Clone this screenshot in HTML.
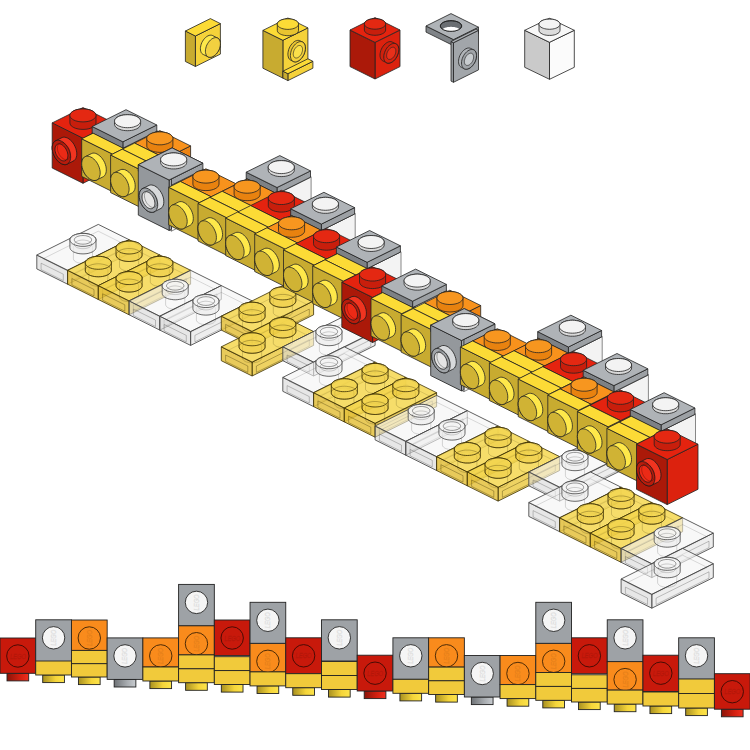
<!DOCTYPE html>
<html><head><meta charset="utf-8"><style>
html,body{margin:0;padding:0;background:#fff;width:750px;height:750px;overflow:hidden;font-family:"Liberation Sans",sans-serif;}
svg{display:block;}
</style></head><body>
<svg width="750" height="750" viewBox="0 0 750 750"><defs>
<linearGradient id="gy" x1="0" x2="1"><stop offset="0" stop-color="#a89020"/><stop offset="0.6" stop-color="#f5d53a"/><stop offset="1" stop-color="#fde44a"/></linearGradient>
<linearGradient id="gr" x1="0" x2="1"><stop offset="0" stop-color="#8a1408"/><stop offset="0.6" stop-color="#d42010"/><stop offset="1" stop-color="#f03020"/></linearGradient>
<linearGradient id="gg" x1="0" x2="1"><stop offset="0" stop-color="#6e7276"/><stop offset="0.6" stop-color="#a8acb0"/><stop offset="1" stop-color="#c8ccd0"/></linearGradient>
</defs><polygon points="195.4,66.5 220.4,54.1 220.4,23.6 195.4,36.0" fill="#f5d23a" stroke="#222222" stroke-width="0.8" stroke-linejoin="round" />
<polygon points="185.4,61.5 195.4,66.5 195.4,36.0 185.4,31.0" fill="#c8ab30" stroke="#222222" stroke-width="0.8" stroke-linejoin="round" />
<polygon points="185.4,31.0 195.4,36.0 220.4,23.6 210.4,18.6" fill="#fcdb36" stroke="#222222" stroke-width="0.8" stroke-linejoin="round" />
<polygon points="200.4,48.7 200.5,47.3 200.8,45.7 201.2,44.2 201.8,42.6 202.6,41.2 203.5,39.8 204.5,38.5 205.6,37.5 206.7,36.6 207.9,35.9 209.1,35.4 210.2,35.2 211.3,35.2 212.3,35.4 217.3,37.9 218.2,38.4 219.0,39.1 219.6,40.0 220.0,41.1 220.3,42.4 220.4,43.8 220.3,45.2 220.0,46.8 219.6,48.3 219.0,49.9 218.2,51.3 217.3,52.7 216.3,54.0 215.2,55.0 214.1,55.9 212.9,56.6 211.7,57.1 210.6,57.3 209.5,57.3 208.5,57.1 203.5,54.6 202.6,54.1 201.8,53.4 201.2,52.5 200.8,51.4 200.5,50.1" fill="#fee84a" stroke="#222222" stroke-width="0.8" stroke-linejoin="round" />
<polygon points="212.9,38.3 214.1,37.9 215.2,37.6 216.3,37.6 217.3,37.9 218.2,38.4 219.0,39.1 219.6,40.0 220.0,41.1 220.3,42.4 220.4,43.8 220.3,45.2 220.0,46.8 219.6,48.3 219.0,49.9 218.2,51.3 217.3,52.7 216.3,54.0 215.2,55.0 214.1,55.9 212.9,56.6 211.7,57.1 210.6,57.3 209.5,57.3 208.5,57.1 207.6,56.6 206.8,55.9 206.2,55.0 205.8,53.9 205.5,52.6 205.4,51.2 205.5,49.7 205.8,48.2 206.2,46.7 206.8,45.1 207.6,43.7 208.5,42.3 209.5,41.0 210.6,39.9 211.7,39.0" fill="#f2d040" stroke="#222222" stroke-width="0.8" stroke-linejoin="round" />
<polygon points="282.9,78.1 307.9,65.7 307.9,27.9 282.9,40.3" fill="#f5d23a" stroke="#222222" stroke-width="0.8" stroke-linejoin="round" />
<polygon points="262.9,68.2 282.9,78.1 282.9,40.3 262.9,30.4" fill="#c8ab30" stroke="#222222" stroke-width="0.8" stroke-linejoin="round" />
<polygon points="262.9,30.4 282.9,40.3 307.9,27.9 287.9,18.0" fill="#fcdb36" stroke="#222222" stroke-width="0.8" stroke-linejoin="round" />
<polygon points="277.3,24.1 277.4,23.3 277.8,22.5 278.4,21.7 279.3,21.0 280.4,20.4 281.7,19.8 283.1,19.4 284.6,19.1 286.2,18.9 287.9,18.8 289.6,18.9 291.2,19.1 292.7,19.4 294.1,19.8 295.4,20.4 296.5,21.0 297.4,21.7 298.0,22.5 298.4,23.3 298.5,24.1 298.5,30.4 298.4,31.2 298.0,32.0 297.4,32.8 296.5,33.5 295.4,34.1 294.1,34.7 292.7,35.1 291.2,35.4 289.6,35.6 287.9,35.7 286.2,35.6 284.6,35.4 283.1,35.1 281.7,34.7 280.4,34.1 279.3,33.5 278.4,32.8 277.8,32.0 277.4,31.2 277.3,30.4" fill="#e8c430" stroke="#222222" stroke-width="0.8" stroke-linejoin="round" />
<polygon points="295.4,27.8 296.5,27.2 297.4,26.5 298.0,25.7 298.4,24.9 298.5,24.1 298.4,23.3 298.0,22.5 297.4,21.7 296.5,21.0 295.4,20.4 294.1,19.8 292.7,19.4 291.2,19.1 289.6,18.9 287.9,18.8 286.2,18.9 284.6,19.1 283.1,19.4 281.7,19.8 280.4,20.4 279.3,21.0 278.4,21.7 277.8,22.5 277.4,23.3 277.3,24.1 277.4,24.9 277.8,25.7 278.4,26.5 279.3,27.2 280.4,27.8 281.7,28.4 283.1,28.8 284.6,29.1 286.2,29.3 287.9,29.4 289.6,29.3 291.2,29.1 292.7,28.8 294.1,28.4" fill="#fcdb36" stroke="#222222" stroke-width="0.8" stroke-linejoin="round" />
<polygon points="287.9,80.6 312.9,68.2 312.9,61.3 287.9,73.7" fill="#f5d23a" stroke="#222222" stroke-width="0.8" stroke-linejoin="round" />
<polygon points="282.9,78.1 287.9,80.6 287.9,73.7 282.9,71.2" fill="#c8ab30" stroke="#222222" stroke-width="0.8" stroke-linejoin="round" />
<polygon points="282.9,71.2 287.9,73.7 312.9,61.3 307.9,58.8" fill="#fcdb36" stroke="#222222" stroke-width="0.8" stroke-linejoin="round" />
<polygon points="287.9,54.2 288.0,52.7 288.3,51.1 288.7,49.5 289.3,48.0 290.1,46.4 291.0,45.0 292.0,43.8 293.1,42.7 294.2,41.7 295.4,41.0 296.6,40.6 297.7,40.4 298.8,40.4 299.8,40.7 302.3,41.9 303.2,42.4 304.0,43.2 304.6,44.1 305.0,45.3 305.3,46.6 305.4,48.0 305.3,49.5 305.0,51.1 304.6,52.7 304.0,54.3 303.2,55.8 302.3,57.2 301.3,58.5 300.2,59.6 299.1,60.5 297.9,61.2 296.7,61.7 295.6,61.9 294.5,61.8 293.5,61.6 291.0,60.3 290.1,59.8 289.3,59.1 288.7,58.1 288.3,57.0 288.0,55.7" fill="#e8c430" stroke="#222222" stroke-width="0.8" stroke-linejoin="round" />
<polygon points="297.9,42.3 299.1,41.8 300.2,41.6 301.3,41.6 302.3,41.9 303.2,42.4 304.0,43.2 304.6,44.1 305.0,45.3 305.3,46.6 305.4,48.0 305.3,49.5 305.0,51.1 304.6,52.7 304.0,54.3 303.2,55.8 302.3,57.2 301.3,58.5 300.2,59.6 299.1,60.5 297.9,61.2 296.7,61.7 295.6,61.9 294.5,61.8 293.5,61.6 292.6,61.1 291.8,60.3 291.2,59.3 290.8,58.2 290.5,56.9 290.4,55.5 290.5,53.9 290.8,52.4 291.2,50.8 291.8,49.2 292.6,47.7 293.5,46.3 294.5,45.0 295.6,43.9 296.7,43.0" fill="#f5d23a" stroke="#222222" stroke-width="0.8" stroke-linejoin="round" />
<polygon points="297.9,45.9 298.6,45.6 299.3,45.5 300.0,45.5 300.6,45.6 301.2,46.0 301.7,46.4 302.0,47.0 302.3,47.7 302.5,48.5 302.5,49.4 302.5,50.4 302.3,51.4 302.0,52.3 301.7,53.3 301.2,54.3 300.6,55.1 300.0,55.9 299.3,56.6 298.6,57.2 297.9,57.6 297.2,57.9 296.5,58.0 295.8,58.0 295.2,57.8 294.6,57.5 294.1,57.0 293.8,56.5 293.5,55.7 293.3,54.9 293.2,54.0 293.3,53.1 293.5,52.1 293.8,51.1 294.1,50.2 294.6,49.2 295.2,48.4 295.8,47.6 296.5,46.9 297.2,46.3" fill="#fbe04a" stroke="#222222" stroke-width="0.6400000000000001" stroke-linejoin="round" />
<polygon points="375.0,79.0 400.0,66.6 400.0,30.0 375.0,42.4" fill="#dc220e" stroke="#222222" stroke-width="0.8" stroke-linejoin="round" />
<polygon points="350.0,66.6 375.0,79.0 375.0,42.4 350.0,30.0" fill="#ab1909" stroke="#222222" stroke-width="0.8" stroke-linejoin="round" />
<polygon points="350.0,30.0 375.0,42.4 400.0,30.0 375.0,17.6" fill="#e4230f" stroke="#222222" stroke-width="0.8" stroke-linejoin="round" />
<polygon points="364.4,23.9 364.5,23.1 364.9,22.3 365.5,21.5 366.4,20.8 367.5,20.2 368.8,19.6 370.2,19.2 371.7,18.9 373.3,18.7 375.0,18.6 376.7,18.7 378.3,18.9 379.8,19.2 381.2,19.6 382.5,20.2 383.6,20.8 384.5,21.5 385.1,22.3 385.5,23.1 385.6,23.9 385.6,30.0 385.5,30.8 385.1,31.6 384.5,32.4 383.6,33.1 382.5,33.7 381.2,34.3 379.8,34.7 378.3,35.0 376.7,35.2 375.0,35.3 373.3,35.2 371.7,35.0 370.2,34.7 368.8,34.3 367.5,33.7 366.4,33.1 365.5,32.4 364.9,31.6 364.5,30.8 364.4,30.0" fill="#c81e0c" stroke="#222222" stroke-width="0.8" stroke-linejoin="round" />
<polygon points="382.5,27.6 383.6,27.0 384.5,26.3 385.1,25.5 385.5,24.7 385.6,23.9 385.5,23.1 385.1,22.3 384.5,21.5 383.6,20.8 382.5,20.2 381.2,19.6 379.8,19.2 378.3,18.9 376.7,18.7 375.0,18.6 373.3,18.7 371.7,18.9 370.2,19.2 368.8,19.6 367.5,20.2 366.4,20.8 365.5,21.5 364.9,22.3 364.5,23.1 364.4,23.9 364.5,24.7 364.9,25.5 365.5,26.3 366.4,27.0 367.5,27.6 368.8,28.2 370.2,28.6 371.7,28.9 373.3,29.1 375.0,29.2 376.7,29.1 378.3,28.9 379.8,28.6 381.2,28.2" fill="#e42812" stroke="#222222" stroke-width="0.8" stroke-linejoin="round" />
<polygon points="380.0,55.2 380.1,53.7 380.4,52.2 380.8,50.6 381.4,49.1 382.2,47.6 383.1,46.2 384.1,45.0 385.2,43.9 386.3,43.0 387.5,42.3 388.7,41.8 389.8,41.6 390.9,41.6 391.9,41.9 395.7,43.7 396.6,44.2 397.3,44.9 397.9,45.8 398.4,46.9 398.7,48.2 398.8,49.6 398.7,51.1 398.4,52.6 397.9,54.1 397.3,55.7 396.6,57.1 395.7,58.5 394.7,59.8 393.6,60.9 392.4,61.8 391.2,62.5 390.1,62.9 388.9,63.2 387.8,63.2 386.8,62.9 383.1,61.0 382.2,60.5 381.4,59.8 380.8,58.9 380.4,57.8 380.1,56.6" fill="#d0200c" stroke="#222222" stroke-width="0.8" stroke-linejoin="round" />
<polygon points="391.2,44.2 392.4,43.7 393.6,43.5 394.7,43.5 395.7,43.7 396.6,44.2 397.3,44.9 397.9,45.8 398.4,46.9 398.7,48.2 398.8,49.6 398.7,51.1 398.4,52.6 397.9,54.1 397.3,55.7 396.6,57.1 395.7,58.5 394.7,59.8 393.6,60.9 392.4,61.8 391.2,62.5 390.1,62.9 388.9,63.2 387.8,63.2 386.8,62.9 385.9,62.4 385.2,61.7 384.6,60.8 384.1,59.7 383.8,58.4 383.8,57.0 383.8,55.6 384.1,54.0 384.6,52.5 385.2,50.9 385.9,49.5 386.8,48.1 387.8,46.8 388.9,45.8 390.1,44.9" fill="#d8220e" stroke="#222222" stroke-width="0.8" stroke-linejoin="round" />
<polygon points="391.2,47.6 392.0,47.3 392.7,47.2 393.4,47.2 394.0,47.4 394.5,47.7 395.0,48.1 395.4,48.7 395.7,49.4 395.8,50.1 395.9,51.0 395.8,51.9 395.7,52.9 395.4,53.8 395.0,54.8 394.5,55.7 394.0,56.5 393.4,57.3 392.7,58.0 392.0,58.6 391.2,59.0 390.5,59.3 389.8,59.4 389.1,59.4 388.5,59.3 388.0,59.0 387.5,58.5 387.1,57.9 386.8,57.3 386.7,56.5 386.6,55.6 386.7,54.7 386.8,53.8 387.1,52.8 387.5,51.8 388.0,50.9 388.5,50.1 389.1,49.3 389.8,48.6 390.5,48.1" fill="#e8301a" stroke="#222222" stroke-width="0.6400000000000001" stroke-linejoin="round" />
<polygon points="453.5,45.7 478.5,33.3 478.5,27.2 453.5,39.6" fill="#a2a6aa" stroke="#222222" stroke-width="0.8" stroke-linejoin="round" />
<polygon points="426.0,32.1 453.5,45.7 453.5,39.6 426.0,26.0" fill="#808488" stroke="#222222" stroke-width="0.8" stroke-linejoin="round" />
<polygon points="426.0,26.0 453.5,39.6 478.5,27.2 451.0,13.6" fill="#afb3b7" stroke="#222222" stroke-width="0.8" stroke-linejoin="round" />
<clipPath id="hclip"><polygon points="458.5,29.7 459.6,29.1 460.5,28.4 461.1,27.6 461.5,26.8 461.6,26.0 461.5,25.2 461.1,24.4 460.5,23.6 459.6,22.9 458.5,22.3 457.2,21.7 455.8,21.3 454.3,21.0 452.7,20.8 451.0,20.7 449.3,20.8 447.7,21.0 446.2,21.3 444.8,21.7 443.5,22.3 442.4,22.9 441.5,23.6 440.9,24.4 440.5,25.2 440.4,26.0 440.5,26.8 440.9,27.6 441.5,28.4 442.4,29.1 443.5,29.7 444.8,30.3 446.2,30.7 447.7,31.0 449.3,31.2 451.0,31.3 452.7,31.2 454.3,31.0 455.8,30.7 457.2,30.3"/></clipPath>
<polygon points="458.5,29.7 459.6,29.1 460.5,28.4 461.1,27.6 461.5,26.8 461.6,26.0 461.5,25.2 461.1,24.4 460.5,23.6 459.6,22.9 458.5,22.3 457.2,21.7 455.8,21.3 454.3,21.0 452.7,20.8 451.0,20.7 449.3,20.8 447.7,21.0 446.2,21.3 444.8,21.7 443.5,22.3 442.4,22.9 441.5,23.6 440.9,24.4 440.5,25.2 440.4,26.0 440.5,26.8 440.9,27.6 441.5,28.4 442.4,29.1 443.5,29.7 444.8,30.3 446.2,30.7 447.7,31.0 449.3,31.2 451.0,31.3 452.7,31.2 454.3,31.0 455.8,30.7 457.2,30.3" fill="#6a6e72" stroke="#222" stroke-width="0.9" stroke-linejoin="round" />
<g clip-path="url(#hclip)"><polygon points="458.5,35.8 459.6,35.2 460.5,34.5 461.1,33.7 461.5,32.9 461.6,32.1 461.5,31.3 461.1,30.5 460.5,29.7 459.6,29.0 458.5,28.4 457.2,27.8 455.8,27.4 454.3,27.1 452.7,26.9 451.0,26.8 449.3,26.9 447.7,27.1 446.2,27.4 444.8,27.8 443.5,28.4 442.4,29.0 441.5,29.7 440.9,30.5 440.5,31.3 440.4,32.1 440.5,32.9 440.9,33.7 441.5,34.5 442.4,35.2 443.5,35.8 444.8,36.4 446.2,36.8 447.7,37.1 449.3,37.3 451.0,37.4 452.7,37.3 454.3,37.1 455.8,36.8 457.2,36.4" fill="#ffffff"/></g>
<polygon points="458.5,29.7 459.6,29.1 460.5,28.4 461.1,27.6 461.5,26.8 461.6,26.0 461.5,25.2 461.1,24.4 460.5,23.6 459.6,22.9 458.5,22.3 457.2,21.7 455.8,21.3 454.3,21.0 452.7,20.8 451.0,20.7 449.3,20.8 447.7,21.0 446.2,21.3 444.8,21.7 443.5,22.3 442.4,22.9 441.5,23.6 440.9,24.4 440.5,25.2 440.4,26.0 440.5,26.8 440.9,27.6 441.5,28.4 442.4,29.1 443.5,29.7 444.8,30.3 446.2,30.7 447.7,31.0 449.3,31.2 451.0,31.3 452.7,31.2 454.3,31.0 455.8,30.7 457.2,30.3" fill="none" stroke="#222" stroke-width="0.9"/>
<polygon points="453.5,82.3 478.5,69.9 478.5,30.3 453.5,42.7" fill="#a2a6aa" stroke="#222222" stroke-width="0.8" stroke-linejoin="round" />
<polygon points="451.0,81.1 453.5,82.3 453.5,42.7 451.0,41.5" fill="#94989c" stroke="#222222" stroke-width="0.8" stroke-linejoin="round" />
<polygon points="451.0,41.5 453.5,42.7 478.5,30.3 476.0,29.1" fill="#afb3b7" stroke="#222222" stroke-width="0.8" stroke-linejoin="round" />
<polygon points="458.5,61.6 458.6,60.1 458.9,58.5 459.3,57.0 459.9,55.5 460.7,54.0 461.6,52.6 462.6,51.4 463.7,50.3 464.8,49.4 466.0,48.7 467.2,48.2 468.3,48.0 469.4,48.0 470.4,48.3 473.4,49.7 474.3,50.2 475.1,50.9 475.7,51.9 476.1,53.0 476.4,54.2 476.5,55.6 476.4,57.1 476.1,58.6 475.7,60.2 475.1,61.7 474.3,63.2 473.4,64.5 472.4,65.8 471.3,66.9 470.2,67.8 469.0,68.5 467.8,68.9 466.7,69.2 465.6,69.2 464.6,68.9 461.6,67.4 460.7,66.9 459.9,66.2 459.3,65.3 458.9,64.2 458.6,62.9" fill="#b0b4b8" stroke="#222222" stroke-width="0.8" stroke-linejoin="round" />
<polygon points="469.0,50.2 470.2,49.7 471.3,49.5 472.4,49.5 473.4,49.7 474.3,50.2 475.1,50.9 475.7,51.9 476.1,53.0 476.4,54.2 476.5,55.6 476.4,57.1 476.1,58.6 475.7,60.2 475.1,61.7 474.3,63.2 473.4,64.5 472.4,65.8 471.3,66.9 470.2,67.8 469.0,68.5 467.8,68.9 466.7,69.2 465.6,69.2 464.6,68.9 463.7,68.4 462.9,67.7 462.3,66.8 461.9,65.7 461.6,64.4 461.5,63.0 461.6,61.6 461.9,60.0 462.3,58.5 462.9,57.0 463.7,55.5 464.6,54.1 465.6,52.9 466.7,51.8 467.8,50.9" fill="#a0a4a8" stroke="#222222" stroke-width="0.8" stroke-linejoin="round" />
<polygon points="469.0,53.7 469.7,53.4 470.4,53.2 471.1,53.2 471.7,53.4 472.3,53.7 472.8,54.1 473.1,54.7 473.4,55.4 473.6,56.2 473.6,57.0 473.6,57.9 473.4,58.9 473.1,59.8 472.8,60.8 472.3,61.7 471.7,62.6 471.1,63.3 470.4,64.0 469.7,64.6 469.0,65.0 468.3,65.3 467.6,65.4 466.9,65.4 466.3,65.3 465.7,65.0 465.2,64.5 464.9,64.0 464.6,63.3 464.4,62.5 464.4,61.6 464.4,60.7 464.6,59.8 464.9,58.8 465.2,57.9 465.7,56.9 466.3,56.1 466.9,55.3 467.6,54.6 468.3,54.1" fill="#c8cccf" stroke="#222222" stroke-width="0.6400000000000001" stroke-linejoin="round" />
<polygon points="549.5,79.3 574.3,67.3 574.3,30.3 549.5,42.3" fill="#fbfbfb" stroke="#222222" stroke-width="0.8" stroke-linejoin="round" />
<polygon points="524.7,67.3 549.5,79.3 549.5,42.3 524.7,30.3" fill="#cacaca" stroke="#222222" stroke-width="0.8" stroke-linejoin="round" />
<polygon points="524.7,30.3 549.5,42.3 574.3,30.3 549.5,18.3" fill="#f8f8f8" stroke="#222222" stroke-width="0.8" stroke-linejoin="round" />
<polygon points="539.0,24.2 539.1,23.4 539.5,22.6 540.1,21.9 541.0,21.2 542.1,20.6 543.3,20.1 544.7,19.6 546.2,19.3 547.9,19.2 549.5,19.1 551.1,19.2 552.8,19.3 554.3,19.6 555.7,20.1 556.9,20.6 558.0,21.2 558.9,21.9 559.5,22.6 559.9,23.4 560.0,24.2 560.0,30.3 559.9,31.1 559.5,31.9 558.9,32.7 558.0,33.3 556.9,33.9 555.7,34.5 554.3,34.9 552.8,35.2 551.1,35.4 549.5,35.4 547.9,35.4 546.2,35.2 544.7,34.9 543.3,34.5 542.1,33.9 541.0,33.3 540.1,32.7 539.5,31.9 539.1,31.1 539.0,30.3" fill="#dcdcdc" stroke="#222222" stroke-width="0.8" stroke-linejoin="round" />
<polygon points="556.9,27.8 558.0,27.2 558.9,26.5 559.5,25.8 559.9,25.0 560.0,24.2 559.9,23.4 559.5,22.6 558.9,21.9 558.0,21.2 556.9,20.6 555.7,20.1 554.3,19.6 552.8,19.3 551.1,19.2 549.5,19.1 547.9,19.2 546.2,19.3 544.7,19.6 543.3,20.1 542.1,20.6 541.0,21.2 540.1,21.9 539.5,22.6 539.1,23.4 539.0,24.2 539.1,25.0 539.5,25.8 540.1,26.5 541.0,27.2 542.1,27.8 543.3,28.3 544.7,28.7 546.2,29.0 547.9,29.2 549.5,29.3 551.1,29.2 552.8,29.0 554.3,28.7 555.7,28.3" fill="#f4f4f4" stroke="#222222" stroke-width="0.8" stroke-linejoin="round" />
<polygon points="67.6,284.2 129.1,253.6 129.1,239.7 67.6,270.3" fill="#e4e4e4" stroke="#454545" stroke-width="0.85" stroke-linejoin="round" fill-opacity="0.62" />
<polygon points="36.8,268.9 67.6,284.2 67.6,270.3 36.8,255.0" fill="#d9d9d9" stroke="#454545" stroke-width="0.85" stroke-linejoin="round" fill-opacity="0.62" />
<polygon points="36.8,255.0 67.6,270.3 129.1,239.7 98.3,224.4" fill="#f3f3f3" stroke="#454545" stroke-width="0.85" stroke-linejoin="round" fill-opacity="0.62" />
<polygon points="41.1,269.6 63.3,280.6 63.3,274.2 41.1,263.2" fill="none" stroke="#454545" stroke-width="0.7" stroke-opacity="0.45"/>
<polygon points="71.9,280.6 124.8,254.3 124.8,247.9 71.9,274.2" fill="none" stroke="#454545" stroke-width="0.7" stroke-opacity="0.45"/>
<polygon points="43.0,258.8 67.6,271.0 122.9,243.5 98.3,231.2" fill="none" stroke="#454545" stroke-width="0.6" stroke-opacity="0.3"/>
<polygon points="73.4,247.4 73.5,246.6 73.9,245.9 74.4,245.2 75.2,244.6 76.2,244.0 77.3,243.5 78.6,243.1 80.0,242.8 81.5,242.7 83.0,242.6 84.4,242.7 85.9,242.8 87.3,243.1 88.6,243.5 89.7,244.0 90.7,244.6 91.5,245.2 92.0,245.9 92.4,246.6 92.5,247.4 92.5,258.7 92.4,259.4 92.0,260.1 91.5,260.8 90.7,261.5 89.7,262.0 88.6,262.5 87.3,262.9 85.9,263.2 84.4,263.4 83.0,263.4 81.5,263.4 80.0,263.2 78.6,262.9 77.3,262.5 76.2,262.0 75.2,261.5 74.4,260.8 73.9,260.1 73.5,259.4 73.4,258.7" fill="none" stroke="#454545" stroke-width="0.6" stroke-opacity="0.35"/>
<polygon points="69.9,239.9 70.1,238.8 70.5,237.8 71.3,236.9 72.4,236.0 73.7,235.3 75.3,234.6 77.0,234.1 78.9,233.7 80.9,233.4 83.0,233.4 85.0,233.4 87.0,233.7 88.9,234.1 90.6,234.6 92.2,235.3 93.5,236.0 94.6,236.9 95.4,237.8 95.8,238.8 96.0,239.9 96.0,247.4 95.8,248.4 95.4,249.4 94.6,250.3 93.5,251.2 92.2,252.0 90.6,252.6 88.9,253.2 87.0,253.6 85.0,253.8 83.0,253.9 80.9,253.8 78.9,253.6 77.0,253.2 75.3,252.6 73.7,252.0 72.4,251.2 71.3,250.3 70.5,249.4 70.1,248.4 69.9,247.4" fill="#ececec" fill-opacity="0.7" stroke="#454545" stroke-width="0.8"/>
<polygon points="92.2,244.4 93.5,243.7 94.6,242.8 95.4,241.9 95.8,240.9 96.0,239.9 95.8,238.8 95.4,237.9 94.6,236.9 93.5,236.0 92.2,235.3 90.6,234.6 88.9,234.1 87.0,233.7 85.0,233.4 83.0,233.4 80.9,233.4 78.9,233.7 77.0,234.1 75.3,234.6 73.7,235.3 72.4,236.0 71.3,236.9 70.5,237.9 70.1,238.8 69.9,239.9 70.1,240.9 70.5,241.9 71.3,242.8 72.4,243.7 73.7,244.4 75.3,245.1 77.0,245.6 78.9,246.0 80.9,246.3 83.0,246.3 85.0,246.3 87.0,246.0 88.9,245.6 90.6,245.1" fill="#f8f8f8" fill-opacity="0.7" stroke="#454545" stroke-width="0.8"/>
<polygon points="89.1,242.9 90.0,242.4 90.7,241.8 91.2,241.2 91.5,240.5 91.6,239.9 91.5,239.2 91.2,238.5 90.7,237.9 90.0,237.3 89.1,236.8 88.1,236.4 86.9,236.0 85.6,235.7 84.3,235.6 83.0,235.5 81.6,235.6 80.3,235.7 79.0,236.0 77.8,236.4 76.8,236.8 75.9,237.3 75.2,237.9 74.7,238.5 74.4,239.2 74.3,239.9 74.4,240.5 74.7,241.2 75.2,241.8 75.9,242.4 76.8,242.9 77.8,243.4 79.0,243.7 80.3,244.0 81.6,244.1 83.0,244.2 84.3,244.1 85.6,244.0 86.9,243.7 88.1,243.4" fill="none" stroke="#454545" stroke-width="0.7" stroke-opacity="0.8"/>
<polygon points="89.1,247.4 90.0,246.9 90.7,246.3 91.2,245.7 91.5,245.0 91.6,244.4 91.5,243.7 91.2,243.0 90.7,242.4 90.0,241.8 89.1,241.3 88.1,240.9 86.9,240.5 85.6,240.3 84.3,240.1 83.0,240.0 81.6,240.1 80.3,240.3 79.0,240.5 77.8,240.9 76.8,241.3 75.9,241.8 75.2,242.4 74.7,243.0 74.4,243.7 74.3,244.4 74.4,245.0 74.7,245.7 75.2,246.3 75.9,246.9 76.8,247.4 77.8,247.9 79.0,248.2 80.3,248.5 81.6,248.6 83.0,248.7 84.3,248.6 85.6,248.5 86.9,248.2 88.1,247.9" fill="none" stroke="#454545" stroke-width="0.6" stroke-opacity="0.4"/>
<polygon points="98.3,299.5 159.8,268.9 159.8,255.0 98.3,285.6" fill="#ebc944" stroke="#3a2e04" stroke-width="0.8" stroke-linejoin="round" fill-opacity="0.84" />
<polygon points="67.6,284.2 98.3,299.5 98.3,285.6 67.6,270.3" fill="#e4c03a" stroke="#3a2e04" stroke-width="0.8" stroke-linejoin="round" fill-opacity="0.84" />
<polygon points="67.6,270.3 98.3,285.6 159.8,255.0 129.1,239.7" fill="#f4d64e" stroke="#3a2e04" stroke-width="0.8" stroke-linejoin="round" fill-opacity="0.84" />
<polygon points="71.9,284.9 94.0,295.9 94.0,289.5 71.9,278.5" fill="none" stroke="#3a2e04" stroke-width="0.7" stroke-opacity="0.5"/>
<polygon points="102.6,295.9 155.5,269.6 155.5,263.2 102.6,289.5" fill="none" stroke="#3a2e04" stroke-width="0.7" stroke-opacity="0.5"/>
<polygon points="73.7,274.1 98.3,286.3 153.7,258.8 129.1,246.5" fill="none" stroke="#3a2e04" stroke-width="0.6" stroke-opacity="0.25"/>
<polygon points="88.8,270.3 88.9,269.6 89.2,268.9 89.8,268.2 90.6,267.5 91.6,267.0 92.7,266.5 94.0,266.1 95.4,265.8 96.8,265.6 98.3,265.6 99.8,265.6 101.3,265.8 102.7,266.1 103.9,266.5 105.1,267.0 106.1,267.5 106.8,268.2 107.4,268.9 107.8,269.6 107.9,270.3 107.9,281.6 107.8,282.4 107.4,283.1 106.8,283.8 106.1,284.4 105.1,285.0 103.9,285.5 102.7,285.8 101.3,286.1 99.8,286.3 98.3,286.4 96.8,286.3 95.4,286.1 94.0,285.8 92.7,285.5 91.6,285.0 90.6,284.4 89.8,283.8 89.2,283.1 88.9,282.4 88.8,281.6" fill="none" stroke="#3a2e04" stroke-width="0.6" stroke-opacity="0.35"/>
<polygon points="85.3,262.8 85.4,261.8 85.9,260.8 86.7,259.9 87.8,259.0 89.1,258.2 90.7,257.6 92.4,257.0 94.3,256.6 96.3,256.4 98.3,256.3 100.4,256.4 102.4,256.6 104.2,257.0 106.0,257.6 107.5,258.2 108.9,259.0 109.9,259.9 110.7,260.8 111.2,261.8 111.4,262.8 111.4,270.3 111.2,271.3 110.7,272.3 109.9,273.3 108.9,274.1 107.5,274.9 106.0,275.6 104.2,276.1 102.4,276.5 100.4,276.7 98.3,276.8 96.3,276.7 94.3,276.5 92.4,276.1 90.7,275.6 89.1,274.9 87.8,274.1 86.7,273.3 85.9,272.3 85.4,271.3 85.3,270.3" fill="#eccb40" fill-opacity="0.55" stroke="#3a2e04" stroke-width="0.8"/>
<polygon points="107.6,267.4 108.9,266.6 109.9,265.8 110.7,264.8 111.2,263.8 111.4,262.8 111.2,261.8 110.7,260.8 109.9,259.9 108.9,259.0 107.6,258.2 106.0,257.6 104.2,257.0 102.4,256.6 100.4,256.4 98.3,256.3 96.3,256.4 94.3,256.6 92.4,257.0 90.7,257.6 89.1,258.2 87.8,259.0 86.7,259.9 85.9,260.8 85.4,261.8 85.3,262.8 85.4,263.8 85.9,264.8 86.7,265.8 87.8,266.6 89.1,267.4 90.7,268.1 92.4,268.6 94.3,269.0 96.3,269.2 98.3,269.3 100.4,269.2 102.4,269.0 104.2,268.6 106.0,268.1" fill="#f6da58" fill-opacity="0.55" stroke="#3a2e04" stroke-width="0.8"/>
<polygon points="107.6,274.9 108.9,274.1 109.9,273.3 110.7,272.3 111.2,271.3 111.4,270.3 111.2,269.3 110.7,268.3 109.9,267.4 108.9,266.5 107.6,265.7 106.0,265.1 104.2,264.5 102.4,264.2 100.4,263.9 98.3,263.8 96.3,263.9 94.3,264.2 92.4,264.5 90.7,265.1 89.1,265.7 87.8,266.5 86.7,267.4 85.9,268.3 85.4,269.3 85.3,270.3 85.4,271.3 85.9,272.3 86.7,273.3 87.8,274.1 89.1,274.9 90.7,275.6 92.4,276.1 94.3,276.5 96.3,276.7 98.3,276.8 100.4,276.7 102.4,276.5 104.2,276.1 106.0,275.6" fill="none" stroke="#3a2e04" stroke-width="0.7" stroke-opacity="0.45"/>
<polygon points="119.5,255.0 119.6,254.3 120.0,253.6 120.6,252.9 121.3,252.2 122.3,251.7 123.5,251.2 124.7,250.8 126.1,250.5 127.6,250.3 129.1,250.3 130.6,250.3 132.0,250.5 133.4,250.8 134.7,251.2 135.8,251.7 136.8,252.2 137.6,252.9 138.2,253.6 138.5,254.3 138.6,255.0 138.6,266.3 138.5,267.1 138.2,267.8 137.6,268.5 136.8,269.1 135.8,269.7 134.7,270.2 133.4,270.5 132.0,270.8 130.6,271.0 129.1,271.1 127.6,271.0 126.1,270.8 124.7,270.5 123.5,270.2 122.3,269.7 121.3,269.1 120.6,268.5 120.0,267.8 119.6,267.1 119.5,266.3" fill="none" stroke="#3a2e04" stroke-width="0.6" stroke-opacity="0.35"/>
<polygon points="116.0,247.5 116.2,246.5 116.7,245.5 117.5,244.6 118.5,243.7 119.8,242.9 121.4,242.3 123.2,241.7 125.0,241.3 127.0,241.1 129.1,241.0 131.1,241.1 133.1,241.3 135.0,241.7 136.7,242.3 138.3,242.9 139.6,243.7 140.7,244.6 141.5,245.5 142.0,246.5 142.1,247.5 142.1,255.0 142.0,256.0 141.5,257.0 140.7,258.0 139.6,258.8 138.3,259.6 136.7,260.3 135.0,260.8 133.1,261.2 131.1,261.4 129.1,261.5 127.0,261.4 125.0,261.2 123.2,260.8 121.4,260.3 119.8,259.6 118.5,258.8 117.5,258.0 116.7,257.0 116.2,256.0 116.0,255.0" fill="#eccb40" fill-opacity="0.55" stroke="#3a2e04" stroke-width="0.8"/>
<polygon points="138.3,252.1 139.6,251.3 140.7,250.5 141.5,249.5 142.0,248.5 142.1,247.5 142.0,246.5 141.5,245.5 140.7,244.6 139.6,243.7 138.3,242.9 136.7,242.3 135.0,241.7 133.1,241.3 131.1,241.1 129.1,241.0 127.0,241.1 125.0,241.3 123.2,241.7 121.4,242.3 119.9,242.9 118.5,243.7 117.5,244.6 116.7,245.5 116.2,246.5 116.0,247.5 116.2,248.5 116.7,249.5 117.5,250.5 118.5,251.3 119.9,252.1 121.4,252.8 123.2,253.3 125.0,253.7 127.0,253.9 129.1,254.0 131.1,253.9 133.1,253.7 135.0,253.3 136.7,252.8" fill="#f6da58" fill-opacity="0.55" stroke="#3a2e04" stroke-width="0.8"/>
<polygon points="138.3,259.6 139.6,258.8 140.7,258.0 141.5,257.0 142.0,256.0 142.1,255.0 142.0,254.0 141.5,253.0 140.7,252.1 139.6,251.2 138.3,250.4 136.7,249.8 135.0,249.2 133.1,248.9 131.1,248.6 129.1,248.5 127.0,248.6 125.0,248.9 123.2,249.2 121.4,249.8 119.9,250.4 118.5,251.2 117.5,252.1 116.7,253.0 116.2,254.0 116.0,255.0 116.2,256.0 116.7,257.0 117.5,258.0 118.5,258.8 119.9,259.6 121.4,260.3 123.2,260.8 125.0,261.2 127.0,261.4 129.1,261.5 131.1,261.4 133.1,261.2 135.0,260.8 136.7,260.3" fill="none" stroke="#3a2e04" stroke-width="0.7" stroke-opacity="0.45"/>
<polygon points="129.1,314.8 190.6,284.2 190.6,270.3 129.1,300.9" fill="#ebc944" stroke="#3a2e04" stroke-width="0.8" stroke-linejoin="round" fill-opacity="0.84" />
<polygon points="98.3,299.5 129.1,314.8 129.1,300.9 98.3,285.6" fill="#e4c03a" stroke="#3a2e04" stroke-width="0.8" stroke-linejoin="round" fill-opacity="0.84" />
<polygon points="98.3,285.6 129.1,300.9 190.6,270.3 159.8,255.0" fill="#f4d64e" stroke="#3a2e04" stroke-width="0.8" stroke-linejoin="round" fill-opacity="0.84" />
<polygon points="102.6,300.2 124.8,311.2 124.8,304.8 102.6,293.8" fill="none" stroke="#3a2e04" stroke-width="0.7" stroke-opacity="0.5"/>
<polygon points="133.4,311.2 186.3,284.9 186.3,278.5 133.4,304.8" fill="none" stroke="#3a2e04" stroke-width="0.7" stroke-opacity="0.5"/>
<polygon points="104.5,289.4 129.1,301.6 184.4,274.1 159.8,261.8" fill="none" stroke="#3a2e04" stroke-width="0.6" stroke-opacity="0.25"/>
<polygon points="119.5,285.6 119.6,284.9 120.0,284.2 120.6,283.5 121.3,282.8 122.3,282.3 123.5,281.8 124.7,281.4 126.1,281.1 127.6,280.9 129.1,280.9 130.6,280.9 132.0,281.1 133.4,281.4 134.7,281.8 135.8,282.3 136.8,282.8 137.6,283.5 138.2,284.2 138.5,284.9 138.6,285.6 138.6,296.9 138.5,297.7 138.2,298.4 137.6,299.1 136.8,299.7 135.8,300.3 134.7,300.8 133.4,301.1 132.0,301.4 130.6,301.6 129.1,301.7 127.6,301.6 126.1,301.4 124.7,301.1 123.5,300.8 122.3,300.3 121.3,299.7 120.6,299.1 120.0,298.4 119.6,297.7 119.5,296.9" fill="none" stroke="#3a2e04" stroke-width="0.6" stroke-opacity="0.35"/>
<polygon points="116.0,278.1 116.2,277.1 116.7,276.1 117.5,275.2 118.5,274.3 119.8,273.5 121.4,272.9 123.2,272.3 125.0,271.9 127.0,271.7 129.1,271.6 131.1,271.7 133.1,271.9 135.0,272.3 136.7,272.9 138.3,273.5 139.6,274.3 140.7,275.2 141.5,276.1 142.0,277.1 142.1,278.1 142.1,285.6 142.0,286.6 141.5,287.6 140.7,288.6 139.6,289.4 138.3,290.2 136.7,290.9 135.0,291.4 133.1,291.8 131.1,292.0 129.1,292.1 127.0,292.0 125.0,291.8 123.2,291.4 121.4,290.9 119.8,290.2 118.5,289.4 117.5,288.6 116.7,287.6 116.2,286.6 116.0,285.6" fill="#eccb40" fill-opacity="0.55" stroke="#3a2e04" stroke-width="0.8"/>
<polygon points="138.3,282.7 139.6,281.9 140.7,281.1 141.5,280.1 142.0,279.1 142.1,278.1 142.0,277.1 141.5,276.1 140.7,275.2 139.6,274.3 138.3,273.5 136.7,272.9 135.0,272.3 133.1,271.9 131.1,271.7 129.1,271.6 127.0,271.7 125.0,271.9 123.2,272.3 121.4,272.9 119.9,273.5 118.5,274.3 117.5,275.2 116.7,276.1 116.2,277.1 116.0,278.1 116.2,279.1 116.7,280.1 117.5,281.1 118.5,281.9 119.9,282.7 121.4,283.4 123.2,283.9 125.0,284.3 127.0,284.5 129.1,284.6 131.1,284.5 133.1,284.3 135.0,283.9 136.7,283.4" fill="#f6da58" fill-opacity="0.55" stroke="#3a2e04" stroke-width="0.8"/>
<polygon points="138.3,290.2 139.6,289.4 140.7,288.6 141.5,287.6 142.0,286.6 142.1,285.6 142.0,284.6 141.5,283.6 140.7,282.7 139.6,281.8 138.3,281.0 136.7,280.4 135.0,279.8 133.1,279.5 131.1,279.2 129.1,279.1 127.0,279.2 125.0,279.5 123.2,279.8 121.4,280.4 119.9,281.0 118.5,281.8 117.5,282.7 116.7,283.6 116.2,284.6 116.0,285.6 116.2,286.6 116.7,287.6 117.5,288.6 118.5,289.4 119.9,290.2 121.4,290.9 123.2,291.4 125.0,291.8 127.0,292.0 129.1,292.1 131.1,292.0 133.1,291.8 135.0,291.4 136.7,290.9" fill="none" stroke="#3a2e04" stroke-width="0.7" stroke-opacity="0.45"/>
<polygon points="150.3,270.3 150.4,269.6 150.7,268.9 151.3,268.2 152.1,267.5 153.1,267.0 154.2,266.5 155.5,266.1 156.9,265.8 158.3,265.6 159.8,265.6 161.3,265.6 162.8,265.8 164.2,266.1 165.4,266.5 166.6,267.0 167.6,267.5 168.3,268.2 168.9,268.9 169.3,269.6 169.4,270.3 169.4,281.6 169.3,282.4 168.9,283.1 168.3,283.8 167.6,284.4 166.6,285.0 165.4,285.5 164.2,285.8 162.8,286.1 161.3,286.3 159.8,286.4 158.3,286.3 156.9,286.1 155.5,285.8 154.2,285.5 153.1,285.0 152.1,284.4 151.3,283.8 150.7,283.1 150.4,282.4 150.3,281.6" fill="none" stroke="#3a2e04" stroke-width="0.6" stroke-opacity="0.35"/>
<polygon points="146.8,262.8 146.9,261.8 147.4,260.8 148.2,259.9 149.3,259.0 150.6,258.2 152.2,257.6 153.9,257.0 155.8,256.6 157.8,256.4 159.8,256.3 161.9,256.4 163.9,256.6 165.7,257.0 167.5,257.6 169.1,258.2 170.4,259.0 171.4,259.9 172.2,260.8 172.7,261.8 172.9,262.8 172.9,270.3 172.7,271.3 172.2,272.3 171.4,273.3 170.4,274.1 169.1,274.9 167.5,275.6 165.7,276.1 163.9,276.5 161.9,276.7 159.8,276.8 157.8,276.7 155.8,276.5 153.9,276.1 152.2,275.6 150.6,274.9 149.3,274.1 148.2,273.3 147.4,272.3 146.9,271.3 146.8,270.3" fill="#eccb40" fill-opacity="0.55" stroke="#3a2e04" stroke-width="0.8"/>
<polygon points="169.1,267.4 170.4,266.6 171.4,265.8 172.2,264.8 172.7,263.8 172.9,262.8 172.7,261.8 172.2,260.8 171.4,259.9 170.4,259.0 169.1,258.2 167.5,257.6 165.7,257.0 163.9,256.6 161.9,256.4 159.8,256.3 157.8,256.4 155.8,256.6 153.9,257.0 152.2,257.6 150.6,258.2 149.3,259.0 148.2,259.9 147.4,260.8 146.9,261.8 146.8,262.8 146.9,263.8 147.4,264.8 148.2,265.8 149.3,266.6 150.6,267.4 152.2,268.1 153.9,268.6 155.8,269.0 157.8,269.2 159.8,269.3 161.9,269.2 163.9,269.0 165.7,268.6 167.5,268.1" fill="#f6da58" fill-opacity="0.55" stroke="#3a2e04" stroke-width="0.8"/>
<polygon points="169.1,274.9 170.4,274.1 171.4,273.3 172.2,272.3 172.7,271.3 172.9,270.3 172.7,269.3 172.2,268.3 171.4,267.4 170.4,266.5 169.1,265.7 167.5,265.1 165.7,264.5 163.9,264.2 161.9,263.9 159.8,263.8 157.8,263.9 155.8,264.2 153.9,264.5 152.2,265.1 150.6,265.7 149.3,266.5 148.2,267.4 147.4,268.3 146.9,269.3 146.8,270.3 146.9,271.3 147.4,272.3 148.2,273.3 149.3,274.1 150.6,274.9 152.2,275.6 153.9,276.1 155.8,276.5 157.8,276.7 159.8,276.8 161.9,276.7 163.9,276.5 165.7,276.1 167.5,275.6" fill="none" stroke="#3a2e04" stroke-width="0.7" stroke-opacity="0.45"/>
<polygon points="159.8,330.1 221.3,299.5 221.3,285.6 159.8,316.2" fill="#e4e4e4" stroke="#454545" stroke-width="0.85" stroke-linejoin="round" fill-opacity="0.62" />
<polygon points="129.1,314.8 159.8,330.1 159.8,316.2 129.1,300.9" fill="#d9d9d9" stroke="#454545" stroke-width="0.85" stroke-linejoin="round" fill-opacity="0.62" />
<polygon points="129.1,300.9 159.8,316.2 221.3,285.6 190.6,270.3" fill="#f3f3f3" stroke="#454545" stroke-width="0.85" stroke-linejoin="round" fill-opacity="0.62" />
<polygon points="133.4,315.5 155.5,326.5 155.5,320.1 133.4,309.1" fill="none" stroke="#454545" stroke-width="0.7" stroke-opacity="0.45"/>
<polygon points="164.1,326.5 217.0,300.2 217.0,293.8 164.1,320.1" fill="none" stroke="#454545" stroke-width="0.7" stroke-opacity="0.45"/>
<polygon points="135.2,304.7 159.8,316.9 215.2,289.4 190.6,277.1" fill="none" stroke="#454545" stroke-width="0.6" stroke-opacity="0.3"/>
<polygon points="165.6,293.3 165.8,292.5 166.1,291.8 166.7,291.1 167.5,290.5 168.4,289.9 169.6,289.4 170.9,289.0 172.2,288.7 173.7,288.6 175.2,288.5 176.7,288.6 178.2,288.7 179.5,289.0 180.8,289.4 182.0,289.9 182.9,290.5 183.7,291.1 184.3,291.8 184.6,292.5 184.8,293.3 184.8,304.6 184.6,305.3 184.3,306.0 183.7,306.7 182.9,307.4 182.0,307.9 180.8,308.4 179.5,308.8 178.2,309.1 176.7,309.3 175.2,309.3 173.7,309.3 172.2,309.1 170.9,308.8 169.6,308.4 168.4,307.9 167.5,307.4 166.7,306.7 166.1,306.0 165.8,305.3 165.6,304.6" fill="none" stroke="#454545" stroke-width="0.6" stroke-opacity="0.35"/>
<polygon points="162.2,285.8 162.3,284.7 162.8,283.8 163.6,282.8 164.6,281.9 166.0,281.2 167.5,280.5 169.3,280.0 171.2,279.6 173.2,279.3 175.2,279.3 177.2,279.3 179.2,279.6 181.1,280.0 182.9,280.5 184.4,281.2 185.8,281.9 186.8,282.8 187.6,283.8 188.1,284.7 188.2,285.8 188.2,293.3 188.1,294.3 187.6,295.3 186.8,296.2 185.8,297.1 184.4,297.9 182.9,298.5 181.1,299.1 179.2,299.4 177.2,299.7 175.2,299.8 173.2,299.7 171.2,299.4 169.3,299.1 167.5,298.5 166.0,297.9 164.6,297.1 163.6,296.2 162.8,295.3 162.3,294.3 162.2,293.3" fill="#ececec" fill-opacity="0.7" stroke="#454545" stroke-width="0.8"/>
<polygon points="184.4,290.3 185.8,289.6 186.8,288.7 187.6,287.8 188.1,286.8 188.2,285.8 188.1,284.7 187.6,283.8 186.8,282.8 185.8,281.9 184.4,281.2 182.9,280.5 181.1,280.0 179.2,279.6 177.2,279.3 175.2,279.3 173.2,279.3 171.2,279.6 169.3,280.0 167.5,280.5 166.0,281.2 164.6,281.9 163.6,282.8 162.8,283.8 162.3,284.7 162.2,285.8 162.3,286.8 162.8,287.8 163.6,288.7 164.6,289.6 166.0,290.3 167.5,291.0 169.3,291.5 171.2,291.9 173.2,292.2 175.2,292.2 177.2,292.2 179.2,291.9 181.1,291.5 182.9,291.0" fill="#f8f8f8" fill-opacity="0.7" stroke="#454545" stroke-width="0.8"/>
<polygon points="181.4,288.8 182.2,288.3 182.9,287.7 183.5,287.1 183.8,286.4 183.9,285.8 183.8,285.1 183.5,284.4 182.9,283.8 182.2,283.2 181.4,282.7 180.3,282.3 179.1,281.9 177.9,281.6 176.6,281.5 175.2,281.4 173.8,281.5 172.5,281.6 171.3,281.9 170.1,282.3 169.1,282.7 168.2,283.2 167.5,283.8 166.9,284.4 166.6,285.1 166.5,285.8 166.6,286.4 166.9,287.1 167.5,287.7 168.2,288.3 169.1,288.8 170.1,289.3 171.3,289.6 172.5,289.9 173.8,290.0 175.2,290.1 176.6,290.0 177.9,289.9 179.1,289.6 180.3,289.3" fill="none" stroke="#454545" stroke-width="0.7" stroke-opacity="0.8"/>
<polygon points="181.4,293.3 182.2,292.8 182.9,292.2 183.5,291.6 183.8,290.9 183.9,290.3 183.8,289.6 183.5,288.9 182.9,288.3 182.2,287.7 181.4,287.2 180.3,286.8 179.1,286.4 177.9,286.2 176.6,286.0 175.2,285.9 173.8,286.0 172.5,286.2 171.3,286.4 170.1,286.8 169.1,287.2 168.2,287.7 167.5,288.3 166.9,288.9 166.6,289.6 166.5,290.3 166.6,290.9 166.9,291.6 167.5,292.2 168.2,292.8 169.1,293.3 170.1,293.8 171.3,294.1 172.5,294.4 173.8,294.5 175.2,294.6 176.6,294.5 177.9,294.4 179.1,294.1 180.3,293.8" fill="none" stroke="#454545" stroke-width="0.6" stroke-opacity="0.4"/>
<polygon points="190.6,345.4 252.1,314.8 252.1,300.9 190.6,331.5" fill="#e4e4e4" stroke="#454545" stroke-width="0.85" stroke-linejoin="round" fill-opacity="0.62" />
<polygon points="159.8,330.1 190.6,345.4 190.6,331.5 159.8,316.2" fill="#d9d9d9" stroke="#454545" stroke-width="0.85" stroke-linejoin="round" fill-opacity="0.62" />
<polygon points="159.8,316.2 190.6,331.5 252.1,300.9 221.3,285.6" fill="#f3f3f3" stroke="#454545" stroke-width="0.85" stroke-linejoin="round" fill-opacity="0.62" />
<polygon points="164.1,330.8 186.3,341.8 186.3,335.4 164.1,324.4" fill="none" stroke="#454545" stroke-width="0.7" stroke-opacity="0.45"/>
<polygon points="194.9,341.8 247.8,315.5 247.8,309.1 194.9,335.4" fill="none" stroke="#454545" stroke-width="0.7" stroke-opacity="0.45"/>
<polygon points="166.0,320.0 190.6,332.2 245.9,304.7 221.3,292.4" fill="none" stroke="#454545" stroke-width="0.6" stroke-opacity="0.3"/>
<polygon points="196.4,308.6 196.5,307.8 196.9,307.1 197.4,306.4 198.2,305.8 199.2,305.2 200.3,304.7 201.6,304.3 203.0,304.0 204.5,303.9 205.9,303.8 207.4,303.9 208.9,304.0 210.3,304.3 211.6,304.7 212.7,305.2 213.7,305.8 214.5,306.4 215.0,307.1 215.4,307.8 215.5,308.6 215.5,319.9 215.4,320.6 215.0,321.3 214.5,322.0 213.7,322.7 212.7,323.2 211.6,323.7 210.3,324.1 208.9,324.4 207.4,324.6 205.9,324.6 204.5,324.6 203.0,324.4 201.6,324.1 200.3,323.7 199.2,323.2 198.2,322.7 197.4,322.0 196.9,321.3 196.5,320.6 196.4,319.9" fill="none" stroke="#454545" stroke-width="0.6" stroke-opacity="0.35"/>
<polygon points="192.9,301.1 193.1,300.0 193.5,299.1 194.3,298.1 195.4,297.2 196.7,296.5 198.3,295.8 200.0,295.3 201.9,294.9 203.9,294.6 205.9,294.6 208.0,294.6 210.0,294.9 211.9,295.3 213.6,295.8 215.2,296.5 216.5,297.2 217.6,298.1 218.4,299.1 218.8,300.0 219.0,301.1 219.0,308.6 218.8,309.6 218.4,310.6 217.6,311.5 216.5,312.4 215.2,313.2 213.6,313.8 211.9,314.4 210.0,314.8 208.0,315.0 205.9,315.1 203.9,315.0 201.9,314.8 200.0,314.4 198.3,313.8 196.7,313.2 195.4,312.4 194.3,311.5 193.5,310.6 193.1,309.6 192.9,308.6" fill="#ececec" fill-opacity="0.7" stroke="#454545" stroke-width="0.8"/>
<polygon points="215.2,305.6 216.5,304.9 217.6,304.0 218.4,303.1 218.8,302.1 219.0,301.1 218.8,300.0 218.4,299.1 217.6,298.1 216.5,297.2 215.2,296.5 213.6,295.8 211.9,295.3 210.0,294.9 208.0,294.6 205.9,294.6 203.9,294.6 201.9,294.9 200.0,295.3 198.3,295.8 196.7,296.5 195.4,297.2 194.3,298.1 193.5,299.1 193.1,300.0 192.9,301.1 193.1,302.1 193.5,303.1 194.3,304.0 195.4,304.9 196.7,305.6 198.3,306.3 200.0,306.8 201.9,307.2 203.9,307.5 205.9,307.5 208.0,307.5 210.0,307.2 211.9,306.8 213.6,306.3" fill="#f8f8f8" fill-opacity="0.7" stroke="#454545" stroke-width="0.8"/>
<polygon points="212.1,304.1 213.0,303.6 213.7,303.0 214.2,302.4 214.5,301.7 214.6,301.1 214.5,300.4 214.2,299.7 213.7,299.1 213.0,298.5 212.1,298.0 211.1,297.6 209.9,297.2 208.6,296.9 207.3,296.8 205.9,296.7 204.6,296.8 203.3,296.9 202.0,297.2 200.8,297.6 199.8,298.0 198.9,298.5 198.2,299.1 197.7,299.7 197.4,300.4 197.3,301.1 197.4,301.7 197.7,302.4 198.2,303.0 198.9,303.6 199.8,304.1 200.8,304.6 202.0,304.9 203.3,305.2 204.6,305.3 205.9,305.4 207.3,305.3 208.6,305.2 209.9,304.9 211.1,304.6" fill="none" stroke="#454545" stroke-width="0.7" stroke-opacity="0.8"/>
<polygon points="212.1,308.6 213.0,308.1 213.7,307.5 214.2,306.9 214.5,306.2 214.6,305.6 214.5,304.9 214.2,304.2 213.7,303.6 213.0,303.0 212.1,302.5 211.1,302.1 209.9,301.7 208.6,301.5 207.3,301.3 205.9,301.2 204.6,301.3 203.3,301.5 202.0,301.7 200.8,302.1 199.8,302.5 198.9,303.0 198.2,303.6 197.7,304.2 197.4,304.9 197.3,305.6 197.4,306.2 197.7,306.9 198.2,307.5 198.9,308.1 199.8,308.6 200.8,309.1 202.0,309.4 203.3,309.7 204.6,309.8 205.9,309.9 207.3,309.8 208.6,309.7 209.9,309.4 211.1,309.1" fill="none" stroke="#454545" stroke-width="0.6" stroke-opacity="0.4"/>
<polygon points="252.1,345.4 313.6,314.8 313.6,300.9 252.1,331.5" fill="#ebc944" stroke="#3a2e04" stroke-width="0.8" stroke-linejoin="round" fill-opacity="0.84" />
<polygon points="221.3,330.1 252.1,345.4 252.1,331.5 221.3,316.2" fill="#e4c03a" stroke="#3a2e04" stroke-width="0.8" stroke-linejoin="round" fill-opacity="0.84" />
<polygon points="221.3,316.2 252.1,331.5 313.6,300.9 282.8,285.6" fill="#f4d64e" stroke="#3a2e04" stroke-width="0.8" stroke-linejoin="round" fill-opacity="0.84" />
<polygon points="225.6,330.8 247.8,341.8 247.8,335.4 225.6,324.4" fill="none" stroke="#3a2e04" stroke-width="0.7" stroke-opacity="0.5"/>
<polygon points="256.4,341.8 309.3,315.5 309.3,309.1 256.4,335.4" fill="none" stroke="#3a2e04" stroke-width="0.7" stroke-opacity="0.5"/>
<polygon points="227.5,320.0 252.1,332.2 307.4,304.7 282.8,292.4" fill="none" stroke="#3a2e04" stroke-width="0.6" stroke-opacity="0.25"/>
<polygon points="242.5,316.2 242.6,315.5 243.0,314.8 243.6,314.1 244.3,313.4 245.3,312.9 246.5,312.4 247.7,312.0 249.1,311.7 250.6,311.5 252.1,311.5 253.6,311.5 255.0,311.7 256.4,312.0 257.7,312.4 258.8,312.9 259.8,313.4 260.6,314.1 261.2,314.8 261.5,315.5 261.6,316.2 261.6,327.5 261.5,328.3 261.2,329.0 260.6,329.7 259.8,330.3 258.8,330.9 257.7,331.4 256.4,331.7 255.0,332.0 253.6,332.2 252.1,332.3 250.6,332.2 249.1,332.0 247.7,331.7 246.5,331.4 245.3,330.9 244.3,330.3 243.6,329.7 243.0,329.0 242.6,328.3 242.5,327.5" fill="none" stroke="#3a2e04" stroke-width="0.6" stroke-opacity="0.35"/>
<polygon points="239.0,308.7 239.2,307.7 239.7,306.7 240.5,305.8 241.5,304.9 242.8,304.1 244.4,303.5 246.2,302.9 248.0,302.5 250.0,302.3 252.1,302.2 254.1,302.3 256.1,302.5 258.0,302.9 259.7,303.5 261.3,304.1 262.6,304.9 263.7,305.8 264.5,306.7 265.0,307.7 265.1,308.7 265.1,316.2 265.0,317.2 264.5,318.2 263.7,319.2 262.6,320.0 261.3,320.8 259.7,321.5 258.0,322.0 256.1,322.4 254.1,322.6 252.1,322.7 250.0,322.6 248.0,322.4 246.2,322.0 244.4,321.5 242.8,320.8 241.5,320.0 240.5,319.2 239.7,318.2 239.2,317.2 239.0,316.2" fill="#eccb40" fill-opacity="0.55" stroke="#3a2e04" stroke-width="0.8"/>
<polygon points="261.3,313.3 262.6,312.5 263.7,311.7 264.5,310.7 265.0,309.7 265.1,308.7 265.0,307.7 264.5,306.7 263.7,305.8 262.6,304.9 261.3,304.1 259.7,303.5 258.0,302.9 256.1,302.5 254.1,302.3 252.1,302.2 250.0,302.3 248.0,302.5 246.2,302.9 244.4,303.5 242.9,304.1 241.5,304.9 240.5,305.8 239.7,306.7 239.2,307.7 239.0,308.7 239.2,309.7 239.7,310.7 240.5,311.7 241.5,312.5 242.9,313.3 244.4,314.0 246.2,314.5 248.0,314.9 250.0,315.1 252.1,315.2 254.1,315.1 256.1,314.9 258.0,314.5 259.7,314.0" fill="#f6da58" fill-opacity="0.55" stroke="#3a2e04" stroke-width="0.8"/>
<polygon points="261.3,320.8 262.6,320.0 263.7,319.2 264.5,318.2 265.0,317.2 265.1,316.2 265.0,315.2 264.5,314.2 263.7,313.3 262.6,312.4 261.3,311.6 259.7,311.0 258.0,310.4 256.1,310.1 254.1,309.8 252.1,309.7 250.0,309.8 248.0,310.1 246.2,310.4 244.4,311.0 242.9,311.6 241.5,312.4 240.5,313.3 239.7,314.2 239.2,315.2 239.0,316.2 239.2,317.2 239.7,318.2 240.5,319.2 241.5,320.0 242.9,320.8 244.4,321.5 246.2,322.0 248.0,322.4 250.0,322.6 252.1,322.7 254.1,322.6 256.1,322.4 258.0,322.0 259.7,321.5" fill="none" stroke="#3a2e04" stroke-width="0.7" stroke-opacity="0.45"/>
<polygon points="273.3,300.9 273.4,300.2 273.7,299.5 274.3,298.8 275.1,298.1 276.1,297.6 277.2,297.1 278.5,296.7 279.9,296.4 281.3,296.2 282.8,296.2 284.3,296.2 285.8,296.4 287.2,296.7 288.4,297.1 289.6,297.6 290.6,298.1 291.3,298.8 291.9,299.5 292.3,300.2 292.4,300.9 292.4,312.2 292.3,313.0 291.9,313.7 291.3,314.4 290.6,315.0 289.6,315.6 288.4,316.1 287.2,316.4 285.8,316.7 284.3,316.9 282.8,317.0 281.3,316.9 279.9,316.7 278.5,316.4 277.2,316.1 276.1,315.6 275.1,315.0 274.3,314.4 273.7,313.7 273.4,313.0 273.3,312.2" fill="none" stroke="#3a2e04" stroke-width="0.6" stroke-opacity="0.35"/>
<polygon points="269.8,293.4 269.9,292.4 270.4,291.4 271.2,290.5 272.3,289.6 273.6,288.8 275.2,288.2 276.9,287.6 278.8,287.2 280.8,287.0 282.8,286.9 284.9,287.0 286.9,287.2 288.7,287.6 290.5,288.2 292.1,288.8 293.4,289.6 294.4,290.5 295.2,291.4 295.7,292.4 295.9,293.4 295.9,300.9 295.7,301.9 295.2,302.9 294.4,303.9 293.4,304.7 292.1,305.5 290.5,306.2 288.7,306.7 286.9,307.1 284.9,307.3 282.8,307.4 280.8,307.3 278.8,307.1 276.9,306.7 275.2,306.2 273.6,305.5 272.3,304.7 271.2,303.9 270.4,302.9 269.9,301.9 269.8,300.9" fill="#eccb40" fill-opacity="0.55" stroke="#3a2e04" stroke-width="0.8"/>
<polygon points="292.1,298.0 293.4,297.2 294.4,296.4 295.2,295.4 295.7,294.4 295.9,293.4 295.7,292.4 295.2,291.4 294.4,290.5 293.4,289.6 292.1,288.8 290.5,288.2 288.7,287.6 286.9,287.2 284.9,287.0 282.8,286.9 280.8,287.0 278.8,287.2 276.9,287.6 275.2,288.2 273.6,288.8 272.3,289.6 271.2,290.5 270.4,291.4 269.9,292.4 269.8,293.4 269.9,294.4 270.4,295.4 271.2,296.4 272.3,297.2 273.6,298.0 275.2,298.7 276.9,299.2 278.8,299.6 280.8,299.8 282.8,299.9 284.9,299.8 286.9,299.6 288.7,299.2 290.5,298.7" fill="#f6da58" fill-opacity="0.55" stroke="#3a2e04" stroke-width="0.8"/>
<polygon points="292.1,305.5 293.4,304.7 294.4,303.9 295.2,302.9 295.7,301.9 295.9,300.9 295.7,299.9 295.2,298.9 294.4,298.0 293.4,297.1 292.1,296.3 290.5,295.7 288.7,295.1 286.9,294.8 284.9,294.5 282.8,294.4 280.8,294.5 278.8,294.8 276.9,295.1 275.2,295.7 273.6,296.3 272.3,297.1 271.2,298.0 270.4,298.9 269.9,299.9 269.8,300.9 269.9,301.9 270.4,302.9 271.2,303.9 272.3,304.7 273.6,305.5 275.2,306.2 276.9,306.7 278.8,307.1 280.8,307.3 282.8,307.4 284.9,307.3 286.9,307.1 288.7,306.7 290.5,306.2" fill="none" stroke="#3a2e04" stroke-width="0.7" stroke-opacity="0.45"/>
<polygon points="252.1,376.0 313.6,345.4 313.6,331.5 252.1,362.1" fill="#ebc944" stroke="#3a2e04" stroke-width="0.8" stroke-linejoin="round" fill-opacity="0.84" />
<polygon points="221.3,360.7 252.1,376.0 252.1,362.1 221.3,346.8" fill="#e4c03a" stroke="#3a2e04" stroke-width="0.8" stroke-linejoin="round" fill-opacity="0.84" />
<polygon points="221.3,346.8 252.1,362.1 313.6,331.5 282.8,316.2" fill="#f4d64e" stroke="#3a2e04" stroke-width="0.8" stroke-linejoin="round" fill-opacity="0.84" />
<polygon points="225.6,361.4 247.8,372.4 247.8,366.0 225.6,355.0" fill="none" stroke="#3a2e04" stroke-width="0.7" stroke-opacity="0.5"/>
<polygon points="256.4,372.4 309.3,346.1 309.3,339.7 256.4,366.0" fill="none" stroke="#3a2e04" stroke-width="0.7" stroke-opacity="0.5"/>
<polygon points="227.5,350.6 252.1,362.8 307.4,335.3 282.8,323.0" fill="none" stroke="#3a2e04" stroke-width="0.6" stroke-opacity="0.25"/>
<polygon points="242.5,346.8 242.6,346.1 243.0,345.4 243.6,344.7 244.3,344.0 245.3,343.5 246.5,343.0 247.7,342.6 249.1,342.3 250.6,342.1 252.1,342.1 253.6,342.1 255.0,342.3 256.4,342.6 257.7,343.0 258.8,343.5 259.8,344.0 260.6,344.7 261.2,345.4 261.5,346.1 261.6,346.8 261.6,358.1 261.5,358.9 261.2,359.6 260.6,360.3 259.8,360.9 258.8,361.5 257.7,362.0 256.4,362.3 255.0,362.6 253.6,362.8 252.1,362.9 250.6,362.8 249.1,362.6 247.7,362.3 246.5,362.0 245.3,361.5 244.3,360.9 243.6,360.3 243.0,359.6 242.6,358.9 242.5,358.1" fill="none" stroke="#3a2e04" stroke-width="0.6" stroke-opacity="0.35"/>
<polygon points="239.0,339.3 239.2,338.3 239.7,337.3 240.5,336.4 241.5,335.5 242.8,334.7 244.4,334.1 246.2,333.5 248.0,333.1 250.0,332.9 252.1,332.8 254.1,332.9 256.1,333.1 258.0,333.5 259.7,334.1 261.3,334.7 262.6,335.5 263.7,336.4 264.5,337.3 265.0,338.3 265.1,339.3 265.1,346.8 265.0,347.8 264.5,348.8 263.7,349.8 262.6,350.6 261.3,351.4 259.7,352.1 258.0,352.6 256.1,353.0 254.1,353.2 252.1,353.3 250.0,353.2 248.0,353.0 246.2,352.6 244.4,352.1 242.8,351.4 241.5,350.6 240.5,349.8 239.7,348.8 239.2,347.8 239.0,346.8" fill="#eccb40" fill-opacity="0.55" stroke="#3a2e04" stroke-width="0.8"/>
<polygon points="261.3,343.9 262.6,343.1 263.7,342.3 264.5,341.3 265.0,340.3 265.1,339.3 265.0,338.3 264.5,337.3 263.7,336.4 262.6,335.5 261.3,334.7 259.7,334.1 258.0,333.5 256.1,333.1 254.1,332.9 252.1,332.8 250.0,332.9 248.0,333.1 246.2,333.5 244.4,334.1 242.9,334.7 241.5,335.5 240.5,336.4 239.7,337.3 239.2,338.3 239.0,339.3 239.2,340.3 239.7,341.3 240.5,342.3 241.5,343.1 242.9,343.9 244.4,344.6 246.2,345.1 248.0,345.5 250.0,345.7 252.1,345.8 254.1,345.7 256.1,345.5 258.0,345.1 259.7,344.6" fill="#f6da58" fill-opacity="0.55" stroke="#3a2e04" stroke-width="0.8"/>
<polygon points="261.3,351.4 262.6,350.6 263.7,349.8 264.5,348.8 265.0,347.8 265.1,346.8 265.0,345.8 264.5,344.8 263.7,343.9 262.6,343.0 261.3,342.2 259.7,341.6 258.0,341.0 256.1,340.7 254.1,340.4 252.1,340.3 250.0,340.4 248.0,340.7 246.2,341.0 244.4,341.6 242.9,342.2 241.5,343.0 240.5,343.9 239.7,344.8 239.2,345.8 239.0,346.8 239.2,347.8 239.7,348.8 240.5,349.8 241.5,350.6 242.9,351.4 244.4,352.1 246.2,352.6 248.0,353.0 250.0,353.2 252.1,353.3 254.1,353.2 256.1,353.0 258.0,352.6 259.7,352.1" fill="none" stroke="#3a2e04" stroke-width="0.7" stroke-opacity="0.45"/>
<polygon points="273.3,331.5 273.4,330.8 273.7,330.1 274.3,329.4 275.1,328.7 276.1,328.2 277.2,327.7 278.5,327.3 279.9,327.0 281.3,326.8 282.8,326.8 284.3,326.8 285.8,327.0 287.2,327.3 288.4,327.7 289.6,328.2 290.6,328.7 291.3,329.4 291.9,330.1 292.3,330.8 292.4,331.5 292.4,342.8 292.3,343.6 291.9,344.3 291.3,345.0 290.6,345.6 289.6,346.2 288.4,346.7 287.2,347.0 285.8,347.3 284.3,347.5 282.8,347.6 281.3,347.5 279.9,347.3 278.5,347.0 277.2,346.7 276.1,346.2 275.1,345.6 274.3,345.0 273.7,344.3 273.4,343.6 273.3,342.8" fill="none" stroke="#3a2e04" stroke-width="0.6" stroke-opacity="0.35"/>
<polygon points="269.8,324.0 269.9,323.0 270.4,322.0 271.2,321.1 272.3,320.2 273.6,319.4 275.2,318.8 276.9,318.2 278.8,317.8 280.8,317.6 282.8,317.5 284.9,317.6 286.9,317.8 288.7,318.2 290.5,318.8 292.1,319.4 293.4,320.2 294.4,321.1 295.2,322.0 295.7,323.0 295.9,324.0 295.9,331.5 295.7,332.5 295.2,333.5 294.4,334.5 293.4,335.3 292.1,336.1 290.5,336.8 288.7,337.3 286.9,337.7 284.9,337.9 282.8,338.0 280.8,337.9 278.8,337.7 276.9,337.3 275.2,336.8 273.6,336.1 272.3,335.3 271.2,334.5 270.4,333.5 269.9,332.5 269.8,331.5" fill="#eccb40" fill-opacity="0.55" stroke="#3a2e04" stroke-width="0.8"/>
<polygon points="292.1,328.6 293.4,327.8 294.4,327.0 295.2,326.0 295.7,325.0 295.9,324.0 295.7,323.0 295.2,322.0 294.4,321.1 293.4,320.2 292.1,319.4 290.5,318.8 288.7,318.2 286.9,317.8 284.9,317.6 282.8,317.5 280.8,317.6 278.8,317.8 276.9,318.2 275.2,318.8 273.6,319.4 272.3,320.2 271.2,321.1 270.4,322.0 269.9,323.0 269.8,324.0 269.9,325.0 270.4,326.0 271.2,327.0 272.3,327.8 273.6,328.6 275.2,329.3 276.9,329.8 278.8,330.2 280.8,330.4 282.8,330.5 284.9,330.4 286.9,330.2 288.7,329.8 290.5,329.3" fill="#f6da58" fill-opacity="0.55" stroke="#3a2e04" stroke-width="0.8"/>
<polygon points="292.1,336.1 293.4,335.3 294.4,334.5 295.2,333.5 295.7,332.5 295.9,331.5 295.7,330.5 295.2,329.5 294.4,328.6 293.4,327.7 292.1,326.9 290.5,326.3 288.7,325.7 286.9,325.4 284.9,325.1 282.8,325.0 280.8,325.1 278.8,325.4 276.9,325.7 275.2,326.3 273.6,326.9 272.3,327.7 271.2,328.6 270.4,329.5 269.9,330.5 269.8,331.5 269.9,332.5 270.4,333.5 271.2,334.5 272.3,335.3 273.6,336.1 275.2,336.8 276.9,337.3 278.8,337.7 280.8,337.9 282.8,338.0 284.9,337.9 286.9,337.7 288.7,337.3 290.5,336.8" fill="none" stroke="#3a2e04" stroke-width="0.7" stroke-opacity="0.45"/>
<polygon points="313.6,376.0 375.1,345.4 375.1,331.5 313.6,362.1" fill="#e4e4e4" stroke="#454545" stroke-width="0.85" stroke-linejoin="round" fill-opacity="0.62" />
<polygon points="282.8,360.7 313.6,376.0 313.6,362.1 282.8,346.8" fill="#d9d9d9" stroke="#454545" stroke-width="0.85" stroke-linejoin="round" fill-opacity="0.62" />
<polygon points="282.8,346.8 313.6,362.1 375.1,331.5 344.3,316.2" fill="#f3f3f3" stroke="#454545" stroke-width="0.85" stroke-linejoin="round" fill-opacity="0.62" />
<polygon points="287.1,361.4 309.3,372.4 309.3,366.0 287.1,355.0" fill="none" stroke="#454545" stroke-width="0.7" stroke-opacity="0.45"/>
<polygon points="317.9,372.4 370.8,346.1 370.8,339.7 317.9,366.0" fill="none" stroke="#454545" stroke-width="0.7" stroke-opacity="0.45"/>
<polygon points="289.0,350.6 313.6,362.8 368.9,335.3 344.3,323.0" fill="none" stroke="#454545" stroke-width="0.6" stroke-opacity="0.3"/>
<polygon points="319.4,339.2 319.5,338.4 319.9,337.7 320.4,337.0 321.2,336.4 322.2,335.8 323.3,335.3 324.6,334.9 326.0,334.6 327.5,334.5 328.9,334.4 330.4,334.5 331.9,334.6 333.3,334.9 334.6,335.3 335.7,335.8 336.7,336.4 337.5,337.0 338.0,337.7 338.4,338.4 338.5,339.2 338.5,350.5 338.4,351.2 338.0,351.9 337.5,352.6 336.7,353.3 335.7,353.8 334.6,354.3 333.3,354.7 331.9,355.0 330.4,355.2 328.9,355.2 327.5,355.2 326.0,355.0 324.6,354.7 323.3,354.3 322.2,353.8 321.2,353.3 320.4,352.6 319.9,351.9 319.5,351.2 319.4,350.5" fill="none" stroke="#454545" stroke-width="0.6" stroke-opacity="0.35"/>
<polygon points="315.9,331.7 316.1,330.6 316.5,329.6 317.3,328.7 318.4,327.8 319.7,327.1 321.3,326.4 323.0,325.9 324.9,325.5 326.9,325.2 328.9,325.2 331.0,325.2 333.0,325.5 334.9,325.9 336.6,326.4 338.2,327.1 339.5,327.8 340.6,328.7 341.4,329.6 341.8,330.6 342.0,331.7 342.0,339.2 341.8,340.2 341.4,341.2 340.6,342.1 339.5,343.0 338.2,343.8 336.6,344.4 334.9,345.0 333.0,345.4 331.0,345.6 328.9,345.7 326.9,345.6 324.9,345.4 323.0,345.0 321.3,344.4 319.7,343.8 318.4,343.0 317.3,342.1 316.5,341.2 316.1,340.2 315.9,339.2" fill="#ececec" fill-opacity="0.7" stroke="#454545" stroke-width="0.8"/>
<polygon points="338.2,336.2 339.5,335.5 340.6,334.6 341.4,333.7 341.8,332.7 342.0,331.7 341.8,330.6 341.4,329.7 340.6,328.7 339.5,327.8 338.2,327.1 336.6,326.4 334.9,325.9 333.0,325.5 331.0,325.2 328.9,325.2 326.9,325.2 324.9,325.5 323.0,325.9 321.3,326.4 319.7,327.1 318.4,327.8 317.3,328.7 316.5,329.7 316.1,330.6 315.9,331.7 316.1,332.7 316.5,333.7 317.3,334.6 318.4,335.5 319.7,336.2 321.3,336.9 323.0,337.4 324.9,337.8 326.9,338.1 328.9,338.1 331.0,338.1 333.0,337.8 334.9,337.4 336.6,336.9" fill="#f8f8f8" fill-opacity="0.7" stroke="#454545" stroke-width="0.8"/>
<polygon points="335.1,334.7 336.0,334.2 336.7,333.6 337.2,333.0 337.5,332.3 337.6,331.7 337.5,331.0 337.2,330.3 336.7,329.7 336.0,329.1 335.1,328.6 334.1,328.2 332.9,327.8 331.6,327.5 330.3,327.4 328.9,327.3 327.6,327.4 326.3,327.5 325.0,327.8 323.8,328.2 322.8,328.6 321.9,329.1 321.2,329.7 320.7,330.3 320.4,331.0 320.3,331.7 320.4,332.3 320.7,333.0 321.2,333.6 321.9,334.2 322.8,334.7 323.8,335.2 325.0,335.5 326.3,335.8 327.6,335.9 328.9,336.0 330.3,335.9 331.6,335.8 332.9,335.5 334.1,335.2" fill="none" stroke="#454545" stroke-width="0.7" stroke-opacity="0.8"/>
<polygon points="335.1,339.2 336.0,338.7 336.7,338.1 337.2,337.5 337.5,336.8 337.6,336.2 337.5,335.5 337.2,334.8 336.7,334.2 336.0,333.6 335.1,333.1 334.1,332.7 332.9,332.3 331.6,332.1 330.3,331.9 328.9,331.8 327.6,331.9 326.3,332.1 325.0,332.3 323.8,332.7 322.8,333.1 321.9,333.6 321.2,334.2 320.7,334.8 320.4,335.5 320.3,336.2 320.4,336.8 320.7,337.5 321.2,338.1 321.9,338.7 322.8,339.2 323.8,339.7 325.0,340.0 326.3,340.3 327.6,340.4 328.9,340.5 330.3,340.4 331.6,340.3 332.9,340.0 334.1,339.7" fill="none" stroke="#454545" stroke-width="0.6" stroke-opacity="0.4"/>
<polygon points="313.6,406.6 375.1,376.0 375.1,362.1 313.6,392.7" fill="#e4e4e4" stroke="#454545" stroke-width="0.85" stroke-linejoin="round" fill-opacity="0.62" />
<polygon points="282.8,391.3 313.6,406.6 313.6,392.7 282.8,377.4" fill="#d9d9d9" stroke="#454545" stroke-width="0.85" stroke-linejoin="round" fill-opacity="0.62" />
<polygon points="282.8,377.4 313.6,392.7 375.1,362.1 344.3,346.8" fill="#f3f3f3" stroke="#454545" stroke-width="0.85" stroke-linejoin="round" fill-opacity="0.62" />
<polygon points="287.1,392.0 309.3,403.0 309.3,396.6 287.1,385.6" fill="none" stroke="#454545" stroke-width="0.7" stroke-opacity="0.45"/>
<polygon points="317.9,403.0 370.8,376.7 370.8,370.3 317.9,396.6" fill="none" stroke="#454545" stroke-width="0.7" stroke-opacity="0.45"/>
<polygon points="289.0,381.2 313.6,393.4 368.9,365.9 344.3,353.6" fill="none" stroke="#454545" stroke-width="0.6" stroke-opacity="0.3"/>
<polygon points="319.4,369.8 319.5,369.0 319.9,368.3 320.4,367.6 321.2,367.0 322.2,366.4 323.3,365.9 324.6,365.5 326.0,365.2 327.5,365.1 328.9,365.0 330.4,365.1 331.9,365.2 333.3,365.5 334.6,365.9 335.7,366.4 336.7,367.0 337.5,367.6 338.0,368.3 338.4,369.0 338.5,369.8 338.5,381.1 338.4,381.8 338.0,382.5 337.5,383.2 336.7,383.9 335.7,384.4 334.6,384.9 333.3,385.3 331.9,385.6 330.4,385.8 328.9,385.8 327.5,385.8 326.0,385.6 324.6,385.3 323.3,384.9 322.2,384.4 321.2,383.9 320.4,383.2 319.9,382.5 319.5,381.8 319.4,381.1" fill="none" stroke="#454545" stroke-width="0.6" stroke-opacity="0.35"/>
<polygon points="315.9,362.3 316.1,361.2 316.5,360.2 317.3,359.3 318.4,358.4 319.7,357.7 321.3,357.0 323.0,356.5 324.9,356.1 326.9,355.8 328.9,355.8 331.0,355.8 333.0,356.1 334.9,356.5 336.6,357.0 338.2,357.7 339.5,358.4 340.6,359.3 341.4,360.2 341.8,361.2 342.0,362.3 342.0,369.8 341.8,370.8 341.4,371.8 340.6,372.7 339.5,373.6 338.2,374.4 336.6,375.0 334.9,375.6 333.0,375.9 331.0,376.2 328.9,376.3 326.9,376.2 324.9,375.9 323.0,375.6 321.3,375.0 319.7,374.4 318.4,373.6 317.3,372.7 316.5,371.8 316.1,370.8 315.9,369.8" fill="#ececec" fill-opacity="0.7" stroke="#454545" stroke-width="0.8"/>
<polygon points="338.2,366.8 339.5,366.1 340.6,365.2 341.4,364.3 341.8,363.3 342.0,362.3 341.8,361.2 341.4,360.3 340.6,359.3 339.5,358.4 338.2,357.7 336.6,357.0 334.9,356.5 333.0,356.1 331.0,355.8 328.9,355.8 326.9,355.8 324.9,356.1 323.0,356.5 321.3,357.0 319.7,357.7 318.4,358.4 317.3,359.3 316.5,360.3 316.1,361.2 315.9,362.3 316.1,363.3 316.5,364.3 317.3,365.2 318.4,366.1 319.7,366.8 321.3,367.5 323.0,368.0 324.9,368.4 326.9,368.7 328.9,368.7 331.0,368.7 333.0,368.4 334.9,368.0 336.6,367.5" fill="#f8f8f8" fill-opacity="0.7" stroke="#454545" stroke-width="0.8"/>
<polygon points="335.1,365.3 336.0,364.8 336.7,364.2 337.2,363.6 337.5,362.9 337.6,362.3 337.5,361.6 337.2,360.9 336.7,360.3 336.0,359.7 335.1,359.2 334.1,358.8 332.9,358.4 331.6,358.1 330.3,358.0 328.9,357.9 327.6,358.0 326.3,358.1 325.0,358.4 323.8,358.8 322.8,359.2 321.9,359.7 321.2,360.3 320.7,360.9 320.4,361.6 320.3,362.3 320.4,362.9 320.7,363.6 321.2,364.2 321.9,364.8 322.8,365.3 323.8,365.8 325.0,366.1 326.3,366.4 327.6,366.5 328.9,366.6 330.3,366.5 331.6,366.4 332.9,366.1 334.1,365.8" fill="none" stroke="#454545" stroke-width="0.7" stroke-opacity="0.8"/>
<polygon points="335.1,369.8 336.0,369.3 336.7,368.7 337.2,368.1 337.5,367.4 337.6,366.8 337.5,366.1 337.2,365.4 336.7,364.8 336.0,364.2 335.1,363.7 334.1,363.3 332.9,362.9 331.6,362.7 330.3,362.5 328.9,362.4 327.6,362.5 326.3,362.7 325.0,362.9 323.8,363.3 322.8,363.7 321.9,364.2 321.2,364.8 320.7,365.4 320.4,366.1 320.3,366.8 320.4,367.4 320.7,368.1 321.2,368.7 321.9,369.3 322.8,369.8 323.8,370.3 325.0,370.6 326.3,370.9 327.6,371.0 328.9,371.1 330.3,371.0 331.6,370.9 332.9,370.6 334.1,370.3" fill="none" stroke="#454545" stroke-width="0.6" stroke-opacity="0.4"/>
<polygon points="344.3,421.9 405.8,391.3 405.8,377.4 344.3,408.0" fill="#ebc944" stroke="#3a2e04" stroke-width="0.8" stroke-linejoin="round" fill-opacity="0.84" />
<polygon points="313.6,406.6 344.3,421.9 344.3,408.0 313.6,392.7" fill="#e4c03a" stroke="#3a2e04" stroke-width="0.8" stroke-linejoin="round" fill-opacity="0.84" />
<polygon points="313.6,392.7 344.3,408.0 405.8,377.4 375.1,362.1" fill="#f4d64e" stroke="#3a2e04" stroke-width="0.8" stroke-linejoin="round" fill-opacity="0.84" />
<polygon points="317.9,407.3 340.0,418.3 340.0,411.9 317.9,400.9" fill="none" stroke="#3a2e04" stroke-width="0.7" stroke-opacity="0.5"/>
<polygon points="348.6,418.3 401.5,392.0 401.5,385.6 348.6,411.9" fill="none" stroke="#3a2e04" stroke-width="0.7" stroke-opacity="0.5"/>
<polygon points="319.7,396.5 344.3,408.7 399.7,381.2 375.1,368.9" fill="none" stroke="#3a2e04" stroke-width="0.6" stroke-opacity="0.25"/>
<polygon points="334.8,392.7 334.9,392.0 335.2,391.3 335.8,390.6 336.6,389.9 337.6,389.4 338.7,388.9 340.0,388.5 341.4,388.2 342.8,388.0 344.3,388.0 345.8,388.0 347.3,388.2 348.7,388.5 349.9,388.9 351.1,389.4 352.1,389.9 352.8,390.6 353.4,391.3 353.8,392.0 353.9,392.7 353.9,404.0 353.8,404.8 353.4,405.5 352.8,406.2 352.1,406.8 351.1,407.4 349.9,407.9 348.7,408.2 347.3,408.5 345.8,408.7 344.3,408.8 342.8,408.7 341.4,408.5 340.0,408.2 338.7,407.9 337.6,407.4 336.6,406.8 335.8,406.2 335.2,405.5 334.9,404.8 334.8,404.0" fill="none" stroke="#3a2e04" stroke-width="0.6" stroke-opacity="0.35"/>
<polygon points="331.3,385.2 331.4,384.2 331.9,383.2 332.7,382.3 333.8,381.4 335.1,380.6 336.7,380.0 338.4,379.4 340.3,379.0 342.3,378.8 344.3,378.7 346.4,378.8 348.4,379.0 350.2,379.4 352.0,380.0 353.6,380.6 354.9,381.4 355.9,382.3 356.7,383.2 357.2,384.2 357.4,385.2 357.4,392.7 357.2,393.7 356.7,394.7 355.9,395.7 354.9,396.5 353.6,397.3 352.0,398.0 350.2,398.5 348.4,398.9 346.4,399.1 344.3,399.2 342.3,399.1 340.3,398.9 338.4,398.5 336.7,398.0 335.1,397.3 333.8,396.5 332.7,395.7 331.9,394.7 331.4,393.7 331.3,392.7" fill="#eccb40" fill-opacity="0.55" stroke="#3a2e04" stroke-width="0.8"/>
<polygon points="353.6,389.8 354.9,389.0 355.9,388.2 356.7,387.2 357.2,386.2 357.4,385.2 357.2,384.2 356.7,383.2 355.9,382.3 354.9,381.4 353.6,380.6 352.0,380.0 350.2,379.4 348.4,379.0 346.4,378.8 344.3,378.7 342.3,378.8 340.3,379.0 338.4,379.4 336.7,380.0 335.1,380.6 333.8,381.4 332.7,382.3 331.9,383.2 331.4,384.2 331.3,385.2 331.4,386.2 331.9,387.2 332.7,388.2 333.8,389.0 335.1,389.8 336.7,390.5 338.4,391.0 340.3,391.4 342.3,391.6 344.3,391.7 346.4,391.6 348.4,391.4 350.2,391.0 352.0,390.5" fill="#f6da58" fill-opacity="0.55" stroke="#3a2e04" stroke-width="0.8"/>
<polygon points="353.6,397.3 354.9,396.5 355.9,395.7 356.7,394.7 357.2,393.7 357.4,392.7 357.2,391.7 356.7,390.7 355.9,389.8 354.9,388.9 353.6,388.1 352.0,387.5 350.2,386.9 348.4,386.6 346.4,386.3 344.3,386.2 342.3,386.3 340.3,386.6 338.4,386.9 336.7,387.5 335.1,388.1 333.8,388.9 332.7,389.8 331.9,390.7 331.4,391.7 331.3,392.7 331.4,393.7 331.9,394.7 332.7,395.7 333.8,396.5 335.1,397.3 336.7,398.0 338.4,398.5 340.3,398.9 342.3,399.1 344.3,399.2 346.4,399.1 348.4,398.9 350.2,398.5 352.0,398.0" fill="none" stroke="#3a2e04" stroke-width="0.7" stroke-opacity="0.45"/>
<polygon points="365.5,377.4 365.6,376.7 366.0,376.0 366.6,375.3 367.3,374.6 368.3,374.1 369.5,373.6 370.7,373.2 372.1,372.9 373.6,372.7 375.1,372.7 376.6,372.7 378.0,372.9 379.4,373.2 380.7,373.6 381.8,374.1 382.8,374.6 383.6,375.3 384.2,376.0 384.5,376.7 384.6,377.4 384.6,388.7 384.5,389.5 384.2,390.2 383.6,390.9 382.8,391.5 381.8,392.1 380.7,392.6 379.4,392.9 378.0,393.2 376.6,393.4 375.1,393.5 373.6,393.4 372.1,393.2 370.7,392.9 369.5,392.6 368.3,392.1 367.3,391.5 366.6,390.9 366.0,390.2 365.6,389.5 365.5,388.7" fill="none" stroke="#3a2e04" stroke-width="0.6" stroke-opacity="0.35"/>
<polygon points="362.0,369.9 362.2,368.9 362.7,367.9 363.5,367.0 364.5,366.1 365.9,365.3 367.4,364.7 369.2,364.1 371.0,363.7 373.0,363.5 375.1,363.4 377.1,363.5 379.1,363.7 381.0,364.1 382.7,364.7 384.3,365.3 385.6,366.1 386.7,367.0 387.5,367.9 388.0,368.9 388.1,369.9 388.1,377.4 388.0,378.4 387.5,379.4 386.7,380.4 385.6,381.2 384.3,382.0 382.7,382.7 381.0,383.2 379.1,383.6 377.1,383.8 375.1,383.9 373.0,383.8 371.0,383.6 369.2,383.2 367.4,382.7 365.9,382.0 364.5,381.2 363.5,380.4 362.7,379.4 362.2,378.4 362.0,377.4" fill="#eccb40" fill-opacity="0.55" stroke="#3a2e04" stroke-width="0.8"/>
<polygon points="384.3,374.5 385.6,373.7 386.7,372.9 387.5,371.9 388.0,370.9 388.1,369.9 388.0,368.9 387.5,367.9 386.7,367.0 385.6,366.1 384.3,365.3 382.7,364.7 381.0,364.1 379.1,363.7 377.1,363.5 375.1,363.4 373.0,363.5 371.0,363.7 369.2,364.1 367.4,364.7 365.8,365.3 364.5,366.1 363.5,367.0 362.7,367.9 362.2,368.9 362.0,369.9 362.2,370.9 362.7,371.9 363.5,372.9 364.5,373.7 365.8,374.5 367.4,375.2 369.2,375.7 371.0,376.1 373.0,376.3 375.1,376.4 377.1,376.3 379.1,376.1 381.0,375.7 382.7,375.2" fill="#f6da58" fill-opacity="0.55" stroke="#3a2e04" stroke-width="0.8"/>
<polygon points="384.3,382.0 385.6,381.2 386.7,380.4 387.5,379.4 388.0,378.4 388.1,377.4 388.0,376.4 387.5,375.4 386.7,374.5 385.6,373.6 384.3,372.8 382.7,372.2 381.0,371.6 379.1,371.3 377.1,371.0 375.1,370.9 373.0,371.0 371.0,371.3 369.2,371.6 367.4,372.2 365.8,372.8 364.5,373.6 363.5,374.5 362.7,375.4 362.2,376.4 362.0,377.4 362.2,378.4 362.7,379.4 363.5,380.4 364.5,381.2 365.8,382.0 367.4,382.7 369.2,383.2 371.0,383.6 373.0,383.8 375.1,383.9 377.1,383.8 379.1,383.6 381.0,383.2 382.7,382.7" fill="none" stroke="#3a2e04" stroke-width="0.7" stroke-opacity="0.45"/>
<polygon points="375.1,437.2 436.6,406.6 436.6,392.7 375.1,423.3" fill="#ebc944" stroke="#3a2e04" stroke-width="0.8" stroke-linejoin="round" fill-opacity="0.84" />
<polygon points="344.3,421.9 375.1,437.2 375.1,423.3 344.3,408.0" fill="#e4c03a" stroke="#3a2e04" stroke-width="0.8" stroke-linejoin="round" fill-opacity="0.84" />
<polygon points="344.3,408.0 375.1,423.3 436.6,392.7 405.8,377.4" fill="#f4d64e" stroke="#3a2e04" stroke-width="0.8" stroke-linejoin="round" fill-opacity="0.84" />
<polygon points="348.6,422.6 370.8,433.6 370.8,427.2 348.6,416.2" fill="none" stroke="#3a2e04" stroke-width="0.7" stroke-opacity="0.5"/>
<polygon points="379.4,433.6 432.3,407.3 432.3,400.9 379.4,427.2" fill="none" stroke="#3a2e04" stroke-width="0.7" stroke-opacity="0.5"/>
<polygon points="350.5,411.8 375.1,424.0 430.4,396.5 405.8,384.2" fill="none" stroke="#3a2e04" stroke-width="0.6" stroke-opacity="0.25"/>
<polygon points="365.5,408.0 365.6,407.3 366.0,406.6 366.6,405.9 367.3,405.2 368.3,404.7 369.5,404.2 370.7,403.8 372.1,403.5 373.6,403.3 375.1,403.3 376.6,403.3 378.0,403.5 379.4,403.8 380.7,404.2 381.8,404.7 382.8,405.2 383.6,405.9 384.2,406.6 384.5,407.3 384.6,408.0 384.6,419.3 384.5,420.1 384.2,420.8 383.6,421.5 382.8,422.1 381.8,422.7 380.7,423.2 379.4,423.5 378.0,423.8 376.6,424.0 375.1,424.1 373.6,424.0 372.1,423.8 370.7,423.5 369.5,423.2 368.3,422.7 367.3,422.1 366.6,421.5 366.0,420.8 365.6,420.1 365.5,419.3" fill="none" stroke="#3a2e04" stroke-width="0.6" stroke-opacity="0.35"/>
<polygon points="362.0,400.5 362.2,399.5 362.7,398.5 363.5,397.6 364.5,396.7 365.9,395.9 367.4,395.3 369.2,394.7 371.0,394.3 373.0,394.1 375.1,394.0 377.1,394.1 379.1,394.3 381.0,394.7 382.7,395.3 384.3,395.9 385.6,396.7 386.7,397.6 387.5,398.5 388.0,399.5 388.1,400.5 388.1,408.0 388.0,409.0 387.5,410.0 386.7,411.0 385.6,411.8 384.3,412.6 382.7,413.3 381.0,413.8 379.1,414.2 377.1,414.4 375.1,414.5 373.0,414.4 371.0,414.2 369.2,413.8 367.4,413.3 365.9,412.6 364.5,411.8 363.5,411.0 362.7,410.0 362.2,409.0 362.0,408.0" fill="#eccb40" fill-opacity="0.55" stroke="#3a2e04" stroke-width="0.8"/>
<polygon points="384.3,405.1 385.6,404.3 386.7,403.5 387.5,402.5 388.0,401.5 388.1,400.5 388.0,399.5 387.5,398.5 386.7,397.6 385.6,396.7 384.3,395.9 382.7,395.3 381.0,394.7 379.1,394.3 377.1,394.1 375.1,394.0 373.0,394.1 371.0,394.3 369.2,394.7 367.4,395.3 365.8,395.9 364.5,396.7 363.5,397.6 362.7,398.5 362.2,399.5 362.0,400.5 362.2,401.5 362.7,402.5 363.5,403.5 364.5,404.3 365.8,405.1 367.4,405.8 369.2,406.3 371.0,406.7 373.0,406.9 375.1,407.0 377.1,406.9 379.1,406.7 381.0,406.3 382.7,405.8" fill="#f6da58" fill-opacity="0.55" stroke="#3a2e04" stroke-width="0.8"/>
<polygon points="384.3,412.6 385.6,411.8 386.7,411.0 387.5,410.0 388.0,409.0 388.1,408.0 388.0,407.0 387.5,406.0 386.7,405.1 385.6,404.2 384.3,403.4 382.7,402.8 381.0,402.2 379.1,401.9 377.1,401.6 375.1,401.5 373.0,401.6 371.0,401.9 369.2,402.2 367.4,402.8 365.8,403.4 364.5,404.2 363.5,405.1 362.7,406.0 362.2,407.0 362.0,408.0 362.2,409.0 362.7,410.0 363.5,411.0 364.5,411.8 365.8,412.6 367.4,413.3 369.2,413.8 371.0,414.2 373.0,414.4 375.1,414.5 377.1,414.4 379.1,414.2 381.0,413.8 382.7,413.3" fill="none" stroke="#3a2e04" stroke-width="0.7" stroke-opacity="0.45"/>
<polygon points="396.3,392.7 396.4,392.0 396.7,391.3 397.3,390.6 398.1,389.9 399.1,389.4 400.2,388.9 401.5,388.5 402.9,388.2 404.3,388.0 405.8,388.0 407.3,388.0 408.8,388.2 410.2,388.5 411.4,388.9 412.6,389.4 413.6,389.9 414.3,390.6 414.9,391.3 415.3,392.0 415.4,392.7 415.4,404.0 415.3,404.8 414.9,405.5 414.3,406.2 413.6,406.8 412.6,407.4 411.4,407.9 410.2,408.2 408.8,408.5 407.3,408.7 405.8,408.8 404.3,408.7 402.9,408.5 401.5,408.2 400.2,407.9 399.1,407.4 398.1,406.8 397.3,406.2 396.7,405.5 396.4,404.8 396.3,404.0" fill="none" stroke="#3a2e04" stroke-width="0.6" stroke-opacity="0.35"/>
<polygon points="392.8,385.2 392.9,384.2 393.4,383.2 394.2,382.3 395.3,381.4 396.6,380.6 398.2,380.0 399.9,379.4 401.8,379.0 403.8,378.8 405.8,378.7 407.9,378.8 409.9,379.0 411.7,379.4 413.5,380.0 415.1,380.6 416.4,381.4 417.4,382.3 418.2,383.2 418.7,384.2 418.9,385.2 418.9,392.7 418.7,393.7 418.2,394.7 417.4,395.7 416.4,396.5 415.1,397.3 413.5,398.0 411.7,398.5 409.9,398.9 407.9,399.1 405.8,399.2 403.8,399.1 401.8,398.9 399.9,398.5 398.2,398.0 396.6,397.3 395.3,396.5 394.2,395.7 393.4,394.7 392.9,393.7 392.8,392.7" fill="#eccb40" fill-opacity="0.55" stroke="#3a2e04" stroke-width="0.8"/>
<polygon points="415.1,389.8 416.4,389.0 417.4,388.2 418.2,387.2 418.7,386.2 418.9,385.2 418.7,384.2 418.2,383.2 417.4,382.3 416.4,381.4 415.1,380.6 413.5,380.0 411.7,379.4 409.9,379.0 407.9,378.8 405.8,378.7 403.8,378.8 401.8,379.0 399.9,379.4 398.2,380.0 396.6,380.6 395.3,381.4 394.2,382.3 393.4,383.2 392.9,384.2 392.8,385.2 392.9,386.2 393.4,387.2 394.2,388.2 395.3,389.0 396.6,389.8 398.2,390.5 399.9,391.0 401.8,391.4 403.8,391.6 405.8,391.7 407.9,391.6 409.9,391.4 411.7,391.0 413.5,390.5" fill="#f6da58" fill-opacity="0.55" stroke="#3a2e04" stroke-width="0.8"/>
<polygon points="415.1,397.3 416.4,396.5 417.4,395.7 418.2,394.7 418.7,393.7 418.9,392.7 418.7,391.7 418.2,390.7 417.4,389.8 416.4,388.9 415.1,388.1 413.5,387.5 411.7,386.9 409.9,386.6 407.9,386.3 405.8,386.2 403.8,386.3 401.8,386.6 399.9,386.9 398.2,387.5 396.6,388.1 395.3,388.9 394.2,389.8 393.4,390.7 392.9,391.7 392.8,392.7 392.9,393.7 393.4,394.7 394.2,395.7 395.3,396.5 396.6,397.3 398.2,398.0 399.9,398.5 401.8,398.9 403.8,399.1 405.8,399.2 407.9,399.1 409.9,398.9 411.7,398.5 413.5,398.0" fill="none" stroke="#3a2e04" stroke-width="0.7" stroke-opacity="0.45"/>
<polygon points="405.8,455.2 467.3,424.6 467.3,410.7 405.8,441.3" fill="#e4e4e4" stroke="#454545" stroke-width="0.85" stroke-linejoin="round" fill-opacity="0.62" />
<polygon points="375.1,439.9 405.8,455.2 405.8,441.3 375.1,426.0" fill="#d9d9d9" stroke="#454545" stroke-width="0.85" stroke-linejoin="round" fill-opacity="0.62" />
<polygon points="375.1,426.0 405.8,441.3 467.3,410.7 436.6,395.4" fill="#f3f3f3" stroke="#454545" stroke-width="0.85" stroke-linejoin="round" fill-opacity="0.62" />
<polygon points="379.4,440.5 401.5,451.5 401.5,445.1 379.4,434.1" fill="none" stroke="#454545" stroke-width="0.7" stroke-opacity="0.45"/>
<polygon points="410.1,451.5 463.0,425.2 463.0,418.8 410.1,445.1" fill="none" stroke="#454545" stroke-width="0.7" stroke-opacity="0.45"/>
<polygon points="381.2,429.7 405.8,442.0 461.2,414.4 436.6,402.2" fill="none" stroke="#454545" stroke-width="0.6" stroke-opacity="0.3"/>
<polygon points="411.6,418.3 411.8,417.6 412.1,416.8 412.7,416.1 413.5,415.5 414.4,414.9 415.6,414.5 416.9,414.1 418.2,413.8 419.7,413.6 421.2,413.5 422.7,413.6 424.2,413.8 425.5,414.1 426.8,414.5 428.0,414.9 428.9,415.5 429.7,416.1 430.3,416.8 430.6,417.6 430.8,418.3 430.8,429.6 430.6,430.3 430.3,431.1 429.7,431.7 428.9,432.4 428.0,433.0 426.8,433.4 425.5,433.8 424.2,434.1 422.7,434.3 421.2,434.3 419.7,434.3 418.2,434.1 416.9,433.8 415.6,433.4 414.4,433.0 413.5,432.4 412.7,431.7 412.1,431.1 411.8,430.3 411.6,429.6" fill="none" stroke="#454545" stroke-width="0.6" stroke-opacity="0.35"/>
<polygon points="408.2,410.8 408.3,409.8 408.8,408.8 409.6,407.8 410.6,407.0 412.0,406.2 413.5,405.5 415.3,405.0 417.2,404.6 419.2,404.4 421.2,404.3 423.2,404.4 425.2,404.6 427.1,405.0 428.9,405.5 430.4,406.2 431.8,407.0 432.8,407.8 433.6,408.8 434.1,409.8 434.2,410.8 434.2,418.3 434.1,419.3 433.6,420.3 432.8,421.3 431.8,422.1 430.4,422.9 428.9,423.6 427.1,424.1 425.2,424.5 423.2,424.7 421.2,424.8 419.2,424.7 417.2,424.5 415.3,424.1 413.5,423.6 412.0,422.9 410.6,422.1 409.6,421.3 408.8,420.3 408.3,419.3 408.2,418.3" fill="#ececec" fill-opacity="0.7" stroke="#454545" stroke-width="0.8"/>
<polygon points="430.4,415.4 431.8,414.6 432.8,413.7 433.6,412.8 434.1,411.8 434.2,410.8 434.1,409.8 433.6,408.8 432.8,407.8 431.8,407.0 430.4,406.2 428.9,405.5 427.1,405.0 425.2,404.6 423.2,404.4 421.2,404.3 419.2,404.4 417.2,404.6 415.3,405.0 413.5,405.5 412.0,406.2 410.6,407.0 409.6,407.8 408.8,408.8 408.3,409.8 408.2,410.8 408.3,411.8 408.8,412.8 409.6,413.7 410.6,414.6 412.0,415.4 413.5,416.0 415.3,416.6 417.2,417.0 419.2,417.2 421.2,417.3 423.2,417.2 425.2,417.0 427.1,416.6 428.9,416.0" fill="#f8f8f8" fill-opacity="0.7" stroke="#454545" stroke-width="0.8"/>
<polygon points="427.3,413.8 428.2,413.3 428.9,412.8 429.5,412.1 429.8,411.5 429.9,410.8 429.8,410.1 429.5,409.5 428.9,408.8 428.2,408.2 427.3,407.7 426.3,407.3 425.1,406.9 423.9,406.7 422.6,406.5 421.2,406.5 419.8,406.5 418.5,406.7 417.3,406.9 416.1,407.3 415.1,407.7 414.2,408.2 413.5,408.8 412.9,409.5 412.6,410.1 412.5,410.8 412.6,411.5 412.9,412.1 413.5,412.8 414.2,413.3 415.1,413.8 416.1,414.3 417.3,414.6 418.5,414.9 419.8,415.1 421.2,415.1 422.6,415.1 423.9,414.9 425.1,414.6 426.3,414.3" fill="none" stroke="#454545" stroke-width="0.7" stroke-opacity="0.8"/>
<polygon points="427.3,418.4 428.2,417.8 428.9,417.3 429.5,416.6 429.8,416.0 429.9,415.3 429.8,414.6 429.5,414.0 428.9,413.3 428.2,412.8 427.3,412.2 426.3,411.8 425.1,411.4 423.9,411.2 422.6,411.0 421.2,411.0 419.8,411.0 418.5,411.2 417.3,411.4 416.1,411.8 415.1,412.2 414.2,412.8 413.5,413.3 412.9,414.0 412.6,414.6 412.5,415.3 412.6,416.0 412.9,416.6 413.5,417.3 414.2,417.8 415.1,418.4 416.1,418.8 417.3,419.2 418.5,419.4 419.8,419.6 421.2,419.6 422.6,419.6 423.9,419.4 425.1,419.2 426.3,418.8" fill="none" stroke="#454545" stroke-width="0.6" stroke-opacity="0.4"/>
<polygon points="436.6,470.5 498.1,439.9 498.1,426.0 436.6,456.6" fill="#e4e4e4" stroke="#454545" stroke-width="0.85" stroke-linejoin="round" fill-opacity="0.62" />
<polygon points="405.8,455.2 436.6,470.5 436.6,456.6 405.8,441.3" fill="#d9d9d9" stroke="#454545" stroke-width="0.85" stroke-linejoin="round" fill-opacity="0.62" />
<polygon points="405.8,441.3 436.6,456.6 498.1,426.0 467.3,410.7" fill="#f3f3f3" stroke="#454545" stroke-width="0.85" stroke-linejoin="round" fill-opacity="0.62" />
<polygon points="410.1,455.8 432.3,466.8 432.3,460.4 410.1,449.4" fill="none" stroke="#454545" stroke-width="0.7" stroke-opacity="0.45"/>
<polygon points="440.9,466.8 493.8,440.5 493.8,434.1 440.9,460.4" fill="none" stroke="#454545" stroke-width="0.7" stroke-opacity="0.45"/>
<polygon points="412.0,445.0 436.6,457.3 491.9,429.7 467.3,417.5" fill="none" stroke="#454545" stroke-width="0.6" stroke-opacity="0.3"/>
<polygon points="442.4,433.6 442.5,432.9 442.9,432.1 443.4,431.4 444.2,430.8 445.2,430.2 446.3,429.8 447.6,429.4 449.0,429.1 450.5,428.9 451.9,428.8 453.4,428.9 454.9,429.1 456.3,429.4 457.6,429.8 458.7,430.2 459.7,430.8 460.5,431.4 461.0,432.1 461.4,432.9 461.5,433.6 461.5,444.9 461.4,445.6 461.0,446.4 460.5,447.0 459.7,447.7 458.7,448.3 457.6,448.7 456.3,449.1 454.9,449.4 453.4,449.6 451.9,449.6 450.5,449.6 449.0,449.4 447.6,449.1 446.3,448.7 445.2,448.3 444.2,447.7 443.4,447.0 442.9,446.4 442.5,445.6 442.4,444.9" fill="none" stroke="#454545" stroke-width="0.6" stroke-opacity="0.35"/>
<polygon points="438.9,426.1 439.1,425.1 439.5,424.1 440.3,423.1 441.4,422.3 442.7,421.5 444.3,420.8 446.0,420.3 447.9,419.9 449.9,419.7 451.9,419.6 454.0,419.7 456.0,419.9 457.9,420.3 459.6,420.8 461.2,421.5 462.5,422.3 463.6,423.1 464.4,424.1 464.8,425.1 465.0,426.1 465.0,433.6 464.8,434.6 464.4,435.6 463.6,436.6 462.5,437.4 461.2,438.2 459.6,438.9 457.9,439.4 456.0,439.8 454.0,440.0 451.9,440.1 449.9,440.0 447.9,439.8 446.0,439.4 444.3,438.9 442.7,438.2 441.4,437.4 440.3,436.6 439.5,435.6 439.1,434.6 438.9,433.6" fill="#ececec" fill-opacity="0.7" stroke="#454545" stroke-width="0.8"/>
<polygon points="461.2,430.7 462.5,429.9 463.6,429.0 464.4,428.1 464.8,427.1 465.0,426.1 464.8,425.1 464.4,424.1 463.6,423.1 462.5,422.3 461.2,421.5 459.6,420.8 457.9,420.3 456.0,419.9 454.0,419.7 451.9,419.6 449.9,419.7 447.9,419.9 446.0,420.3 444.3,420.8 442.7,421.5 441.4,422.3 440.3,423.1 439.5,424.1 439.1,425.1 438.9,426.1 439.1,427.1 439.5,428.1 440.3,429.0 441.4,429.9 442.7,430.7 444.3,431.3 446.0,431.9 447.9,432.3 449.9,432.5 451.9,432.6 454.0,432.5 456.0,432.3 457.9,431.9 459.6,431.3" fill="#f8f8f8" fill-opacity="0.7" stroke="#454545" stroke-width="0.8"/>
<polygon points="458.1,429.1 459.0,428.6 459.7,428.1 460.2,427.4 460.5,426.8 460.6,426.1 460.5,425.4 460.2,424.8 459.7,424.1 459.0,423.5 458.1,423.0 457.1,422.6 455.9,422.2 454.6,422.0 453.3,421.8 451.9,421.8 450.6,421.8 449.3,422.0 448.0,422.2 446.8,422.6 445.8,423.0 444.9,423.5 444.2,424.1 443.7,424.8 443.4,425.4 443.3,426.1 443.4,426.8 443.7,427.4 444.2,428.1 444.9,428.6 445.8,429.1 446.8,429.6 448.0,429.9 449.3,430.2 450.6,430.4 451.9,430.4 453.3,430.4 454.6,430.2 455.9,429.9 457.1,429.6" fill="none" stroke="#454545" stroke-width="0.7" stroke-opacity="0.8"/>
<polygon points="458.1,433.7 459.0,433.1 459.7,432.6 460.2,431.9 460.5,431.3 460.6,430.6 460.5,429.9 460.2,429.3 459.7,428.6 459.0,428.1 458.1,427.5 457.1,427.1 455.9,426.7 454.6,426.5 453.3,426.3 451.9,426.3 450.6,426.3 449.3,426.5 448.0,426.7 446.8,427.1 445.8,427.5 444.9,428.1 444.2,428.6 443.7,429.3 443.4,429.9 443.3,430.6 443.4,431.3 443.7,431.9 444.2,432.6 444.9,433.1 445.8,433.7 446.8,434.1 448.0,434.5 449.3,434.7 450.6,434.9 451.9,434.9 453.3,434.9 454.6,434.7 455.9,434.5 457.1,434.1" fill="none" stroke="#454545" stroke-width="0.6" stroke-opacity="0.4"/>
<polygon points="467.3,485.8 528.8,455.2 528.8,441.3 467.3,471.9" fill="#ebc944" stroke="#3a2e04" stroke-width="0.8" stroke-linejoin="round" fill-opacity="0.84" />
<polygon points="436.6,470.5 467.3,485.8 467.3,471.9 436.6,456.6" fill="#e4c03a" stroke="#3a2e04" stroke-width="0.8" stroke-linejoin="round" fill-opacity="0.84" />
<polygon points="436.6,456.6 467.3,471.9 528.8,441.3 498.1,426.0" fill="#f4d64e" stroke="#3a2e04" stroke-width="0.8" stroke-linejoin="round" fill-opacity="0.84" />
<polygon points="440.9,471.1 463.0,482.1 463.0,475.7 440.9,464.7" fill="none" stroke="#3a2e04" stroke-width="0.7" stroke-opacity="0.5"/>
<polygon points="471.6,482.1 524.5,455.8 524.5,449.4 471.6,475.7" fill="none" stroke="#3a2e04" stroke-width="0.7" stroke-opacity="0.5"/>
<polygon points="442.7,460.3 467.3,472.6 522.7,445.0 498.1,432.8" fill="none" stroke="#3a2e04" stroke-width="0.6" stroke-opacity="0.25"/>
<polygon points="457.8,456.6 457.9,455.8 458.2,455.1 458.8,454.4 459.6,453.8 460.6,453.2 461.7,452.7 463.0,452.3 464.4,452.0 465.8,451.9 467.3,451.8 468.8,451.9 470.3,452.0 471.7,452.3 472.9,452.7 474.1,453.2 475.1,453.8 475.8,454.4 476.4,455.1 476.8,455.8 476.9,456.6 476.9,467.8 476.8,468.6 476.4,469.3 475.8,470.0 475.1,470.6 474.1,471.2 472.9,471.7 471.7,472.1 470.3,472.4 468.8,472.5 467.3,472.6 465.8,472.5 464.4,472.4 463.0,472.1 461.7,471.7 460.6,471.2 459.6,470.6 458.8,470.0 458.2,469.3 457.9,468.6 457.8,467.8" fill="none" stroke="#3a2e04" stroke-width="0.6" stroke-opacity="0.35"/>
<polygon points="454.3,449.0 454.4,448.0 454.9,447.0 455.7,446.1 456.8,445.2 458.1,444.4 459.7,443.8 461.4,443.3 463.3,442.9 465.3,442.6 467.3,442.5 469.4,442.6 471.4,442.9 473.2,443.3 475.0,443.8 476.6,444.4 477.9,445.2 478.9,446.1 479.7,447.0 480.2,448.0 480.4,449.0 480.4,456.6 480.2,457.6 479.7,458.6 478.9,459.5 477.9,460.4 476.6,461.1 475.0,461.8 473.2,462.3 471.4,462.7 469.4,463.0 467.3,463.0 465.3,463.0 463.3,462.7 461.4,462.3 459.7,461.8 458.1,461.1 456.8,460.4 455.7,459.5 454.9,458.6 454.4,457.6 454.3,456.6" fill="#eccb40" fill-opacity="0.55" stroke="#3a2e04" stroke-width="0.8"/>
<polygon points="476.6,453.6 477.9,452.9 478.9,452.0 479.7,451.0 480.2,450.1 480.4,449.0 480.2,448.0 479.7,447.0 478.9,446.1 477.9,445.2 476.6,444.4 475.0,443.8 473.2,443.3 471.4,442.9 469.4,442.6 467.3,442.5 465.3,442.6 463.3,442.9 461.4,443.3 459.7,443.8 458.1,444.4 456.8,445.2 455.7,446.1 454.9,447.0 454.4,448.0 454.3,449.0 454.4,450.1 454.9,451.0 455.7,452.0 456.8,452.9 458.1,453.6 459.7,454.3 461.4,454.8 463.3,455.2 465.3,455.4 467.3,455.5 469.4,455.4 471.4,455.2 473.2,454.8 475.0,454.3" fill="#f6da58" fill-opacity="0.55" stroke="#3a2e04" stroke-width="0.8"/>
<polygon points="476.6,461.1 477.9,460.4 478.9,459.5 479.7,458.6 480.2,457.6 480.4,456.6 480.2,455.5 479.7,454.6 478.9,453.6 477.9,452.7 476.6,452.0 475.0,451.3 473.2,450.8 471.4,450.4 469.4,450.1 467.3,450.1 465.3,450.1 463.3,450.4 461.4,450.8 459.7,451.3 458.1,452.0 456.8,452.7 455.7,453.6 454.9,454.6 454.4,455.5 454.3,456.6 454.4,457.6 454.9,458.6 455.7,459.5 456.8,460.4 458.1,461.1 459.7,461.8 461.4,462.3 463.3,462.7 465.3,463.0 467.3,463.0 469.4,463.0 471.4,462.7 473.2,462.3 475.0,461.8" fill="none" stroke="#3a2e04" stroke-width="0.7" stroke-opacity="0.45"/>
<polygon points="488.5,441.3 488.6,440.5 489.0,439.8 489.6,439.1 490.3,438.5 491.3,437.9 492.5,437.4 493.7,437.0 495.1,436.7 496.6,436.6 498.1,436.5 499.6,436.6 501.0,436.7 502.4,437.0 503.7,437.4 504.8,437.9 505.8,438.5 506.6,439.1 507.2,439.8 507.5,440.5 507.6,441.3 507.6,452.5 507.5,453.3 507.2,454.0 506.6,454.7 505.8,455.3 504.8,455.9 503.7,456.4 502.4,456.8 501.0,457.1 499.6,457.2 498.1,457.3 496.6,457.2 495.1,457.1 493.7,456.8 492.5,456.4 491.3,455.9 490.3,455.3 489.6,454.7 489.0,454.0 488.6,453.3 488.5,452.5" fill="none" stroke="#3a2e04" stroke-width="0.6" stroke-opacity="0.35"/>
<polygon points="485.0,433.7 485.2,432.7 485.7,431.7 486.5,430.8 487.5,429.9 488.9,429.1 490.4,428.5 492.2,428.0 494.0,427.6 496.0,427.3 498.1,427.2 500.1,427.3 502.1,427.6 504.0,428.0 505.7,428.5 507.3,429.1 508.6,429.9 509.7,430.8 510.5,431.7 511.0,432.7 511.1,433.7 511.1,441.3 511.0,442.3 510.5,443.3 509.7,444.2 508.6,445.1 507.3,445.8 505.7,446.5 504.0,447.0 502.1,447.4 500.1,447.7 498.1,447.7 496.0,447.7 494.0,447.4 492.2,447.0 490.4,446.5 488.9,445.8 487.5,445.1 486.5,444.2 485.7,443.3 485.2,442.3 485.0,441.3" fill="#eccb40" fill-opacity="0.55" stroke="#3a2e04" stroke-width="0.8"/>
<polygon points="507.3,438.3 508.6,437.6 509.7,436.7 510.5,435.7 511.0,434.8 511.1,433.7 511.0,432.7 510.5,431.7 509.7,430.8 508.6,429.9 507.3,429.1 505.7,428.5 504.0,428.0 502.1,427.6 500.1,427.3 498.1,427.2 496.0,427.3 494.0,427.6 492.2,428.0 490.4,428.5 488.8,429.1 487.5,429.9 486.5,430.8 485.7,431.7 485.2,432.7 485.0,433.7 485.2,434.8 485.7,435.7 486.5,436.7 487.5,437.6 488.8,438.3 490.4,439.0 492.2,439.5 494.0,439.9 496.0,440.1 498.1,440.2 500.1,440.1 502.1,439.9 504.0,439.5 505.7,439.0" fill="#f6da58" fill-opacity="0.55" stroke="#3a2e04" stroke-width="0.8"/>
<polygon points="507.3,445.8 508.6,445.1 509.7,444.2 510.5,443.3 511.0,442.3 511.1,441.3 511.0,440.2 510.5,439.3 509.7,438.3 508.6,437.4 507.3,436.7 505.7,436.0 504.0,435.5 502.1,435.1 500.1,434.8 498.1,434.8 496.0,434.8 494.0,435.1 492.2,435.5 490.4,436.0 488.8,436.7 487.5,437.4 486.5,438.3 485.7,439.3 485.2,440.2 485.0,441.3 485.2,442.3 485.7,443.3 486.5,444.2 487.5,445.1 488.8,445.8 490.4,446.5 492.2,447.0 494.0,447.4 496.0,447.7 498.1,447.7 500.1,447.7 502.1,447.4 504.0,447.0 505.7,446.5" fill="none" stroke="#3a2e04" stroke-width="0.7" stroke-opacity="0.45"/>
<polygon points="498.1,501.1 559.6,470.5 559.6,456.6 498.1,487.2" fill="#ebc944" stroke="#3a2e04" stroke-width="0.8" stroke-linejoin="round" fill-opacity="0.84" />
<polygon points="467.3,485.8 498.1,501.1 498.1,487.2 467.3,471.9" fill="#e4c03a" stroke="#3a2e04" stroke-width="0.8" stroke-linejoin="round" fill-opacity="0.84" />
<polygon points="467.3,471.9 498.1,487.2 559.6,456.6 528.8,441.3" fill="#f4d64e" stroke="#3a2e04" stroke-width="0.8" stroke-linejoin="round" fill-opacity="0.84" />
<polygon points="471.6,486.4 493.8,497.4 493.8,491.0 471.6,480.0" fill="none" stroke="#3a2e04" stroke-width="0.7" stroke-opacity="0.5"/>
<polygon points="502.4,497.4 555.3,471.1 555.3,464.7 502.4,491.0" fill="none" stroke="#3a2e04" stroke-width="0.7" stroke-opacity="0.5"/>
<polygon points="473.5,475.6 498.1,487.9 553.4,460.3 528.8,448.1" fill="none" stroke="#3a2e04" stroke-width="0.6" stroke-opacity="0.25"/>
<polygon points="488.5,471.9 488.6,471.1 489.0,470.4 489.6,469.7 490.3,469.1 491.3,468.5 492.5,468.0 493.7,467.6 495.1,467.3 496.6,467.2 498.1,467.1 499.6,467.2 501.0,467.3 502.4,467.6 503.7,468.0 504.8,468.5 505.8,469.1 506.6,469.7 507.2,470.4 507.5,471.1 507.6,471.9 507.6,483.1 507.5,483.9 507.2,484.6 506.6,485.3 505.8,485.9 504.8,486.5 503.7,487.0 502.4,487.4 501.0,487.7 499.6,487.8 498.1,487.9 496.6,487.8 495.1,487.7 493.7,487.4 492.5,487.0 491.3,486.5 490.3,485.9 489.6,485.3 489.0,484.6 488.6,483.9 488.5,483.1" fill="none" stroke="#3a2e04" stroke-width="0.6" stroke-opacity="0.35"/>
<polygon points="485.0,464.3 485.2,463.3 485.7,462.3 486.5,461.4 487.5,460.5 488.9,459.7 490.4,459.1 492.2,458.6 494.0,458.2 496.0,457.9 498.1,457.8 500.1,457.9 502.1,458.2 504.0,458.6 505.7,459.1 507.3,459.7 508.6,460.5 509.7,461.4 510.5,462.3 511.0,463.3 511.1,464.3 511.1,471.9 511.0,472.9 510.5,473.9 509.7,474.8 508.6,475.7 507.3,476.4 505.7,477.1 504.0,477.6 502.1,478.0 500.1,478.3 498.1,478.3 496.0,478.3 494.0,478.0 492.2,477.6 490.4,477.1 488.9,476.4 487.5,475.7 486.5,474.8 485.7,473.9 485.2,472.9 485.0,471.9" fill="#eccb40" fill-opacity="0.55" stroke="#3a2e04" stroke-width="0.8"/>
<polygon points="507.3,468.9 508.6,468.2 509.7,467.3 510.5,466.3 511.0,465.4 511.1,464.3 511.0,463.3 510.5,462.3 509.7,461.4 508.6,460.5 507.3,459.7 505.7,459.1 504.0,458.6 502.1,458.2 500.1,457.9 498.1,457.8 496.0,457.9 494.0,458.2 492.2,458.6 490.4,459.1 488.8,459.7 487.5,460.5 486.5,461.4 485.7,462.3 485.2,463.3 485.0,464.3 485.2,465.4 485.7,466.3 486.5,467.3 487.5,468.2 488.8,468.9 490.4,469.6 492.2,470.1 494.0,470.5 496.0,470.7 498.1,470.8 500.1,470.7 502.1,470.5 504.0,470.1 505.7,469.6" fill="#f6da58" fill-opacity="0.55" stroke="#3a2e04" stroke-width="0.8"/>
<polygon points="507.3,476.4 508.6,475.7 509.7,474.8 510.5,473.9 511.0,472.9 511.1,471.9 511.0,470.8 510.5,469.9 509.7,468.9 508.6,468.0 507.3,467.3 505.7,466.6 504.0,466.1 502.1,465.7 500.1,465.4 498.1,465.4 496.0,465.4 494.0,465.7 492.2,466.1 490.4,466.6 488.8,467.3 487.5,468.0 486.5,468.9 485.7,469.9 485.2,470.8 485.0,471.9 485.2,472.9 485.7,473.9 486.5,474.8 487.5,475.7 488.8,476.4 490.4,477.1 492.2,477.6 494.0,478.0 496.0,478.3 498.1,478.3 500.1,478.3 502.1,478.0 504.0,477.6 505.7,477.1" fill="none" stroke="#3a2e04" stroke-width="0.7" stroke-opacity="0.45"/>
<polygon points="519.3,456.6 519.4,455.8 519.7,455.1 520.3,454.4 521.1,453.8 522.1,453.2 523.2,452.7 524.5,452.3 525.9,452.0 527.3,451.9 528.8,451.8 530.3,451.9 531.8,452.0 533.2,452.3 534.4,452.7 535.6,453.2 536.6,453.8 537.3,454.4 537.9,455.1 538.3,455.8 538.4,456.6 538.4,467.8 538.3,468.6 537.9,469.3 537.3,470.0 536.6,470.6 535.6,471.2 534.4,471.7 533.2,472.1 531.8,472.4 530.3,472.5 528.8,472.6 527.3,472.5 525.9,472.4 524.5,472.1 523.2,471.7 522.1,471.2 521.1,470.6 520.3,470.0 519.7,469.3 519.4,468.6 519.3,467.8" fill="none" stroke="#3a2e04" stroke-width="0.6" stroke-opacity="0.35"/>
<polygon points="515.8,449.0 515.9,448.0 516.4,447.0 517.2,446.1 518.3,445.2 519.6,444.4 521.2,443.8 522.9,443.3 524.8,442.9 526.8,442.6 528.8,442.5 530.9,442.6 532.9,442.9 534.7,443.3 536.5,443.8 538.0,444.4 539.4,445.2 540.4,446.1 541.2,447.0 541.7,448.0 541.9,449.0 541.9,456.6 541.7,457.6 541.2,458.6 540.4,459.5 539.4,460.4 538.0,461.1 536.5,461.8 534.7,462.3 532.9,462.7 530.9,463.0 528.8,463.0 526.8,463.0 524.8,462.7 522.9,462.3 521.2,461.8 519.6,461.1 518.3,460.4 517.2,459.5 516.4,458.6 515.9,457.6 515.8,456.6" fill="#eccb40" fill-opacity="0.55" stroke="#3a2e04" stroke-width="0.8"/>
<polygon points="538.1,453.6 539.4,452.9 540.4,452.0 541.2,451.0 541.7,450.1 541.9,449.0 541.7,448.0 541.2,447.0 540.4,446.1 539.4,445.2 538.1,444.4 536.5,443.8 534.7,443.3 532.9,442.9 530.9,442.6 528.8,442.5 526.8,442.6 524.8,442.9 522.9,443.3 521.2,443.8 519.6,444.4 518.3,445.2 517.2,446.1 516.4,447.0 515.9,448.0 515.8,449.0 515.9,450.1 516.4,451.0 517.2,452.0 518.3,452.9 519.6,453.6 521.2,454.3 522.9,454.8 524.8,455.2 526.8,455.4 528.8,455.5 530.9,455.4 532.9,455.2 534.7,454.8 536.5,454.3" fill="#f6da58" fill-opacity="0.55" stroke="#3a2e04" stroke-width="0.8"/>
<polygon points="538.1,461.1 539.4,460.4 540.4,459.5 541.2,458.6 541.7,457.6 541.9,456.6 541.7,455.5 541.2,454.6 540.4,453.6 539.4,452.7 538.1,452.0 536.5,451.3 534.7,450.8 532.9,450.4 530.9,450.1 528.8,450.1 526.8,450.1 524.8,450.4 522.9,450.8 521.2,451.3 519.6,452.0 518.3,452.7 517.2,453.6 516.4,454.6 515.9,455.5 515.8,456.6 515.9,457.6 516.4,458.6 517.2,459.5 518.3,460.4 519.6,461.1 521.2,461.8 522.9,462.3 524.8,462.7 526.8,463.0 528.8,463.0 530.9,463.0 532.9,462.7 534.7,462.3 536.5,461.8" fill="none" stroke="#3a2e04" stroke-width="0.7" stroke-opacity="0.45"/>
<polygon points="559.6,501.1 621.1,470.5 621.1,456.6 559.6,487.2" fill="#e4e4e4" stroke="#454545" stroke-width="0.85" stroke-linejoin="round" fill-opacity="0.62" />
<polygon points="528.8,485.8 559.6,501.1 559.6,487.2 528.8,471.9" fill="#d9d9d9" stroke="#454545" stroke-width="0.85" stroke-linejoin="round" fill-opacity="0.62" />
<polygon points="528.8,471.9 559.6,487.2 621.1,456.6 590.3,441.3" fill="#f3f3f3" stroke="#454545" stroke-width="0.85" stroke-linejoin="round" fill-opacity="0.62" />
<polygon points="533.1,486.4 555.3,497.4 555.3,491.0 533.1,480.0" fill="none" stroke="#454545" stroke-width="0.7" stroke-opacity="0.45"/>
<polygon points="563.9,497.4 616.8,471.1 616.8,464.7 563.9,491.0" fill="none" stroke="#454545" stroke-width="0.7" stroke-opacity="0.45"/>
<polygon points="535.0,475.6 559.6,487.9 614.9,460.3 590.3,448.1" fill="none" stroke="#454545" stroke-width="0.6" stroke-opacity="0.3"/>
<polygon points="565.4,464.2 565.5,463.5 565.9,462.7 566.4,462.0 567.2,461.4 568.2,460.8 569.3,460.4 570.6,460.0 572.0,459.7 573.5,459.5 575.0,459.4 576.4,459.5 577.9,459.7 579.3,460.0 580.6,460.4 581.7,460.8 582.7,461.4 583.5,462.0 584.0,462.7 584.4,463.5 584.5,464.2 584.5,475.5 584.4,476.2 584.0,477.0 583.5,477.6 582.7,478.3 581.7,478.9 580.6,479.3 579.3,479.7 577.9,480.0 576.4,480.2 575.0,480.2 573.5,480.2 572.0,480.0 570.6,479.7 569.3,479.3 568.2,478.9 567.2,478.3 566.4,477.6 565.9,477.0 565.5,476.2 565.4,475.5" fill="none" stroke="#454545" stroke-width="0.6" stroke-opacity="0.35"/>
<polygon points="561.9,456.7 562.1,455.7 562.5,454.7 563.3,453.7 564.4,452.9 565.7,452.1 567.3,451.4 569.0,450.9 570.9,450.5 572.9,450.3 575.0,450.2 577.0,450.3 579.0,450.5 580.9,450.9 582.6,451.4 584.2,452.1 585.5,452.9 586.6,453.7 587.4,454.7 587.8,455.7 588.0,456.7 588.0,464.2 587.8,465.2 587.4,466.2 586.6,467.2 585.5,468.0 584.2,468.8 582.6,469.5 580.9,470.0 579.0,470.4 577.0,470.6 575.0,470.7 572.9,470.6 570.9,470.4 569.0,470.0 567.3,469.5 565.7,468.8 564.4,468.0 563.3,467.2 562.5,466.2 562.1,465.2 561.9,464.2" fill="#ececec" fill-opacity="0.7" stroke="#454545" stroke-width="0.8"/>
<polygon points="584.2,461.3 585.5,460.5 586.6,459.6 587.4,458.7 587.8,457.7 588.0,456.7 587.8,455.7 587.4,454.7 586.6,453.7 585.5,452.9 584.2,452.1 582.6,451.4 580.9,450.9 579.0,450.5 577.0,450.3 575.0,450.2 572.9,450.3 570.9,450.5 569.0,450.9 567.3,451.4 565.7,452.1 564.4,452.9 563.3,453.7 562.5,454.7 562.1,455.7 561.9,456.7 562.1,457.7 562.5,458.7 563.3,459.6 564.4,460.5 565.7,461.3 567.3,461.9 569.0,462.5 570.9,462.9 572.9,463.1 575.0,463.2 577.0,463.1 579.0,462.9 580.9,462.5 582.6,461.9" fill="#f8f8f8" fill-opacity="0.7" stroke="#454545" stroke-width="0.8"/>
<polygon points="581.1,459.7 582.0,459.2 582.7,458.7 583.2,458.0 583.5,457.4 583.6,456.7 583.5,456.0 583.2,455.4 582.7,454.7 582.0,454.1 581.1,453.6 580.1,453.2 578.9,452.8 577.6,452.6 576.3,452.4 575.0,452.4 573.6,452.4 572.3,452.6 571.0,452.8 569.8,453.2 568.8,453.6 567.9,454.1 567.2,454.7 566.7,455.4 566.4,456.0 566.3,456.7 566.4,457.4 566.7,458.0 567.2,458.7 567.9,459.2 568.8,459.7 569.8,460.2 571.0,460.5 572.3,460.8 573.6,461.0 575.0,461.0 576.3,461.0 577.6,460.8 578.9,460.5 580.1,460.2" fill="none" stroke="#454545" stroke-width="0.7" stroke-opacity="0.8"/>
<polygon points="581.1,464.3 582.0,463.7 582.7,463.2 583.2,462.5 583.5,461.9 583.6,461.2 583.5,460.5 583.2,459.9 582.7,459.2 582.0,458.7 581.1,458.1 580.1,457.7 578.9,457.3 577.6,457.1 576.3,456.9 575.0,456.9 573.6,456.9 572.3,457.1 571.0,457.3 569.8,457.7 568.8,458.1 567.9,458.7 567.2,459.2 566.7,459.9 566.4,460.5 566.3,461.2 566.4,461.9 566.7,462.5 567.2,463.2 567.9,463.7 568.8,464.3 569.8,464.7 571.0,465.1 572.3,465.3 573.6,465.5 575.0,465.5 576.3,465.5 577.6,465.3 578.9,465.1 580.1,464.7" fill="none" stroke="#454545" stroke-width="0.6" stroke-opacity="0.4"/>
<polygon points="559.6,531.7 621.1,501.1 621.1,487.2 559.6,517.8" fill="#e4e4e4" stroke="#454545" stroke-width="0.85" stroke-linejoin="round" fill-opacity="0.62" />
<polygon points="528.8,516.4 559.6,531.7 559.6,517.8 528.8,502.5" fill="#d9d9d9" stroke="#454545" stroke-width="0.85" stroke-linejoin="round" fill-opacity="0.62" />
<polygon points="528.8,502.5 559.6,517.8 621.1,487.2 590.3,471.9" fill="#f3f3f3" stroke="#454545" stroke-width="0.85" stroke-linejoin="round" fill-opacity="0.62" />
<polygon points="533.1,517.0 555.3,528.0 555.3,521.6 533.1,510.6" fill="none" stroke="#454545" stroke-width="0.7" stroke-opacity="0.45"/>
<polygon points="563.9,528.0 616.8,501.7 616.8,495.3 563.9,521.6" fill="none" stroke="#454545" stroke-width="0.7" stroke-opacity="0.45"/>
<polygon points="535.0,506.2 559.6,518.5 614.9,490.9 590.3,478.7" fill="none" stroke="#454545" stroke-width="0.6" stroke-opacity="0.3"/>
<polygon points="565.4,494.8 565.5,494.1 565.9,493.3 566.4,492.6 567.2,492.0 568.2,491.4 569.3,491.0 570.6,490.6 572.0,490.3 573.5,490.1 575.0,490.0 576.4,490.1 577.9,490.3 579.3,490.6 580.6,491.0 581.7,491.4 582.7,492.0 583.5,492.6 584.0,493.3 584.4,494.1 584.5,494.8 584.5,506.1 584.4,506.8 584.0,507.6 583.5,508.2 582.7,508.9 581.7,509.5 580.6,509.9 579.3,510.3 577.9,510.6 576.4,510.8 575.0,510.8 573.5,510.8 572.0,510.6 570.6,510.3 569.3,509.9 568.2,509.5 567.2,508.9 566.4,508.2 565.9,507.6 565.5,506.8 565.4,506.1" fill="none" stroke="#454545" stroke-width="0.6" stroke-opacity="0.35"/>
<polygon points="561.9,487.3 562.1,486.3 562.5,485.3 563.3,484.3 564.4,483.5 565.7,482.7 567.3,482.0 569.0,481.5 570.9,481.1 572.9,480.9 575.0,480.8 577.0,480.9 579.0,481.1 580.9,481.5 582.6,482.0 584.2,482.7 585.5,483.5 586.6,484.3 587.4,485.3 587.8,486.3 588.0,487.3 588.0,494.8 587.8,495.8 587.4,496.8 586.6,497.8 585.5,498.6 584.2,499.4 582.6,500.1 580.9,500.6 579.0,501.0 577.0,501.2 575.0,501.3 572.9,501.2 570.9,501.0 569.0,500.6 567.3,500.1 565.7,499.4 564.4,498.6 563.3,497.8 562.5,496.8 562.1,495.8 561.9,494.8" fill="#ececec" fill-opacity="0.7" stroke="#454545" stroke-width="0.8"/>
<polygon points="584.2,491.9 585.5,491.1 586.6,490.2 587.4,489.3 587.8,488.3 588.0,487.3 587.8,486.3 587.4,485.3 586.6,484.3 585.5,483.5 584.2,482.7 582.6,482.0 580.9,481.5 579.0,481.1 577.0,480.9 575.0,480.8 572.9,480.9 570.9,481.1 569.0,481.5 567.3,482.0 565.7,482.7 564.4,483.5 563.3,484.3 562.5,485.3 562.1,486.3 561.9,487.3 562.1,488.3 562.5,489.3 563.3,490.2 564.4,491.1 565.7,491.9 567.3,492.5 569.0,493.1 570.9,493.5 572.9,493.7 575.0,493.8 577.0,493.7 579.0,493.5 580.9,493.1 582.6,492.5" fill="#f8f8f8" fill-opacity="0.7" stroke="#454545" stroke-width="0.8"/>
<polygon points="581.1,490.3 582.0,489.8 582.7,489.3 583.2,488.6 583.5,488.0 583.6,487.3 583.5,486.6 583.2,486.0 582.7,485.3 582.0,484.7 581.1,484.2 580.1,483.8 578.9,483.4 577.6,483.2 576.3,483.0 575.0,483.0 573.6,483.0 572.3,483.2 571.0,483.4 569.8,483.8 568.8,484.2 567.9,484.7 567.2,485.3 566.7,486.0 566.4,486.6 566.3,487.3 566.4,488.0 566.7,488.6 567.2,489.3 567.9,489.8 568.8,490.3 569.8,490.8 571.0,491.1 572.3,491.4 573.6,491.6 575.0,491.6 576.3,491.6 577.6,491.4 578.9,491.1 580.1,490.8" fill="none" stroke="#454545" stroke-width="0.7" stroke-opacity="0.8"/>
<polygon points="581.1,494.9 582.0,494.3 582.7,493.8 583.2,493.1 583.5,492.5 583.6,491.8 583.5,491.1 583.2,490.5 582.7,489.8 582.0,489.3 581.1,488.7 580.1,488.3 578.9,487.9 577.6,487.7 576.3,487.5 575.0,487.5 573.6,487.5 572.3,487.7 571.0,487.9 569.8,488.3 568.8,488.7 567.9,489.3 567.2,489.8 566.7,490.5 566.4,491.1 566.3,491.8 566.4,492.5 566.7,493.1 567.2,493.8 567.9,494.3 568.8,494.9 569.8,495.3 571.0,495.7 572.3,495.9 573.6,496.1 575.0,496.1 576.3,496.1 577.6,495.9 578.9,495.7 580.1,495.3" fill="none" stroke="#454545" stroke-width="0.6" stroke-opacity="0.4"/>
<polygon points="590.3,547.0 651.8,516.4 651.8,502.5 590.3,533.1" fill="#ebc944" stroke="#3a2e04" stroke-width="0.8" stroke-linejoin="round" fill-opacity="0.84" />
<polygon points="559.6,531.7 590.3,547.0 590.3,533.1 559.6,517.8" fill="#e4c03a" stroke="#3a2e04" stroke-width="0.8" stroke-linejoin="round" fill-opacity="0.84" />
<polygon points="559.6,517.8 590.3,533.1 651.8,502.5 621.1,487.2" fill="#f4d64e" stroke="#3a2e04" stroke-width="0.8" stroke-linejoin="round" fill-opacity="0.84" />
<polygon points="563.9,532.3 586.0,543.3 586.0,536.9 563.9,525.9" fill="none" stroke="#3a2e04" stroke-width="0.7" stroke-opacity="0.5"/>
<polygon points="594.6,543.3 647.5,517.0 647.5,510.6 594.6,536.9" fill="none" stroke="#3a2e04" stroke-width="0.7" stroke-opacity="0.5"/>
<polygon points="565.7,521.5 590.3,533.8 645.7,506.2 621.1,494.0" fill="none" stroke="#3a2e04" stroke-width="0.6" stroke-opacity="0.25"/>
<polygon points="580.8,517.8 580.9,517.0 581.2,516.3 581.8,515.6 582.6,515.0 583.6,514.4 584.7,513.9 586.0,513.5 587.4,513.2 588.8,513.1 590.3,513.0 591.8,513.1 593.3,513.2 594.7,513.5 595.9,513.9 597.1,514.4 598.1,515.0 598.8,515.6 599.4,516.3 599.8,517.0 599.9,517.8 599.9,529.0 599.8,529.8 599.4,530.5 598.8,531.2 598.1,531.8 597.1,532.4 595.9,532.9 594.7,533.3 593.3,533.6 591.8,533.7 590.3,533.8 588.8,533.7 587.4,533.6 586.0,533.3 584.7,532.9 583.6,532.4 582.6,531.8 581.8,531.2 581.2,530.5 580.9,529.8 580.8,529.0" fill="none" stroke="#3a2e04" stroke-width="0.6" stroke-opacity="0.35"/>
<polygon points="577.3,510.2 577.4,509.2 577.9,508.2 578.7,507.3 579.8,506.4 581.1,505.6 582.7,505.0 584.4,504.5 586.3,504.1 588.3,503.8 590.3,503.7 592.4,503.8 594.4,504.1 596.2,504.5 598.0,505.0 599.5,505.6 600.9,506.4 601.9,507.3 602.7,508.2 603.2,509.2 603.4,510.2 603.4,517.8 603.2,518.8 602.7,519.8 601.9,520.7 600.9,521.6 599.5,522.3 598.0,523.0 596.2,523.5 594.4,523.9 592.4,524.2 590.3,524.2 588.3,524.2 586.3,523.9 584.4,523.5 582.7,523.0 581.1,522.3 579.8,521.6 578.7,520.7 577.9,519.8 577.4,518.8 577.3,517.8" fill="#eccb40" fill-opacity="0.55" stroke="#3a2e04" stroke-width="0.8"/>
<polygon points="599.6,514.8 600.9,514.1 601.9,513.2 602.7,512.2 603.2,511.3 603.4,510.2 603.2,509.2 602.7,508.2 601.9,507.3 600.9,506.4 599.6,505.6 598.0,505.0 596.2,504.5 594.4,504.1 592.4,503.8 590.3,503.7 588.3,503.8 586.3,504.1 584.4,504.5 582.7,505.0 581.1,505.6 579.8,506.4 578.7,507.3 577.9,508.2 577.4,509.2 577.3,510.2 577.4,511.3 577.9,512.2 578.7,513.2 579.8,514.1 581.1,514.8 582.7,515.5 584.4,516.0 586.3,516.4 588.3,516.6 590.3,516.7 592.4,516.6 594.4,516.4 596.2,516.0 598.0,515.5" fill="#f6da58" fill-opacity="0.55" stroke="#3a2e04" stroke-width="0.8"/>
<polygon points="599.6,522.3 600.9,521.6 601.9,520.7 602.7,519.8 603.2,518.8 603.4,517.8 603.2,516.7 602.7,515.8 601.9,514.8 600.9,513.9 599.6,513.2 598.0,512.5 596.2,512.0 594.4,511.6 592.4,511.3 590.3,511.3 588.3,511.3 586.3,511.6 584.4,512.0 582.7,512.5 581.1,513.2 579.8,513.9 578.7,514.8 577.9,515.8 577.4,516.7 577.3,517.8 577.4,518.8 577.9,519.8 578.7,520.7 579.8,521.6 581.1,522.3 582.7,523.0 584.4,523.5 586.3,523.9 588.3,524.2 590.3,524.2 592.4,524.2 594.4,523.9 596.2,523.5 598.0,523.0" fill="none" stroke="#3a2e04" stroke-width="0.7" stroke-opacity="0.45"/>
<polygon points="611.5,502.5 611.6,501.7 612.0,501.0 612.6,500.3 613.3,499.7 614.3,499.1 615.5,498.6 616.7,498.2 618.1,497.9 619.6,497.8 621.1,497.7 622.6,497.8 624.0,497.9 625.4,498.2 626.7,498.6 627.8,499.1 628.8,499.7 629.6,500.3 630.2,501.0 630.5,501.7 630.6,502.5 630.6,513.7 630.5,514.5 630.2,515.2 629.6,515.9 628.8,516.5 627.8,517.1 626.7,517.6 625.4,518.0 624.0,518.3 622.6,518.4 621.1,518.5 619.6,518.4 618.1,518.3 616.7,518.0 615.5,517.6 614.3,517.1 613.3,516.5 612.6,515.9 612.0,515.2 611.6,514.5 611.5,513.7" fill="none" stroke="#3a2e04" stroke-width="0.6" stroke-opacity="0.35"/>
<polygon points="608.0,494.9 608.2,493.9 608.7,492.9 609.5,492.0 610.5,491.1 611.9,490.3 613.4,489.7 615.2,489.2 617.0,488.8 619.0,488.5 621.1,488.4 623.1,488.5 625.1,488.8 627.0,489.2 628.7,489.7 630.3,490.3 631.6,491.1 632.7,492.0 633.5,492.9 634.0,493.9 634.1,494.9 634.1,502.5 634.0,503.5 633.5,504.5 632.7,505.4 631.6,506.3 630.3,507.0 628.7,507.7 627.0,508.2 625.1,508.6 623.1,508.9 621.1,508.9 619.0,508.9 617.0,508.6 615.2,508.2 613.4,507.7 611.9,507.0 610.5,506.3 609.5,505.4 608.7,504.5 608.2,503.5 608.0,502.5" fill="#eccb40" fill-opacity="0.55" stroke="#3a2e04" stroke-width="0.8"/>
<polygon points="630.3,499.5 631.6,498.8 632.7,497.9 633.5,496.9 634.0,496.0 634.1,494.9 634.0,493.9 633.5,492.9 632.7,492.0 631.6,491.1 630.3,490.3 628.7,489.7 627.0,489.2 625.1,488.8 623.1,488.5 621.1,488.4 619.0,488.5 617.0,488.8 615.2,489.2 613.4,489.7 611.9,490.3 610.5,491.1 609.5,492.0 608.7,492.9 608.2,493.9 608.0,494.9 608.2,496.0 608.7,496.9 609.5,497.9 610.5,498.8 611.9,499.5 613.4,500.2 615.2,500.7 617.0,501.1 619.0,501.3 621.1,501.4 623.1,501.3 625.1,501.1 627.0,500.7 628.7,500.2" fill="#f6da58" fill-opacity="0.55" stroke="#3a2e04" stroke-width="0.8"/>
<polygon points="630.3,507.0 631.6,506.3 632.7,505.4 633.5,504.5 634.0,503.5 634.1,502.5 634.0,501.4 633.5,500.5 632.7,499.5 631.6,498.6 630.3,497.9 628.7,497.2 627.0,496.7 625.1,496.3 623.1,496.0 621.1,496.0 619.0,496.0 617.0,496.3 615.2,496.7 613.4,497.2 611.9,497.9 610.5,498.6 609.5,499.5 608.7,500.5 608.2,501.4 608.0,502.5 608.2,503.5 608.7,504.5 609.5,505.4 610.5,506.3 611.9,507.0 613.4,507.7 615.2,508.2 617.0,508.6 619.0,508.9 621.1,508.9 623.1,508.9 625.1,508.6 627.0,508.2 628.7,507.7" fill="none" stroke="#3a2e04" stroke-width="0.7" stroke-opacity="0.45"/>
<polygon points="621.1,562.3 682.6,531.7 682.6,517.8 621.1,548.4" fill="#ebc944" stroke="#3a2e04" stroke-width="0.8" stroke-linejoin="round" fill-opacity="0.84" />
<polygon points="590.3,547.0 621.1,562.3 621.1,548.4 590.3,533.1" fill="#e4c03a" stroke="#3a2e04" stroke-width="0.8" stroke-linejoin="round" fill-opacity="0.84" />
<polygon points="590.3,533.1 621.1,548.4 682.6,517.8 651.8,502.5" fill="#f4d64e" stroke="#3a2e04" stroke-width="0.8" stroke-linejoin="round" fill-opacity="0.84" />
<polygon points="594.6,547.6 616.8,558.6 616.8,552.2 594.6,541.2" fill="none" stroke="#3a2e04" stroke-width="0.7" stroke-opacity="0.5"/>
<polygon points="625.4,558.6 678.3,532.3 678.3,525.9 625.4,552.2" fill="none" stroke="#3a2e04" stroke-width="0.7" stroke-opacity="0.5"/>
<polygon points="596.5,536.8 621.1,549.1 676.4,521.5 651.8,509.3" fill="none" stroke="#3a2e04" stroke-width="0.6" stroke-opacity="0.25"/>
<polygon points="611.5,533.1 611.6,532.3 612.0,531.6 612.6,530.9 613.3,530.3 614.3,529.7 615.5,529.2 616.7,528.8 618.1,528.5 619.6,528.4 621.1,528.3 622.6,528.4 624.0,528.5 625.4,528.8 626.7,529.2 627.8,529.7 628.8,530.3 629.6,530.9 630.2,531.6 630.5,532.3 630.6,533.1 630.6,544.3 630.5,545.1 630.2,545.8 629.6,546.5 628.8,547.1 627.8,547.7 626.7,548.2 625.4,548.6 624.0,548.9 622.6,549.0 621.1,549.1 619.6,549.0 618.1,548.9 616.7,548.6 615.5,548.2 614.3,547.7 613.3,547.1 612.6,546.5 612.0,545.8 611.6,545.1 611.5,544.3" fill="none" stroke="#3a2e04" stroke-width="0.6" stroke-opacity="0.35"/>
<polygon points="608.0,525.5 608.2,524.5 608.7,523.5 609.5,522.6 610.5,521.7 611.9,520.9 613.4,520.3 615.2,519.8 617.0,519.4 619.0,519.1 621.1,519.0 623.1,519.1 625.1,519.4 627.0,519.8 628.7,520.3 630.3,520.9 631.6,521.7 632.7,522.6 633.5,523.5 634.0,524.5 634.1,525.5 634.1,533.1 634.0,534.1 633.5,535.1 632.7,536.0 631.6,536.9 630.3,537.6 628.7,538.3 627.0,538.8 625.1,539.2 623.1,539.5 621.1,539.5 619.0,539.5 617.0,539.2 615.2,538.8 613.4,538.3 611.9,537.6 610.5,536.9 609.5,536.0 608.7,535.1 608.2,534.1 608.0,533.1" fill="#eccb40" fill-opacity="0.55" stroke="#3a2e04" stroke-width="0.8"/>
<polygon points="630.3,530.1 631.6,529.4 632.7,528.5 633.5,527.5 634.0,526.6 634.1,525.5 634.0,524.5 633.5,523.5 632.7,522.6 631.6,521.7 630.3,520.9 628.7,520.3 627.0,519.8 625.1,519.4 623.1,519.1 621.1,519.0 619.0,519.1 617.0,519.4 615.2,519.8 613.4,520.3 611.9,520.9 610.5,521.7 609.5,522.6 608.7,523.5 608.2,524.5 608.0,525.5 608.2,526.6 608.7,527.5 609.5,528.5 610.5,529.4 611.9,530.1 613.4,530.8 615.2,531.3 617.0,531.7 619.0,531.9 621.1,532.0 623.1,531.9 625.1,531.7 627.0,531.3 628.7,530.8" fill="#f6da58" fill-opacity="0.55" stroke="#3a2e04" stroke-width="0.8"/>
<polygon points="630.3,537.6 631.6,536.9 632.7,536.0 633.5,535.1 634.0,534.1 634.1,533.1 634.0,532.0 633.5,531.1 632.7,530.1 631.6,529.2 630.3,528.5 628.7,527.8 627.0,527.3 625.1,526.9 623.1,526.6 621.1,526.6 619.0,526.6 617.0,526.9 615.2,527.3 613.4,527.8 611.9,528.5 610.5,529.2 609.5,530.1 608.7,531.1 608.2,532.0 608.0,533.1 608.2,534.1 608.7,535.1 609.5,536.0 610.5,536.9 611.9,537.6 613.4,538.3 615.2,538.8 617.0,539.2 619.0,539.5 621.1,539.5 623.1,539.5 625.1,539.2 627.0,538.8 628.7,538.3" fill="none" stroke="#3a2e04" stroke-width="0.7" stroke-opacity="0.45"/>
<polygon points="642.3,517.8 642.4,517.0 642.7,516.3 643.3,515.6 644.1,515.0 645.1,514.4 646.2,513.9 647.5,513.5 648.9,513.2 650.3,513.1 651.8,513.0 653.3,513.1 654.8,513.2 656.2,513.5 657.4,513.9 658.6,514.4 659.6,515.0 660.3,515.6 660.9,516.3 661.3,517.0 661.4,517.8 661.4,529.0 661.3,529.8 660.9,530.5 660.3,531.2 659.6,531.8 658.6,532.4 657.4,532.9 656.2,533.3 654.8,533.6 653.3,533.7 651.8,533.8 650.3,533.7 648.9,533.6 647.5,533.3 646.2,532.9 645.1,532.4 644.1,531.8 643.3,531.2 642.7,530.5 642.4,529.8 642.3,529.0" fill="none" stroke="#3a2e04" stroke-width="0.6" stroke-opacity="0.35"/>
<polygon points="638.8,510.2 638.9,509.2 639.4,508.2 640.2,507.3 641.3,506.4 642.6,505.6 644.2,505.0 645.9,504.5 647.8,504.1 649.8,503.8 651.8,503.7 653.9,503.8 655.9,504.1 657.7,504.5 659.5,505.0 661.0,505.6 662.4,506.4 663.4,507.3 664.2,508.2 664.7,509.2 664.9,510.2 664.9,517.8 664.7,518.8 664.2,519.8 663.4,520.7 662.4,521.6 661.0,522.3 659.5,523.0 657.7,523.5 655.9,523.9 653.9,524.2 651.8,524.2 649.8,524.2 647.8,523.9 645.9,523.5 644.2,523.0 642.6,522.3 641.3,521.6 640.2,520.7 639.4,519.8 638.9,518.8 638.8,517.8" fill="#eccb40" fill-opacity="0.55" stroke="#3a2e04" stroke-width="0.8"/>
<polygon points="661.1,514.8 662.4,514.1 663.4,513.2 664.2,512.2 664.7,511.3 664.9,510.2 664.7,509.2 664.2,508.2 663.4,507.3 662.4,506.4 661.1,505.6 659.5,505.0 657.7,504.5 655.9,504.1 653.9,503.8 651.8,503.7 649.8,503.8 647.8,504.1 645.9,504.5 644.2,505.0 642.6,505.6 641.3,506.4 640.2,507.3 639.4,508.2 638.9,509.2 638.8,510.2 638.9,511.3 639.4,512.2 640.2,513.2 641.3,514.1 642.6,514.8 644.2,515.5 645.9,516.0 647.8,516.4 649.8,516.6 651.8,516.7 653.9,516.6 655.9,516.4 657.7,516.0 659.5,515.5" fill="#f6da58" fill-opacity="0.55" stroke="#3a2e04" stroke-width="0.8"/>
<polygon points="661.1,522.3 662.4,521.6 663.4,520.7 664.2,519.8 664.7,518.8 664.9,517.8 664.7,516.7 664.2,515.8 663.4,514.8 662.4,513.9 661.1,513.2 659.5,512.5 657.7,512.0 655.9,511.6 653.9,511.3 651.8,511.3 649.8,511.3 647.8,511.6 645.9,512.0 644.2,512.5 642.6,513.2 641.3,513.9 640.2,514.8 639.4,515.8 638.9,516.7 638.8,517.8 638.9,518.8 639.4,519.8 640.2,520.7 641.3,521.6 642.6,522.3 644.2,523.0 645.9,523.5 647.8,523.9 649.8,524.2 651.8,524.2 653.9,524.2 655.9,523.9 657.7,523.5 659.5,523.0" fill="none" stroke="#3a2e04" stroke-width="0.7" stroke-opacity="0.45"/>
<polygon points="651.8,577.6 713.3,547.0 713.3,533.1 651.8,563.7" fill="#e4e4e4" stroke="#454545" stroke-width="0.85" stroke-linejoin="round" fill-opacity="0.62" />
<polygon points="621.1,562.3 651.8,577.6 651.8,563.7 621.1,548.4" fill="#d9d9d9" stroke="#454545" stroke-width="0.85" stroke-linejoin="round" fill-opacity="0.62" />
<polygon points="621.1,548.4 651.8,563.7 713.3,533.1 682.6,517.8" fill="#f3f3f3" stroke="#454545" stroke-width="0.85" stroke-linejoin="round" fill-opacity="0.62" />
<polygon points="625.4,562.9 647.5,573.9 647.5,567.5 625.4,556.5" fill="none" stroke="#454545" stroke-width="0.7" stroke-opacity="0.45"/>
<polygon points="656.1,573.9 709.0,547.6 709.0,541.2 656.1,567.5" fill="none" stroke="#454545" stroke-width="0.7" stroke-opacity="0.45"/>
<polygon points="627.2,552.1 651.8,564.4 707.2,536.8 682.6,524.6" fill="none" stroke="#454545" stroke-width="0.6" stroke-opacity="0.3"/>
<polygon points="657.6,540.7 657.8,540.0 658.1,539.2 658.7,538.5 659.5,537.9 660.4,537.3 661.6,536.9 662.9,536.5 664.2,536.2 665.7,536.0 667.2,535.9 668.7,536.0 670.2,536.2 671.5,536.5 672.8,536.9 674.0,537.3 674.9,537.9 675.7,538.5 676.3,539.2 676.6,540.0 676.8,540.7 676.8,552.0 676.6,552.7 676.3,553.5 675.7,554.1 674.9,554.8 674.0,555.4 672.8,555.8 671.5,556.2 670.2,556.5 668.7,556.7 667.2,556.7 665.7,556.7 664.2,556.5 662.9,556.2 661.6,555.8 660.4,555.4 659.5,554.8 658.7,554.1 658.1,553.5 657.8,552.7 657.6,552.0" fill="none" stroke="#454545" stroke-width="0.6" stroke-opacity="0.35"/>
<polygon points="654.2,533.2 654.3,532.2 654.8,531.2 655.6,530.2 656.6,529.4 658.0,528.6 659.5,527.9 661.3,527.4 663.2,527.0 665.2,526.8 667.2,526.7 669.2,526.8 671.2,527.0 673.1,527.4 674.9,527.9 676.4,528.6 677.8,529.4 678.8,530.2 679.6,531.2 680.1,532.2 680.2,533.2 680.2,540.7 680.1,541.7 679.6,542.7 678.8,543.7 677.8,544.5 676.4,545.3 674.9,546.0 673.1,546.5 671.2,546.9 669.2,547.1 667.2,547.2 665.2,547.1 663.2,546.9 661.3,546.5 659.5,546.0 658.0,545.3 656.6,544.5 655.6,543.7 654.8,542.7 654.3,541.7 654.2,540.7" fill="#ececec" fill-opacity="0.7" stroke="#454545" stroke-width="0.8"/>
<polygon points="676.4,537.8 677.8,537.0 678.8,536.1 679.6,535.2 680.1,534.2 680.2,533.2 680.1,532.2 679.6,531.2 678.8,530.2 677.8,529.4 676.4,528.6 674.9,527.9 673.1,527.4 671.2,527.0 669.2,526.8 667.2,526.7 665.2,526.8 663.2,527.0 661.3,527.4 659.5,527.9 658.0,528.6 656.6,529.4 655.6,530.2 654.8,531.2 654.3,532.2 654.2,533.2 654.3,534.2 654.8,535.2 655.6,536.1 656.6,537.0 658.0,537.8 659.5,538.4 661.3,539.0 663.2,539.4 665.2,539.6 667.2,539.7 669.2,539.6 671.2,539.4 673.1,539.0 674.9,538.4" fill="#f8f8f8" fill-opacity="0.7" stroke="#454545" stroke-width="0.8"/>
<polygon points="673.4,536.2 674.2,535.7 674.9,535.2 675.5,534.5 675.8,533.9 675.9,533.2 675.8,532.5 675.5,531.9 674.9,531.2 674.2,530.6 673.4,530.1 672.3,529.7 671.1,529.3 669.9,529.1 668.6,528.9 667.2,528.9 665.8,528.9 664.5,529.1 663.3,529.3 662.1,529.7 661.1,530.1 660.2,530.6 659.5,531.2 658.9,531.9 658.6,532.5 658.5,533.2 658.6,533.9 658.9,534.5 659.5,535.2 660.2,535.7 661.1,536.2 662.1,536.7 663.3,537.0 664.5,537.3 665.8,537.5 667.2,537.5 668.6,537.5 669.9,537.3 671.1,537.0 672.3,536.7" fill="none" stroke="#454545" stroke-width="0.7" stroke-opacity="0.8"/>
<polygon points="673.4,540.8 674.2,540.2 674.9,539.7 675.5,539.0 675.8,538.4 675.9,537.7 675.8,537.0 675.5,536.4 674.9,535.7 674.2,535.2 673.4,534.6 672.3,534.2 671.1,533.8 669.9,533.6 668.6,533.4 667.2,533.4 665.8,533.4 664.5,533.6 663.3,533.8 662.1,534.2 661.1,534.6 660.2,535.2 659.5,535.7 658.9,536.4 658.6,537.0 658.5,537.7 658.6,538.4 658.9,539.0 659.5,539.7 660.2,540.2 661.1,540.8 662.1,541.2 663.3,541.6 664.5,541.8 665.8,542.0 667.2,542.0 668.6,542.0 669.9,541.8 671.1,541.6 672.3,541.2" fill="none" stroke="#454545" stroke-width="0.6" stroke-opacity="0.4"/>
<polygon points="651.8,608.2 713.3,577.6 713.3,563.7 651.8,594.3" fill="#e4e4e4" stroke="#454545" stroke-width="0.85" stroke-linejoin="round" fill-opacity="0.62" />
<polygon points="621.1,592.9 651.8,608.2 651.8,594.3 621.1,579.0" fill="#d9d9d9" stroke="#454545" stroke-width="0.85" stroke-linejoin="round" fill-opacity="0.62" />
<polygon points="621.1,579.0 651.8,594.3 713.3,563.7 682.6,548.4" fill="#f3f3f3" stroke="#454545" stroke-width="0.85" stroke-linejoin="round" fill-opacity="0.62" />
<polygon points="625.4,593.5 647.5,604.5 647.5,598.1 625.4,587.1" fill="none" stroke="#454545" stroke-width="0.7" stroke-opacity="0.45"/>
<polygon points="656.1,604.5 709.0,578.2 709.0,571.8 656.1,598.1" fill="none" stroke="#454545" stroke-width="0.7" stroke-opacity="0.45"/>
<polygon points="627.2,582.7 651.8,595.0 707.2,567.4 682.6,555.2" fill="none" stroke="#454545" stroke-width="0.6" stroke-opacity="0.3"/>
<polygon points="657.6,571.3 657.8,570.6 658.1,569.8 658.7,569.1 659.5,568.5 660.4,567.9 661.6,567.5 662.9,567.1 664.2,566.8 665.7,566.6 667.2,566.5 668.7,566.6 670.2,566.8 671.5,567.1 672.8,567.5 674.0,567.9 674.9,568.5 675.7,569.1 676.3,569.8 676.6,570.6 676.8,571.3 676.8,582.6 676.6,583.3 676.3,584.1 675.7,584.7 674.9,585.4 674.0,586.0 672.8,586.4 671.5,586.8 670.2,587.1 668.7,587.3 667.2,587.3 665.7,587.3 664.2,587.1 662.9,586.8 661.6,586.4 660.4,586.0 659.5,585.4 658.7,584.7 658.1,584.1 657.8,583.3 657.6,582.6" fill="none" stroke="#454545" stroke-width="0.6" stroke-opacity="0.35"/>
<polygon points="654.2,563.8 654.3,562.8 654.8,561.8 655.6,560.8 656.6,560.0 658.0,559.2 659.5,558.5 661.3,558.0 663.2,557.6 665.2,557.4 667.2,557.3 669.2,557.4 671.2,557.6 673.1,558.0 674.9,558.5 676.4,559.2 677.8,560.0 678.8,560.8 679.6,561.8 680.1,562.8 680.2,563.8 680.2,571.3 680.1,572.3 679.6,573.3 678.8,574.3 677.8,575.1 676.4,575.9 674.9,576.6 673.1,577.1 671.2,577.5 669.2,577.7 667.2,577.8 665.2,577.7 663.2,577.5 661.3,577.1 659.5,576.6 658.0,575.9 656.6,575.1 655.6,574.3 654.8,573.3 654.3,572.3 654.2,571.3" fill="#ececec" fill-opacity="0.7" stroke="#454545" stroke-width="0.8"/>
<polygon points="676.4,568.4 677.8,567.6 678.8,566.7 679.6,565.8 680.1,564.8 680.2,563.8 680.1,562.8 679.6,561.8 678.8,560.8 677.8,560.0 676.4,559.2 674.9,558.5 673.1,558.0 671.2,557.6 669.2,557.4 667.2,557.3 665.2,557.4 663.2,557.6 661.3,558.0 659.5,558.5 658.0,559.2 656.6,560.0 655.6,560.8 654.8,561.8 654.3,562.8 654.2,563.8 654.3,564.8 654.8,565.8 655.6,566.7 656.6,567.6 658.0,568.4 659.5,569.0 661.3,569.6 663.2,570.0 665.2,570.2 667.2,570.3 669.2,570.2 671.2,570.0 673.1,569.6 674.9,569.0" fill="#f8f8f8" fill-opacity="0.7" stroke="#454545" stroke-width="0.8"/>
<polygon points="673.4,566.8 674.2,566.3 674.9,565.8 675.5,565.1 675.8,564.5 675.9,563.8 675.8,563.1 675.5,562.5 674.9,561.8 674.2,561.2 673.4,560.7 672.3,560.3 671.1,559.9 669.9,559.7 668.6,559.5 667.2,559.5 665.8,559.5 664.5,559.7 663.3,559.9 662.1,560.3 661.1,560.7 660.2,561.2 659.5,561.8 658.9,562.5 658.6,563.1 658.5,563.8 658.6,564.5 658.9,565.1 659.5,565.8 660.2,566.3 661.1,566.8 662.1,567.3 663.3,567.6 664.5,567.9 665.8,568.1 667.2,568.1 668.6,568.1 669.9,567.9 671.1,567.6 672.3,567.3" fill="none" stroke="#454545" stroke-width="0.7" stroke-opacity="0.8"/>
<polygon points="673.4,571.4 674.2,570.8 674.9,570.3 675.5,569.6 675.8,569.0 675.9,568.3 675.8,567.6 675.5,567.0 674.9,566.3 674.2,565.8 673.4,565.2 672.3,564.8 671.1,564.4 669.9,564.2 668.6,564.0 667.2,564.0 665.8,564.0 664.5,564.2 663.3,564.4 662.1,564.8 661.1,565.2 660.2,565.8 659.5,566.3 658.9,567.0 658.6,567.6 658.5,568.3 658.6,569.0 658.9,569.6 659.5,570.3 660.2,570.8 661.1,571.4 662.1,571.8 663.3,572.2 664.5,572.4 665.8,572.6 667.2,572.6 668.6,572.6 669.9,572.4 671.1,572.2 672.3,571.8" fill="none" stroke="#454545" stroke-width="0.6" stroke-opacity="0.4"/>
<g transform="translate(0.00,0.00)">
<polygon points="83.0,183.3 113.7,168.0 113.7,122.9 83.0,138.2" fill="#dc220e" stroke="#222222" stroke-width="0.8" stroke-linejoin="round" />
<polygon points="52.2,168.0 83.0,183.3 83.0,138.2 52.2,122.9" fill="#ab1909" stroke="#222222" stroke-width="0.8" stroke-linejoin="round" />
<polygon points="52.2,122.9 83.0,138.2 113.7,122.9 83.0,107.6" fill="#e4230f" stroke="#222222" stroke-width="0.8" stroke-linejoin="round" />
<polygon points="69.9,115.4 70.1,114.4 70.5,113.4 71.3,112.5 72.4,111.6 73.7,110.8 75.3,110.1 77.0,109.6 78.9,109.2 80.9,109.0 83.0,108.9 85.0,109.0 87.0,109.2 88.9,109.6 90.6,110.1 92.2,110.8 93.5,111.6 94.6,112.5 95.4,113.4 95.8,114.4 96.0,115.4 96.0,122.9 95.8,123.9 95.4,124.9 94.6,125.9 93.5,126.7 92.2,127.5 90.6,128.2 88.9,128.7 87.0,129.1 85.0,129.3 83.0,129.4 80.9,129.3 78.9,129.1 77.0,128.7 75.3,128.2 73.7,127.5 72.4,126.7 71.3,125.9 70.5,124.9 70.1,123.9 69.9,122.9" fill="#c81e0c" stroke="#222222" stroke-width="0.8" stroke-linejoin="round" />
<polygon points="92.2,120.0 93.5,119.2 94.6,118.3 95.4,117.4 95.8,116.4 96.0,115.4 95.8,114.4 95.4,113.4 94.6,112.5 93.5,111.6 92.2,110.8 90.6,110.1 88.9,109.6 87.0,109.2 85.0,109.0 83.0,108.9 80.9,109.0 78.9,109.2 77.0,109.6 75.3,110.1 73.7,110.8 72.4,111.6 71.3,112.5 70.5,113.4 70.1,114.4 69.9,115.4 70.1,116.4 70.5,117.4 71.3,118.3 72.4,119.2 73.7,120.0 75.3,120.7 77.0,121.2 78.9,121.6 80.9,121.8 83.0,121.9 85.0,121.8 87.0,121.6 88.9,121.2 90.6,120.7" fill="#e42812" stroke="#222222" stroke-width="0.8" stroke-linejoin="round" />
<polygon points="52.2,147.8 52.3,146.1 52.7,144.6 53.2,143.2 54.0,142.1 54.9,141.2 56.0,140.6 62.2,137.5 63.4,137.2 64.7,137.2 66.1,137.5 67.6,138.1 69.0,138.9 70.4,140.1 71.8,141.4 73.0,142.9 74.1,144.6 75.0,146.5 75.8,148.3 76.3,150.2 76.7,152.1 76.8,154.0 76.7,155.7 76.3,157.2 75.8,158.6 75.0,159.7 74.1,160.6 73.0,161.2 66.8,164.3 65.6,164.6 64.3,164.6 62.9,164.3 61.4,163.7 60.0,162.9 58.6,161.7 57.2,160.4 56.0,158.9 54.9,157.2 54.0,155.3 53.2,153.5 52.7,151.6 52.3,149.7" fill="#f03420" stroke="#1a1a1a" stroke-width="0.8" stroke-linejoin="round" />
<polygon points="70.7,157.0 70.5,155.2 70.2,153.3 69.6,151.4 68.9,149.5 67.9,147.7 66.8,146.0 65.6,144.5 64.3,143.1 62.9,142.0 61.4,141.2 60.0,140.6 58.6,140.3 57.2,140.3 56.0,140.6 54.9,141.2 54.0,142.1 53.2,143.2 52.7,144.6 52.3,146.1 52.2,147.8 52.3,149.7 52.7,151.6 53.2,153.5 54.0,155.3 54.9,157.2 56.0,158.9 57.2,160.4 58.6,161.7 60.0,162.9 61.4,163.7 62.9,164.3 64.3,164.6 65.6,164.6 66.8,164.3 67.9,163.7 68.9,162.8 69.6,161.6 70.2,160.3 70.5,158.7" fill="#b81c0c" stroke="#1a1a1a" stroke-width="0.8" stroke-linejoin="round" />
<polygon points="67.9,155.6 67.8,154.4 67.6,153.0 67.2,151.7 66.6,150.4 66.0,149.1 65.2,147.9 64.4,146.9 63.4,145.9 62.4,145.1 61.4,144.5 60.4,144.1 59.4,143.9 58.5,143.9 57.6,144.2 56.9,144.6 56.2,145.2 55.7,146.0 55.3,146.9 55.0,148.0 55.0,149.2 55.0,150.5 55.3,151.8 55.7,153.2 56.2,154.5 56.9,155.7 57.6,156.9 58.5,158.0 59.4,158.9 60.4,159.7 61.4,160.3 62.4,160.7 63.4,160.9 64.4,160.9 65.2,160.7 66.0,160.3 66.6,159.7 67.2,158.9 67.6,157.9 67.8,156.8" fill="#ec2a16" stroke="#1a1a1a" stroke-width="0.8" stroke-linejoin="round" />
<polygon points="70.3,154.4 70.3,153.1 70.0,151.8 69.6,150.5 69.1,149.2 68.5,147.9 67.7,146.7 66.8,145.6 65.9,144.7 64.9,143.9 63.9,143.3 62.9,142.9 61.9,142.7 61.0,142.7 60.1,142.9 59.3,143.4 58.7,144.0 58.1,144.8 57.7,145.7 57.5,146.8 57.4,148.0 57.5,149.3 57.7,150.6 58.1,151.9 58.7,153.2 59.3,154.5 60.1,155.7 61.0,156.8 61.9,157.7 62.9,158.5 63.9,159.1 64.9,159.5 65.9,159.7 66.8,159.7 67.7,159.5 68.5,159.1 69.1,158.4 69.6,157.7 70.0,156.7 70.3,155.6" fill="none" stroke="#600c04" stroke-width="0.7" stroke-opacity="0.6"/>
</g>
<g transform="translate(0.00,0.00)">
<polygon points="125.4,192.8 157.4,176.9 157.4,131.0 125.4,147.0" fill="#f3f3f3" stroke="#6a6a6a" stroke-width="0.8" stroke-linejoin="round" />
<polygon points="94.6,177.5 125.4,192.8 125.4,147.0 94.6,131.7" fill="#f3f3f3" stroke="#6a6a6a" stroke-width="0.8" stroke-linejoin="round" />
<polygon points="94.6,131.7 125.4,147.0 157.4,131.0 126.6,115.7" fill="#f3f3f3" stroke="#6a6a6a" stroke-width="0.8" stroke-linejoin="round" />
<polygon points="122.9,192.2 125.4,190.9 125.4,147.0 122.9,148.2" fill="#a2a6aa" stroke="#222222" stroke-width="0.8" stroke-linejoin="round" />
<polygon points="92.2,176.9 122.9,192.2 122.9,148.2 92.2,132.9" fill="#94989c" stroke="#222222" stroke-width="0.8" stroke-linejoin="round" />
<polygon points="92.2,132.9 122.9,148.2 125.4,147.0 94.6,131.7" fill="#afb3b7" stroke="#222222" stroke-width="0.8" stroke-linejoin="round" />
<polygon points="122.9,148.2 156.8,131.3 156.8,125.0 122.9,141.8" fill="#9ca0a4" stroke="#222222" stroke-width="0.8" stroke-linejoin="round" />
<polygon points="92.2,132.9 122.9,148.2 122.9,141.8 92.2,126.5" fill="#7d8185" stroke="#222222" stroke-width="0.8" stroke-linejoin="round" />
<polygon points="92.2,126.5 122.9,141.8 156.8,125.0 126.0,109.7" fill="#afb3b7" stroke="#222222" stroke-width="0.8" stroke-linejoin="round" />
<polygon points="114.5,121.2 114.7,120.2 115.1,119.2 115.9,118.2 117.0,117.4 118.3,116.6 119.9,115.9 121.6,115.4 123.5,115.0 125.5,114.8 127.5,114.7 129.6,114.8 131.6,115.0 133.5,115.4 135.2,115.9 136.8,116.6 138.1,117.4 139.2,118.2 139.9,119.2 140.4,120.2 140.6,121.2 140.6,124.2 140.4,125.2 139.9,126.2 139.2,127.1 138.1,128.0 136.8,128.8 135.2,129.4 133.5,130.0 131.6,130.4 129.6,130.6 127.5,130.7 125.5,130.6 123.5,130.4 121.6,130.0 119.9,129.4 118.3,128.8 117.0,128.0 115.9,127.1 115.1,126.2 114.7,125.2 114.5,124.2" fill="#d9d9d9" stroke="#222222" stroke-width="0.8" stroke-linejoin="round" />
<polygon points="136.8,125.8 138.1,125.0 139.2,124.1 139.9,123.2 140.4,122.2 140.6,121.2 140.4,120.2 139.9,119.2 139.2,118.2 138.1,117.4 136.8,116.6 135.2,115.9 133.5,115.4 131.6,115.0 129.6,114.8 127.5,114.7 125.5,114.8 123.5,115.0 121.6,115.4 119.9,115.9 118.3,116.6 117.0,117.4 115.9,118.2 115.1,119.2 114.7,120.2 114.5,121.2 114.7,122.2 115.1,123.2 115.9,124.1 117.0,125.0 118.3,125.8 119.9,126.4 121.6,127.0 123.5,127.4 125.5,127.6 127.5,127.7 129.6,127.6 131.6,127.4 133.5,127.0 135.2,126.4" fill="#f3f3f3" stroke="#222222" stroke-width="0.8" stroke-linejoin="round" />
<polygon points="112.5,191.7 123.8,186.1 123.8,148.5 112.5,154.1" fill="#e8c935" stroke="#222222" stroke-width="0.8" stroke-linejoin="round" />
<polygon points="81.7,176.4 112.5,191.7 112.5,154.1 81.7,138.8" fill="#c8ab30" stroke="#222222" stroke-width="0.8" stroke-linejoin="round" />
<polygon points="81.7,138.8 112.5,154.1 123.8,148.5 93.1,133.2" fill="#fcdb36" stroke="#222222" stroke-width="0.8" stroke-linejoin="round" />
<polygon points="81.7,163.8 81.8,162.0 82.2,160.5 82.7,159.1 83.5,158.0 84.4,157.1 85.5,156.5 91.7,153.5 92.9,153.1 94.2,153.1 95.7,153.4 97.1,154.0 98.5,154.9 99.9,156.0 101.3,157.3 102.5,158.9 103.6,160.6 104.6,162.4 105.3,164.3 105.9,166.2 106.2,168.1 106.3,169.9 106.2,171.6 105.9,173.1 105.3,174.5 104.6,175.6 103.6,176.5 102.5,177.1 96.4,180.2 95.1,180.5 93.8,180.5 92.4,180.2 90.9,179.6 89.5,178.8 88.1,177.7 86.8,176.3 85.5,174.8 84.4,173.1 83.5,171.3 82.7,169.4 82.2,167.5 81.8,165.6" fill="#fee84a" stroke="#222222" stroke-width="0.8" stroke-linejoin="round" />
<polygon points="100.2,172.9 100.1,171.1 99.7,169.2 99.2,167.3 98.4,165.4 97.5,163.6 96.4,161.9 95.1,160.4 93.8,159.0 92.4,157.9 90.9,157.1 89.5,156.5 88.1,156.2 86.8,156.2 85.5,156.5 84.4,157.1 83.5,158.0 82.7,159.1 82.2,160.5 81.8,162.0 81.7,163.8 81.8,165.6 82.2,167.5 82.7,169.4 83.5,171.3 84.4,173.1 85.5,174.8 86.8,176.3 88.1,177.7 89.5,178.8 90.9,179.6 92.4,180.2 93.8,180.5 95.1,180.5 96.4,180.2 97.5,179.6 98.4,178.7 99.2,177.6 99.7,176.2 100.1,174.6" fill="#d0b334" stroke="#222222" stroke-width="0.8" stroke-linejoin="round" />
</g>
<g transform="translate(0.00,0.00)">
<polygon points="165.4,203.5 190.6,191.0 190.6,145.9 165.4,158.4" fill="#ec8414" stroke="#222222" stroke-width="0.8" stroke-linejoin="round" />
<polygon points="134.6,188.2 165.4,203.5 165.4,158.4 134.6,143.1" fill="#e07a10" stroke="#222222" stroke-width="0.8" stroke-linejoin="round" />
<polygon points="134.6,143.1 165.4,158.4 190.6,145.9 159.8,130.6" fill="#f8921c" stroke="#222222" stroke-width="0.8" stroke-linejoin="round" />
<polygon points="146.8,138.3 146.9,137.3 147.4,136.3 148.2,135.4 149.3,134.5 150.6,133.8 152.2,133.1 153.9,132.6 155.8,132.2 157.8,131.9 159.8,131.9 161.9,131.9 163.9,132.2 165.7,132.6 167.5,133.1 169.1,133.8 170.4,134.5 171.4,135.4 172.2,136.3 172.7,137.3 172.9,138.3 172.9,145.9 172.7,146.9 172.2,147.9 171.4,148.8 170.4,149.7 169.1,150.5 167.5,151.1 165.7,151.7 163.9,152.0 161.9,152.3 159.8,152.4 157.8,152.3 155.8,152.0 153.9,151.7 152.2,151.1 150.6,150.5 149.3,149.7 148.2,148.8 147.4,147.9 146.9,146.9 146.8,145.9" fill="#e8820f" stroke="#222222" stroke-width="0.8" stroke-linejoin="round" />
<polygon points="169.1,142.9 170.4,142.2 171.4,141.3 172.2,140.4 172.7,139.4 172.9,138.4 172.7,137.3 172.2,136.3 171.4,135.4 170.4,134.5 169.1,133.8 167.5,133.1 165.7,132.6 163.9,132.2 161.9,131.9 159.8,131.9 157.8,131.9 155.8,132.2 153.9,132.6 152.2,133.1 150.6,133.8 149.3,134.5 148.2,135.4 147.4,136.3 146.9,137.3 146.8,138.4 146.9,139.4 147.4,140.4 148.2,141.3 149.3,142.2 150.6,142.9 152.2,143.6 153.9,144.1 155.8,144.5 157.8,144.8 159.8,144.8 161.9,144.8 163.9,144.5 165.7,144.1 167.5,143.6" fill="#f7961f" stroke="#222222" stroke-width="0.8" stroke-linejoin="round" />
<polygon points="153.1,202.1 165.4,196.0 165.4,158.4 153.1,164.5" fill="#e8c935" stroke="#222222" stroke-width="0.8" stroke-linejoin="round" />
<polygon points="122.3,186.8 153.1,202.1 153.1,164.5 122.3,149.2" fill="#c8ab30" stroke="#222222" stroke-width="0.8" stroke-linejoin="round" />
<polygon points="122.3,149.2 153.1,164.5 165.4,158.4 134.6,143.1" fill="#fcdb36" stroke="#222222" stroke-width="0.8" stroke-linejoin="round" />
<polygon points="141.4,207.9 153.1,202.1 153.1,164.5 141.4,170.3" fill="#e8c935" stroke="#222222" stroke-width="0.8" stroke-linejoin="round" />
<polygon points="110.6,192.6 141.4,207.9 141.4,170.3 110.6,155.0" fill="#c8ab30" stroke="#222222" stroke-width="0.8" stroke-linejoin="round" />
<polygon points="110.6,155.0 141.4,170.3 153.1,164.5 122.3,149.2" fill="#fcdb36" stroke="#222222" stroke-width="0.8" stroke-linejoin="round" />
<polygon points="110.6,180.0 110.7,178.3 111.1,176.7 111.6,175.3 112.4,174.2 113.3,173.3 114.4,172.7 120.6,169.7 121.8,169.4 123.1,169.4 124.6,169.6 126.0,170.2 127.4,171.1 128.9,172.2 130.2,173.5 131.4,175.1 132.5,176.8 133.5,178.6 134.2,180.5 134.8,182.4 135.1,184.3 135.2,186.1 135.1,187.8 134.8,189.4 134.2,190.7 133.5,191.8 132.5,192.7 131.4,193.3 125.3,196.4 124.0,196.7 122.7,196.7 121.3,196.4 119.8,195.8 118.4,195.0 117.0,193.9 115.7,192.5 114.4,191.0 113.3,189.3 112.4,187.5 111.6,185.6 111.1,183.7 110.7,181.8" fill="#fee84a" stroke="#222222" stroke-width="0.8" stroke-linejoin="round" />
<polygon points="129.1,189.2 129.0,187.3 128.6,185.4 128.1,183.5 127.3,181.6 126.4,179.8 125.3,178.1 124.0,176.6 122.7,175.3 121.3,174.1 119.9,173.3 118.4,172.7 117.0,172.4 115.7,172.4 114.4,172.7 113.3,173.3 112.4,174.2 111.6,175.3 111.1,176.7 110.7,178.3 110.6,180.0 110.7,181.8 111.1,183.7 111.6,185.6 112.4,187.5 113.3,189.3 114.4,191.0 115.7,192.5 117.0,193.9 118.4,195.0 119.9,195.8 121.3,196.4 122.7,196.7 124.0,196.7 125.3,196.4 126.4,195.8 127.3,194.9 128.1,193.8 128.6,192.4 129.0,190.9" fill="#d0b334" stroke="#222222" stroke-width="0.8" stroke-linejoin="round" />
</g>
<g transform="translate(0.00,0.00)">
<polygon points="171.5,231.1 203.5,215.2 203.5,169.3 171.5,185.2" fill="#f3f3f3" stroke="#6a6a6a" stroke-width="0.8" stroke-linejoin="round" />
<polygon points="140.8,215.8 171.5,231.1 171.5,185.2 140.8,169.9" fill="#f3f3f3" stroke="#6a6a6a" stroke-width="0.8" stroke-linejoin="round" />
<polygon points="140.8,169.9 171.5,185.2 203.5,169.3 172.7,154.0" fill="#f3f3f3" stroke="#6a6a6a" stroke-width="0.8" stroke-linejoin="round" />
<polygon points="169.1,186.4 202.9,169.6 202.9,163.2 169.1,180.0" fill="#9ca0a4" stroke="#222222" stroke-width="0.8" stroke-linejoin="round" />
<polygon points="138.3,171.1 169.1,186.4 169.1,180.0 138.3,164.7" fill="#94989c" stroke="#222222" stroke-width="0.8" stroke-linejoin="round" />
<polygon points="138.3,164.7 169.1,180.0 202.9,163.2 172.1,147.9" fill="#afb3b7" stroke="#222222" stroke-width="0.8" stroke-linejoin="round" />
<polygon points="169.1,230.4 171.5,229.2 171.5,178.8 169.1,180.0" fill="#a2a6aa" stroke="#222222" stroke-width="0.8" stroke-linejoin="round" />
<polygon points="138.3,215.1 169.1,230.4 169.1,180.0 138.3,164.7" fill="#94989c" stroke="#222222" stroke-width="0.8" stroke-linejoin="round" />
<polygon points="138.3,164.7 169.1,180.0 202.9,163.2 172.1,147.9" fill="#afb3b7" stroke="#222222" stroke-width="0.8" stroke-linejoin="round" />
<polygon points="160.6,159.4 160.8,158.4 161.3,157.4 162.0,156.5 163.1,155.6 164.4,154.8 166.0,154.2 167.7,153.6 169.6,153.3 171.6,153.0 173.7,152.9 175.7,153.0 177.7,153.3 179.6,153.6 181.3,154.2 182.9,154.8 184.2,155.6 185.3,156.5 186.1,157.4 186.5,158.4 186.7,159.4 186.7,162.4 186.5,163.5 186.1,164.4 185.3,165.4 184.2,166.3 182.9,167.0 181.3,167.7 179.6,168.2 177.7,168.6 175.7,168.9 173.7,168.9 171.6,168.9 169.6,168.6 167.7,168.2 166.0,167.7 164.4,167.0 163.1,166.3 162.0,165.4 161.3,164.4 160.8,163.5 160.6,162.4" fill="#d9d9d9" stroke="#222222" stroke-width="0.8" stroke-linejoin="round" />
<polygon points="182.9,164.0 184.2,163.2 185.3,162.4 186.1,161.4 186.5,160.4 186.7,159.4 186.5,158.4 186.1,157.4 185.3,156.5 184.2,155.6 182.9,154.8 181.3,154.2 179.6,153.6 177.7,153.3 175.7,153.0 173.7,152.9 171.6,153.0 169.6,153.3 167.7,153.6 166.0,154.2 164.4,154.8 163.1,155.6 162.0,156.5 161.3,157.4 160.8,158.4 160.6,159.4 160.8,160.4 161.3,161.4 162.0,162.4 163.1,163.2 164.4,164.0 166.0,164.7 167.7,165.2 169.6,165.6 171.6,165.8 173.7,165.9 175.7,165.8 177.7,165.6 179.6,165.2 181.3,164.7" fill="#f3f3f3" stroke="#222222" stroke-width="0.8" stroke-linejoin="round" />
<polygon points="139.2,195.6 139.3,193.9 139.7,192.3 140.2,191.0 141.0,189.8 141.9,189.0 143.0,188.4 149.2,185.3 150.4,185.0 151.7,185.0 153.2,185.3 154.6,185.8 156.0,186.7 157.4,187.8 158.8,189.2 160.0,190.7 161.1,192.4 162.1,194.2 162.8,196.1 163.4,198.0 163.7,199.9 163.8,201.7 163.7,203.4 163.4,205.0 162.8,206.3 162.1,207.5 161.1,208.3 160.0,208.9 153.9,212.0 152.6,212.3 151.3,212.3 149.9,212.0 148.4,211.5 147.0,210.6 145.6,209.5 144.3,208.1 143.0,206.6 141.9,204.9 141.0,203.1 140.2,201.2 139.7,199.3 139.3,197.4" fill="#d8dadc" stroke="#1a1a1a" stroke-width="0.8" stroke-linejoin="round" />
<polygon points="157.7,204.8 157.6,202.9 157.2,201.1 156.7,199.1 155.9,197.3 155.0,195.4 153.9,193.8 152.6,192.2 151.3,190.9 149.9,189.8 148.4,188.9 147.0,188.3 145.6,188.0 144.3,188.0 143.0,188.4 141.9,189.0 141.0,189.8 140.2,191.0 139.7,192.3 139.3,193.9 139.2,195.6 139.3,197.4 139.7,199.3 140.2,201.2 141.0,203.1 141.9,204.9 143.0,206.6 144.3,208.1 145.6,209.5 147.0,210.6 148.4,211.5 149.9,212.0 151.3,212.3 152.6,212.3 153.9,212.0 155.0,211.4 155.9,210.5 156.7,209.4 157.2,208.0 157.6,206.5" fill="#a0a4a8" stroke="#1a1a1a" stroke-width="0.8" stroke-linejoin="round" />
<polygon points="154.9,203.4 154.8,202.1 154.6,200.8 154.2,199.5 153.7,198.1 153.0,196.9 152.2,195.7 151.4,194.6 150.4,193.7 149.5,192.9 148.4,192.3 147.4,191.9 146.5,191.7 145.5,191.7 144.7,191.9 143.9,192.3 143.2,192.9 142.7,193.7 142.3,194.7 142.1,195.8 142.0,197.0 142.1,198.2 142.3,199.6 142.7,200.9 143.2,202.2 143.9,203.5 144.7,204.7 145.5,205.8 146.5,206.7 147.4,207.5 148.4,208.1 149.5,208.5 150.4,208.7 151.4,208.7 152.2,208.5 153.0,208.0 153.7,207.4 154.2,206.6 154.6,205.7 154.8,204.6" fill="#e4e4e4" stroke="#1a1a1a" stroke-width="0.8" stroke-linejoin="round" />
<polygon points="157.4,202.2 157.3,200.9 157.0,199.6 156.7,198.2 156.1,196.9 155.5,195.6 154.7,194.5 153.8,193.4 152.9,192.4 151.9,191.7 150.9,191.1 149.9,190.7 148.9,190.5 148.0,190.5 147.1,190.7 146.3,191.1 145.7,191.7 145.2,192.5 144.8,193.5 144.5,194.5 144.4,195.7 144.5,197.0 144.8,198.3 145.2,199.7 145.7,201.0 146.3,202.3 147.1,203.5 148.0,204.5 148.9,205.5 149.9,206.3 150.9,206.9 151.9,207.3 152.9,207.5 153.8,207.4 154.7,207.2 155.5,206.8 156.1,206.2 156.7,205.4 157.0,204.5 157.3,203.4" fill="none" stroke="#303436" stroke-width="0.7" stroke-opacity="0.6"/>
</g>
<g transform="translate(0.00,0.00)">
<polygon points="211.2,241.9 236.7,229.2 236.7,184.1 211.2,196.8" fill="#ec8414" stroke="#222222" stroke-width="0.8" stroke-linejoin="round" />
<polygon points="180.4,226.6 211.2,241.9 211.2,196.8 180.4,181.5" fill="#e07a10" stroke="#222222" stroke-width="0.8" stroke-linejoin="round" />
<polygon points="180.4,181.5 211.2,196.8 236.7,184.1 205.9,168.8" fill="#f8921c" stroke="#222222" stroke-width="0.8" stroke-linejoin="round" />
<polygon points="192.9,176.6 193.1,175.6 193.5,174.6 194.3,173.7 195.4,172.8 196.7,172.0 198.3,171.3 200.0,170.8 201.9,170.4 203.9,170.2 205.9,170.1 208.0,170.2 210.0,170.4 211.9,170.8 213.6,171.3 215.2,172.0 216.5,172.8 217.6,173.7 218.4,174.6 218.8,175.6 219.0,176.6 219.0,184.1 218.8,185.1 218.4,186.1 217.6,187.1 216.5,187.9 215.2,188.7 213.6,189.4 211.9,189.9 210.0,190.3 208.0,190.5 205.9,190.6 203.9,190.5 201.9,190.3 200.0,189.9 198.3,189.4 196.7,188.7 195.4,187.9 194.3,187.1 193.5,186.1 193.1,185.1 192.9,184.1" fill="#e8820f" stroke="#222222" stroke-width="0.8" stroke-linejoin="round" />
<polygon points="215.2,181.2 216.5,180.4 217.6,179.5 218.4,178.6 218.8,177.6 219.0,176.6 218.8,175.6 218.4,174.6 217.6,173.7 216.5,172.8 215.2,172.0 213.6,171.3 211.9,170.8 210.0,170.4 208.0,170.2 205.9,170.1 203.9,170.2 201.9,170.4 200.0,170.8 198.3,171.3 196.7,172.0 195.4,172.8 194.3,173.7 193.5,174.6 193.1,175.6 192.9,176.6 193.1,177.6 193.5,178.6 194.3,179.5 195.4,180.4 196.7,181.2 198.3,181.9 200.0,182.4 201.9,182.8 203.9,183.0 205.9,183.1 208.0,183.0 210.0,182.8 211.9,182.4 213.6,181.9" fill="#f7961f" stroke="#222222" stroke-width="0.8" stroke-linejoin="round" />
<polygon points="199.5,240.2 211.2,234.4 211.2,196.8 199.5,202.6" fill="#e8c935" stroke="#222222" stroke-width="0.8" stroke-linejoin="round" />
<polygon points="168.7,224.9 199.5,240.2 199.5,202.6 168.7,187.3" fill="#c8ab30" stroke="#222222" stroke-width="0.8" stroke-linejoin="round" />
<polygon points="168.7,187.3 199.5,202.6 211.2,196.8 180.4,181.5" fill="#fcdb36" stroke="#222222" stroke-width="0.8" stroke-linejoin="round" />
<polygon points="168.7,212.3 168.9,210.5 169.2,209.0 169.7,207.6 170.5,206.5 171.4,205.6 172.5,205.0 178.7,202.0 179.9,201.6 181.3,201.6 182.7,201.9 184.1,202.5 185.6,203.4 187.0,204.5 188.3,205.8 189.5,207.4 190.6,209.1 191.6,210.9 192.3,212.8 192.9,214.7 193.2,216.6 193.3,218.4 193.2,220.1 192.9,221.6 192.3,223.0 191.6,224.1 190.6,225.0 189.5,225.6 183.4,228.7 182.2,229.0 180.8,229.0 179.4,228.7 178.0,228.1 176.5,227.3 175.1,226.2 173.8,224.8 172.5,223.3 171.4,221.6 170.5,219.8 169.7,217.9 169.2,216.0 168.9,214.1" fill="#fee84a" stroke="#222222" stroke-width="0.8" stroke-linejoin="round" />
<polygon points="187.2,221.4 187.1,219.6 186.7,217.7 186.2,215.8 185.4,213.9 184.5,212.1 183.4,210.4 182.2,208.9 180.8,207.5 179.4,206.4 178.0,205.6 176.5,205.0 175.1,204.7 173.8,204.7 172.5,205.0 171.4,205.6 170.5,206.5 169.7,207.6 169.2,209.0 168.9,210.5 168.7,212.3 168.9,214.1 169.2,216.0 169.7,217.9 170.5,219.8 171.4,221.6 172.5,223.3 173.8,224.8 175.1,226.2 176.5,227.3 178.0,228.1 179.4,228.7 180.8,229.0 182.2,229.0 183.4,228.7 184.5,228.1 185.4,227.2 186.2,226.1 186.7,224.7 187.1,223.1" fill="#d0b334" stroke="#222222" stroke-width="0.8" stroke-linejoin="round" />
</g>
<g transform="translate(0.00,0.00)">
<polygon points="279.4,238.6 311.1,222.8 311.1,176.9 279.4,192.7" fill="#f3f3f3" stroke="#6a6a6a" stroke-width="0.8" stroke-linejoin="round" />
<polygon points="248.7,223.3 279.4,238.6 279.4,192.7 248.7,177.4" fill="#f3f3f3" stroke="#6a6a6a" stroke-width="0.8" stroke-linejoin="round" />
<polygon points="248.7,177.4 279.4,192.7 311.1,176.9 280.4,161.6" fill="#f3f3f3" stroke="#6a6a6a" stroke-width="0.8" stroke-linejoin="round" />
<polygon points="277.0,237.9 279.4,236.7 279.4,192.7 277.0,193.9" fill="#a2a6aa" stroke="#222222" stroke-width="0.8" stroke-linejoin="round" />
<polygon points="246.2,222.6 277.0,237.9 277.0,193.9 246.2,178.6" fill="#94989c" stroke="#222222" stroke-width="0.8" stroke-linejoin="round" />
<polygon points="246.2,178.6 277.0,193.9 279.4,192.7 248.7,177.4" fill="#afb3b7" stroke="#222222" stroke-width="0.8" stroke-linejoin="round" />
<polygon points="277.0,193.9 310.5,177.2 310.5,170.9 277.0,187.5" fill="#9ca0a4" stroke="#222222" stroke-width="0.8" stroke-linejoin="round" />
<polygon points="246.2,178.6 277.0,193.9 277.0,187.5 246.2,172.2" fill="#7d8185" stroke="#222222" stroke-width="0.8" stroke-linejoin="round" />
<polygon points="246.2,172.2 277.0,187.5 310.5,170.9 279.8,155.6" fill="#afb3b7" stroke="#222222" stroke-width="0.8" stroke-linejoin="round" />
<polygon points="268.2,167.1 268.4,166.1 268.9,165.1 269.7,164.1 270.7,163.3 272.1,162.5 273.6,161.8 275.4,161.3 277.3,160.9 279.2,160.7 281.3,160.6 283.3,160.7 285.3,160.9 287.2,161.3 289.0,161.8 290.5,162.5 291.8,163.3 292.9,164.1 293.7,165.1 294.2,166.1 294.3,167.1 294.3,170.1 294.2,171.1 293.7,172.1 292.9,173.0 291.8,173.9 290.5,174.7 289.0,175.3 287.2,175.9 285.3,176.3 283.3,176.5 281.3,176.6 279.2,176.5 277.3,176.3 275.4,175.9 273.6,175.3 272.1,174.7 270.7,173.9 269.7,173.0 268.9,172.1 268.4,171.1 268.2,170.1" fill="#d9d9d9" stroke="#222222" stroke-width="0.8" stroke-linejoin="round" />
<polygon points="290.5,171.7 291.8,170.9 292.9,170.0 293.7,169.1 294.2,168.1 294.3,167.1 294.2,166.1 293.7,165.1 292.9,164.1 291.8,163.3 290.5,162.5 289.0,161.8 287.2,161.3 285.3,160.9 283.3,160.7 281.3,160.6 279.2,160.7 277.3,160.9 275.4,161.3 273.6,161.8 272.1,162.5 270.7,163.3 269.7,164.1 268.9,165.1 268.4,166.1 268.2,167.1 268.4,168.1 268.9,169.1 269.7,170.0 270.7,170.9 272.1,171.7 273.6,172.3 275.4,172.9 277.3,173.3 279.2,173.5 281.3,173.6 283.3,173.5 285.3,173.3 287.2,172.9 289.0,172.3" fill="#f3f3f3" stroke="#222222" stroke-width="0.8" stroke-linejoin="round" />
<polygon points="253.0,251.7 277.9,239.3 277.9,194.2 253.0,206.6" fill="#ec8414" stroke="#222222" stroke-width="0.8" stroke-linejoin="round" />
<polygon points="222.2,236.4 253.0,251.7 253.0,206.6 222.2,191.3" fill="#e07a10" stroke="#222222" stroke-width="0.8" stroke-linejoin="round" />
<polygon points="222.2,191.3 253.0,206.6 277.9,194.2 247.2,178.9" fill="#f8921c" stroke="#222222" stroke-width="0.8" stroke-linejoin="round" />
<polygon points="234.1,186.7 234.3,185.7 234.7,184.7 235.5,183.8 236.6,182.9 237.9,182.1 239.5,181.4 241.2,180.9 243.1,180.5 245.1,180.3 247.2,180.2 249.2,180.3 251.2,180.5 253.1,180.9 254.8,181.4 256.4,182.1 257.7,182.9 258.8,183.8 259.6,184.7 260.0,185.7 260.2,186.7 260.2,194.2 260.0,195.2 259.6,196.2 258.8,197.2 257.7,198.0 256.4,198.8 254.8,199.5 253.1,200.0 251.2,200.4 249.2,200.6 247.2,200.7 245.1,200.6 243.1,200.4 241.2,200.0 239.5,199.5 237.9,198.8 236.6,198.0 235.5,197.2 234.7,196.2 234.3,195.2 234.1,194.2" fill="#e8820f" stroke="#222222" stroke-width="0.8" stroke-linejoin="round" />
<polygon points="256.4,191.3 257.7,190.5 258.8,189.6 259.6,188.7 260.0,187.7 260.2,186.7 260.0,185.7 259.6,184.7 258.8,183.8 257.7,182.9 256.4,182.1 254.8,181.4 253.1,180.9 251.2,180.5 249.2,180.3 247.2,180.2 245.1,180.3 243.1,180.5 241.2,180.9 239.5,181.4 237.9,182.1 236.6,182.9 235.5,183.8 234.7,184.7 234.3,185.7 234.1,186.7 234.3,187.7 234.7,188.7 235.5,189.6 236.6,190.5 237.9,191.3 239.5,191.9 241.2,192.5 243.1,192.9 245.1,193.1 247.2,193.2 249.2,193.1 251.2,192.9 253.1,192.5 254.8,191.9" fill="#f7961f" stroke="#222222" stroke-width="0.8" stroke-linejoin="round" />
<polygon points="240.7,250.3 253.0,244.2 253.0,206.6 240.7,212.7" fill="#e8c935" stroke="#222222" stroke-width="0.8" stroke-linejoin="round" />
<polygon points="209.9,235.0 240.7,250.3 240.7,212.7 209.9,197.4" fill="#c8ab30" stroke="#222222" stroke-width="0.8" stroke-linejoin="round" />
<polygon points="209.9,197.4 240.7,212.7 253.0,206.6 222.2,191.3" fill="#fcdb36" stroke="#222222" stroke-width="0.8" stroke-linejoin="round" />
<polygon points="228.7,256.3 240.7,250.3 240.7,212.7 228.7,218.7" fill="#e8c935" stroke="#222222" stroke-width="0.8" stroke-linejoin="round" />
<polygon points="198.0,241.0 228.7,256.3 228.7,218.7 198.0,203.4" fill="#c8ab30" stroke="#222222" stroke-width="0.8" stroke-linejoin="round" />
<polygon points="198.0,203.4 228.7,218.7 240.7,212.7 209.9,197.4" fill="#fcdb36" stroke="#222222" stroke-width="0.8" stroke-linejoin="round" />
<polygon points="198.0,228.3 198.1,226.6 198.4,225.1 199.0,223.7 199.7,222.6 200.7,221.7 201.8,221.1 207.9,218.0 209.1,217.7 210.5,217.7 211.9,218.0 213.3,218.6 214.8,219.4 216.2,220.5 217.5,221.9 218.8,223.4 219.9,225.1 220.8,226.9 221.6,228.8 222.1,230.7 222.4,232.6 222.6,234.4 222.4,236.1 222.1,237.7 221.6,239.1 220.8,240.2 219.9,241.1 218.8,241.7 212.6,244.7 211.4,245.0 210.0,245.1 208.6,244.8 207.2,244.2 205.7,243.3 204.3,242.2 203.0,240.9 201.8,239.3 200.7,237.6 199.7,235.8 199.0,233.9 198.4,232.0 198.1,230.1" fill="#fee84a" stroke="#222222" stroke-width="0.8" stroke-linejoin="round" />
<polygon points="216.4,237.5 216.3,235.7 216.0,233.8 215.4,231.9 214.6,230.0 213.7,228.2 212.6,226.5 211.4,224.9 210.0,223.6 208.6,222.5 207.2,221.6 205.7,221.0 204.3,220.8 203.0,220.8 201.8,221.1 200.7,221.7 199.7,222.6 199.0,223.7 198.4,225.1 198.1,226.6 198.0,228.3 198.1,230.1 198.4,232.0 199.0,233.9 199.7,235.8 200.7,237.6 201.8,239.3 203.0,240.9 204.3,242.2 205.7,243.3 207.2,244.2 208.6,244.8 210.0,245.1 211.4,245.0 212.6,244.7 213.7,244.1 214.6,243.3 215.4,242.1 216.0,240.8 216.3,239.2" fill="#d0b334" stroke="#222222" stroke-width="0.8" stroke-linejoin="round" />
</g>
<g transform="translate(-1.50,-1.50)">
<polygon points="282.8,267.5 313.6,252.2 313.6,207.1 282.8,222.4" fill="#dc220e" stroke="#222222" stroke-width="0.8" stroke-linejoin="round" />
<polygon points="252.1,252.2 282.8,267.5 282.8,222.4 252.1,207.1" fill="#ab1909" stroke="#222222" stroke-width="0.8" stroke-linejoin="round" />
<polygon points="252.1,207.1 282.8,222.4 313.6,207.1 282.8,191.8" fill="#e4230f" stroke="#222222" stroke-width="0.8" stroke-linejoin="round" />
<polygon points="269.8,199.6 269.9,198.5 270.4,197.5 271.2,196.6 272.3,195.7 273.6,195.0 275.2,194.3 276.9,193.8 278.8,193.4 280.8,193.1 282.8,193.1 284.9,193.1 286.9,193.4 288.7,193.8 290.5,194.3 292.1,195.0 293.4,195.7 294.4,196.6 295.2,197.5 295.7,198.5 295.9,199.6 295.9,207.1 295.7,208.1 295.2,209.1 294.4,210.0 293.4,210.9 292.1,211.7 290.5,212.3 288.7,212.9 286.9,213.2 284.9,213.5 282.8,213.6 280.8,213.5 278.8,213.2 276.9,212.9 275.2,212.3 273.6,211.7 272.3,210.9 271.2,210.0 270.4,209.1 269.9,208.1 269.8,207.1" fill="#c81e0c" stroke="#222222" stroke-width="0.8" stroke-linejoin="round" />
<polygon points="292.1,204.1 293.4,203.4 294.4,202.5 295.2,201.6 295.7,200.6 295.9,199.6 295.7,198.5 295.2,197.5 294.4,196.6 293.4,195.7 292.1,195.0 290.5,194.3 288.7,193.8 286.9,193.4 284.9,193.1 282.8,193.1 280.8,193.1 278.8,193.4 276.9,193.8 275.2,194.3 273.6,195.0 272.3,195.7 271.2,196.6 270.4,197.5 269.9,198.5 269.8,199.6 269.9,200.6 270.4,201.6 271.2,202.5 272.3,203.4 273.6,204.1 275.2,204.8 276.9,205.3 278.8,205.7 280.8,206.0 282.8,206.0 284.9,206.0 286.9,205.7 288.7,205.3 290.5,204.8" fill="#e42812" stroke="#222222" stroke-width="0.8" stroke-linejoin="round" />
<polygon points="269.9,266.4 282.8,260.0 282.8,222.4 269.9,228.8" fill="#e8c935" stroke="#222222" stroke-width="0.8" stroke-linejoin="round" />
<polygon points="239.2,251.1 269.9,266.4 269.9,228.8 239.2,213.5" fill="#c8ab30" stroke="#222222" stroke-width="0.8" stroke-linejoin="round" />
<polygon points="239.2,213.5 269.9,228.8 282.8,222.4 252.1,207.1" fill="#fcdb36" stroke="#222222" stroke-width="0.8" stroke-linejoin="round" />
<polygon points="257.9,272.4 269.9,266.4 269.9,228.8 257.9,234.8" fill="#e8c935" stroke="#222222" stroke-width="0.8" stroke-linejoin="round" />
<polygon points="227.2,257.1 257.9,272.4 257.9,234.8 227.2,219.5" fill="#c8ab30" stroke="#222222" stroke-width="0.8" stroke-linejoin="round" />
<polygon points="227.2,219.5 257.9,234.8 269.9,228.8 239.2,213.5" fill="#fcdb36" stroke="#222222" stroke-width="0.8" stroke-linejoin="round" />
<polygon points="227.2,244.4 227.3,242.7 227.6,241.1 228.2,239.8 228.9,238.6 229.9,237.8 231.0,237.1 237.1,234.1 238.4,233.8 239.7,233.8 241.1,234.1 242.5,234.6 244.0,235.5 245.4,236.6 246.7,237.9 248.0,239.5 249.1,241.2 250.0,243.0 250.8,244.9 251.3,246.8 251.7,248.7 251.8,250.5 251.7,252.2 251.3,253.8 250.8,255.1 250.0,256.3 249.1,257.1 248.0,257.7 241.8,260.8 240.6,261.1 239.2,261.1 237.8,260.8 236.4,260.3 234.9,259.4 233.5,258.3 232.2,256.9 231.0,255.4 229.9,253.7 228.9,251.9 228.2,250.0 227.6,248.1 227.3,246.2" fill="#fee84a" stroke="#222222" stroke-width="0.8" stroke-linejoin="round" />
<polygon points="245.6,253.6 245.5,251.7 245.2,249.9 244.6,247.9 243.9,246.1 242.9,244.2 241.8,242.5 240.6,241.0 239.2,239.7 237.8,238.5 236.4,237.7 234.9,237.1 233.5,236.8 232.2,236.8 231.0,237.1 229.9,237.8 228.9,238.6 228.2,239.8 227.6,241.1 227.3,242.7 227.2,244.4 227.3,246.2 227.6,248.1 228.2,250.0 228.9,251.9 229.9,253.7 231.0,255.4 232.2,256.9 233.5,258.3 234.9,259.4 236.4,260.3 237.8,260.8 239.2,261.1 240.6,261.1 241.8,260.8 242.9,260.2 243.9,259.3 244.6,258.2 245.2,256.8 245.5,255.3" fill="#d0b334" stroke="#222222" stroke-width="0.8" stroke-linejoin="round" />
</g>
<g transform="translate(-2.00,-1.50)">
<polygon points="325.9,276.7 357.2,261.1 357.2,215.2 325.9,230.8" fill="#f3f3f3" stroke="#6a6a6a" stroke-width="0.8" stroke-linejoin="round" />
<polygon points="295.1,261.4 325.9,276.7 325.9,230.8 295.1,215.5" fill="#f3f3f3" stroke="#6a6a6a" stroke-width="0.8" stroke-linejoin="round" />
<polygon points="295.1,215.5 325.9,230.8 357.2,215.2 326.5,199.9" fill="#f3f3f3" stroke="#6a6a6a" stroke-width="0.8" stroke-linejoin="round" />
<polygon points="323.4,276.0 325.9,274.8 325.9,230.8 323.4,232.0" fill="#a2a6aa" stroke="#222222" stroke-width="0.8" stroke-linejoin="round" />
<polygon points="292.7,260.7 323.4,276.0 323.4,232.0 292.7,216.7" fill="#94989c" stroke="#222222" stroke-width="0.8" stroke-linejoin="round" />
<polygon points="292.7,216.7 323.4,232.0 325.9,230.8 295.1,215.5" fill="#afb3b7" stroke="#222222" stroke-width="0.8" stroke-linejoin="round" />
<polygon points="323.4,232.0 356.6,215.5 356.6,209.1 323.4,225.6" fill="#9ca0a4" stroke="#222222" stroke-width="0.8" stroke-linejoin="round" />
<polygon points="292.7,216.7 323.4,232.0 323.4,225.6 292.7,210.3" fill="#7d8185" stroke="#222222" stroke-width="0.8" stroke-linejoin="round" />
<polygon points="292.7,210.3 323.4,225.6 356.6,209.1 325.9,193.8" fill="#afb3b7" stroke="#222222" stroke-width="0.8" stroke-linejoin="round" />
<polygon points="314.4,205.3 314.5,204.3 315.0,203.3 315.8,202.4 316.9,201.5 318.2,200.7 319.7,200.1 321.5,199.5 323.4,199.2 325.4,198.9 327.4,198.8 329.5,198.9 331.4,199.2 333.3,199.5 335.1,200.1 336.6,200.7 338.0,201.5 339.0,202.4 339.8,203.3 340.3,204.3 340.5,205.3 340.5,208.3 340.3,209.4 339.8,210.3 339.0,211.3 338.0,212.2 336.6,212.9 335.1,213.6 333.3,214.1 331.4,214.5 329.5,214.8 327.4,214.8 325.4,214.8 323.4,214.5 321.5,214.1 319.7,213.6 318.2,212.9 316.9,212.2 315.8,211.3 315.0,210.3 314.5,209.4 314.4,208.3" fill="#d9d9d9" stroke="#222222" stroke-width="0.8" stroke-linejoin="round" />
<polygon points="336.6,209.9 338.0,209.1 339.0,208.3 339.8,207.3 340.3,206.3 340.5,205.3 340.3,204.3 339.8,203.3 339.0,202.4 338.0,201.5 336.6,200.7 335.1,200.1 333.3,199.5 331.4,199.2 329.5,198.9 327.4,198.8 325.4,198.9 323.4,199.2 321.5,199.5 319.7,200.1 318.2,200.7 316.9,201.5 315.8,202.4 315.0,203.3 314.5,204.3 314.4,205.3 314.5,206.3 315.0,207.3 315.8,208.3 316.9,209.1 318.2,209.9 319.7,210.6 321.5,211.1 323.4,211.5 325.4,211.7 327.4,211.8 329.5,211.7 331.4,211.5 333.3,211.1 335.1,210.6" fill="#f3f3f3" stroke="#222222" stroke-width="0.8" stroke-linejoin="round" />
<polygon points="299.7,289.7 324.3,277.4 324.3,232.3 299.7,244.6" fill="#ec8414" stroke="#222222" stroke-width="0.8" stroke-linejoin="round" />
<polygon points="269.0,274.4 299.7,289.7 299.7,244.6 269.0,229.3" fill="#e07a10" stroke="#222222" stroke-width="0.8" stroke-linejoin="round" />
<polygon points="269.0,229.3 299.7,244.6 324.3,232.3 293.6,217.0" fill="#f8921c" stroke="#222222" stroke-width="0.8" stroke-linejoin="round" />
<polygon points="280.5,224.8 280.7,223.8 281.2,222.8 282.0,221.8 283.0,221.0 284.4,220.2 285.9,219.5 287.7,219.0 289.6,218.6 291.5,218.4 293.6,218.3 295.6,218.4 297.6,218.6 299.5,219.0 301.3,219.5 302.8,220.2 304.1,221.0 305.2,221.8 306.0,222.8 306.5,223.8 306.6,224.8 306.6,232.3 306.5,233.3 306.0,234.3 305.2,235.3 304.1,236.1 302.8,236.9 301.3,237.6 299.5,238.1 297.6,238.5 295.6,238.7 293.6,238.8 291.5,238.7 289.6,238.5 287.7,238.1 285.9,237.6 284.4,236.9 283.0,236.1 282.0,235.3 281.2,234.3 280.7,233.3 280.5,232.3" fill="#e8820f" stroke="#222222" stroke-width="0.8" stroke-linejoin="round" />
<polygon points="302.8,229.4 304.1,228.6 305.2,227.7 306.0,226.8 306.5,225.8 306.6,224.8 306.5,223.8 306.0,222.8 305.2,221.8 304.1,221.0 302.8,220.2 301.3,219.5 299.5,219.0 297.6,218.6 295.6,218.4 293.6,218.3 291.5,218.4 289.6,218.6 287.7,219.0 285.9,219.5 284.4,220.2 283.0,221.0 282.0,221.8 281.2,222.8 280.7,223.8 280.5,224.8 280.7,225.8 281.2,226.8 282.0,227.7 283.0,228.6 284.4,229.4 285.9,230.0 287.7,230.6 289.6,231.0 291.5,231.2 293.6,231.3 295.6,231.2 297.6,231.0 299.5,230.6 301.3,230.0" fill="#f7961f" stroke="#222222" stroke-width="0.8" stroke-linejoin="round" />
<polygon points="287.4,288.3 299.7,282.2 299.7,244.6 287.4,250.7" fill="#e8c935" stroke="#222222" stroke-width="0.8" stroke-linejoin="round" />
<polygon points="256.7,273.0 287.4,288.3 287.4,250.7 256.7,235.4" fill="#c8ab30" stroke="#222222" stroke-width="0.8" stroke-linejoin="round" />
<polygon points="256.7,235.4 287.4,250.7 299.7,244.6 269.0,229.3" fill="#fcdb36" stroke="#222222" stroke-width="0.8" stroke-linejoin="round" />
<polygon points="256.7,260.3 256.8,258.6 257.1,257.0 257.7,255.7 258.4,254.5 259.4,253.7 260.5,253.1 266.6,250.0 267.9,249.7 269.2,249.7 270.6,250.0 272.1,250.5 273.5,251.4 274.9,252.5 276.3,253.9 277.5,255.4 278.6,257.1 279.5,258.9 280.3,260.8 280.8,262.7 281.2,264.6 281.3,266.4 281.2,268.1 280.8,269.7 280.3,271.0 279.5,272.2 278.6,273.0 277.5,273.6 271.3,276.7 270.1,277.0 268.8,277.0 267.4,276.7 265.9,276.2 264.5,275.3 263.1,274.2 261.7,272.9 260.5,271.3 259.4,269.6 258.4,267.8 257.7,265.9 257.1,264.0 256.8,262.1" fill="#fee84a" stroke="#222222" stroke-width="0.8" stroke-linejoin="round" />
<polygon points="275.1,269.5 275.0,267.7 274.7,265.8 274.1,263.9 273.4,262.0 272.4,260.2 271.3,258.5 270.1,256.9 268.8,255.6 267.4,254.5 265.9,253.6 264.5,253.0 263.1,252.7 261.7,252.8 260.5,253.1 259.4,253.7 258.4,254.5 257.7,255.7 257.1,257.0 256.8,258.6 256.7,260.3 256.8,262.1 257.1,264.0 257.7,265.9 258.4,267.8 259.4,269.6 260.5,271.3 261.7,272.9 263.1,274.2 264.5,275.3 265.9,276.2 267.4,276.7 268.8,277.0 270.1,277.0 271.3,276.7 272.4,276.1 273.4,275.2 274.1,274.1 274.7,272.7 275.0,271.2" fill="#d0b334" stroke="#222222" stroke-width="0.8" stroke-linejoin="round" />
</g>
<g transform="translate(-2.40,-1.60)">
<polygon points="328.9,305.7 359.7,290.4 359.7,245.3 328.9,260.6" fill="#dc220e" stroke="#222222" stroke-width="0.8" stroke-linejoin="round" />
<polygon points="298.2,290.4 328.9,305.7 328.9,260.6 298.2,245.3" fill="#ab1909" stroke="#222222" stroke-width="0.8" stroke-linejoin="round" />
<polygon points="298.2,245.3 328.9,260.6 359.7,245.3 328.9,230.0" fill="#e4230f" stroke="#222222" stroke-width="0.8" stroke-linejoin="round" />
<polygon points="315.9,237.8 316.1,236.8 316.5,235.8 317.3,234.9 318.4,234.0 319.7,233.2 321.3,232.5 323.0,232.0 324.9,231.6 326.9,231.4 328.9,231.3 331.0,231.4 333.0,231.6 334.9,232.0 336.6,232.5 338.2,233.2 339.5,234.0 340.6,234.9 341.4,235.8 341.8,236.8 342.0,237.8 342.0,245.3 341.8,246.3 341.4,247.3 340.6,248.3 339.5,249.1 338.2,249.9 336.6,250.6 334.9,251.1 333.0,251.5 331.0,251.7 328.9,251.8 326.9,251.7 324.9,251.5 323.0,251.1 321.3,250.6 319.7,249.9 318.4,249.1 317.3,248.3 316.5,247.3 316.1,246.3 315.9,245.3" fill="#c81e0c" stroke="#222222" stroke-width="0.8" stroke-linejoin="round" />
<polygon points="338.2,242.4 339.5,241.6 340.6,240.7 341.4,239.8 341.8,238.8 342.0,237.8 341.8,236.8 341.4,235.8 340.6,234.9 339.5,234.0 338.2,233.2 336.6,232.5 334.9,232.0 333.0,231.6 331.0,231.4 328.9,231.3 326.9,231.4 324.9,231.6 323.0,232.0 321.3,232.5 319.7,233.2 318.4,234.0 317.3,234.9 316.5,235.8 316.1,236.8 315.9,237.8 316.1,238.8 316.5,239.8 317.3,240.7 318.4,241.6 319.7,242.4 321.3,243.1 323.0,243.6 324.9,244.0 326.9,244.2 328.9,244.3 331.0,244.2 333.0,244.0 334.9,243.6 336.6,243.1" fill="#e42812" stroke="#222222" stroke-width="0.8" stroke-linejoin="round" />
<polygon points="316.6,304.3 328.9,298.2 328.9,260.6 316.6,266.7" fill="#e8c935" stroke="#222222" stroke-width="0.8" stroke-linejoin="round" />
<polygon points="285.9,289.0 316.6,304.3 316.6,266.7 285.9,251.4" fill="#c8ab30" stroke="#222222" stroke-width="0.8" stroke-linejoin="round" />
<polygon points="285.9,251.4 316.6,266.7 328.9,260.6 298.2,245.3" fill="#fcdb36" stroke="#222222" stroke-width="0.8" stroke-linejoin="round" />
<polygon points="285.9,276.4 286.0,274.7 286.4,273.1 286.9,271.7 287.7,270.6 288.6,269.7 289.7,269.1 295.9,266.1 297.1,265.8 298.4,265.7 299.8,266.0 301.3,266.6 302.7,267.5 304.1,268.6 305.5,269.9 306.7,271.5 307.8,273.2 308.7,275.0 309.5,276.9 310.0,278.8 310.4,280.7 310.5,282.5 310.4,284.2 310.0,285.7 309.5,287.1 308.7,288.2 307.8,289.1 306.7,289.7 300.5,292.8 299.3,293.1 298.0,293.1 296.6,292.8 295.1,292.2 293.7,291.4 292.3,290.3 290.9,288.9 289.7,287.4 288.6,285.7 287.7,283.9 286.9,282.0 286.4,280.1 286.0,278.2" fill="#fee84a" stroke="#222222" stroke-width="0.8" stroke-linejoin="round" />
<polygon points="304.4,285.5 304.2,283.7 303.9,281.8 303.3,279.9 302.6,278.0 301.6,276.2 300.5,274.5 299.3,273.0 298.0,271.6 296.6,270.5 295.1,269.7 293.7,269.1 292.3,268.8 290.9,268.8 289.7,269.1 288.6,269.7 287.7,270.6 286.9,271.7 286.4,273.1 286.0,274.7 285.9,276.4 286.0,278.2 286.4,280.1 286.9,282.0 287.7,283.9 288.6,285.7 289.7,287.4 290.9,288.9 292.3,290.3 293.7,291.4 295.1,292.2 296.6,292.8 298.0,293.1 299.3,293.1 300.5,292.8 301.6,292.2 302.6,291.3 303.3,290.2 303.9,288.8 304.2,287.2" fill="#d0b334" stroke="#222222" stroke-width="0.8" stroke-linejoin="round" />
</g>
<g transform="translate(-2.40,-1.60)">
<polygon points="372.0,314.9 403.4,299.3 403.4,253.4 372.0,269.0" fill="#f3f3f3" stroke="#6a6a6a" stroke-width="0.8" stroke-linejoin="round" />
<polygon points="341.2,299.6 372.0,314.9 372.0,269.0 341.2,253.7" fill="#f3f3f3" stroke="#6a6a6a" stroke-width="0.8" stroke-linejoin="round" />
<polygon points="341.2,253.7 372.0,269.0 403.4,253.4 372.6,238.1" fill="#f3f3f3" stroke="#6a6a6a" stroke-width="0.8" stroke-linejoin="round" />
<polygon points="369.5,314.3 372.0,313.0 372.0,269.0 369.5,270.3" fill="#a2a6aa" stroke="#222222" stroke-width="0.8" stroke-linejoin="round" />
<polygon points="338.8,299.0 369.5,314.3 369.5,270.3 338.8,255.0" fill="#94989c" stroke="#222222" stroke-width="0.8" stroke-linejoin="round" />
<polygon points="338.8,255.0 369.5,270.3 372.0,269.0 341.2,253.7" fill="#afb3b7" stroke="#222222" stroke-width="0.8" stroke-linejoin="round" />
<polygon points="369.5,270.3 402.8,253.7 402.8,247.4 369.5,263.9" fill="#9ca0a4" stroke="#222222" stroke-width="0.8" stroke-linejoin="round" />
<polygon points="338.8,255.0 369.5,270.3 369.5,263.9 338.8,248.6" fill="#7d8185" stroke="#222222" stroke-width="0.8" stroke-linejoin="round" />
<polygon points="338.8,248.6 369.5,263.9 402.8,247.4 372.0,232.1" fill="#afb3b7" stroke="#222222" stroke-width="0.8" stroke-linejoin="round" />
<polygon points="360.5,243.6 360.7,242.6 361.1,241.6 361.9,240.6 363.0,239.8 364.3,239.0 365.9,238.3 367.6,237.8 369.5,237.4 371.5,237.2 373.5,237.1 375.6,237.2 377.6,237.4 379.5,237.8 381.2,238.3 382.8,239.0 384.1,239.8 385.2,240.6 385.9,241.6 386.4,242.6 386.6,243.6 386.6,246.6 386.4,247.6 385.9,248.6 385.2,249.5 384.1,250.4 382.8,251.2 381.2,251.8 379.5,252.4 377.6,252.8 375.6,253.0 373.5,253.1 371.5,253.0 369.5,252.8 367.6,252.4 365.9,251.8 364.3,251.2 363.0,250.4 361.9,249.5 361.1,248.6 360.7,247.6 360.5,246.6" fill="#d9d9d9" stroke="#222222" stroke-width="0.8" stroke-linejoin="round" />
<polygon points="382.8,248.2 384.1,247.4 385.2,246.5 385.9,245.6 386.4,244.6 386.6,243.6 386.4,242.6 385.9,241.6 385.2,240.6 384.1,239.8 382.8,239.0 381.2,238.3 379.5,237.8 377.6,237.4 375.6,237.2 373.5,237.1 371.5,237.2 369.5,237.4 367.6,237.8 365.9,238.3 364.3,239.0 363.0,239.8 361.9,240.6 361.1,241.6 360.7,242.6 360.5,243.6 360.7,244.6 361.1,245.6 361.9,246.5 363.0,247.4 364.3,248.2 365.9,248.8 367.6,249.4 369.5,249.8 371.5,250.0 373.5,250.1 375.6,250.0 377.6,249.8 379.5,249.4 381.2,248.8" fill="#f3f3f3" stroke="#222222" stroke-width="0.8" stroke-linejoin="round" />
<polygon points="358.2,314.3 370.5,308.2 370.5,270.6 358.2,276.7" fill="#e8c935" stroke="#222222" stroke-width="0.8" stroke-linejoin="round" />
<polygon points="327.4,299.0 358.2,314.3 358.2,276.7 327.4,261.4" fill="#c8ab30" stroke="#222222" stroke-width="0.8" stroke-linejoin="round" />
<polygon points="327.4,261.4 358.2,276.7 370.5,270.6 339.7,255.3" fill="#fcdb36" stroke="#222222" stroke-width="0.8" stroke-linejoin="round" />
<polygon points="345.9,320.4 358.2,314.3 358.2,276.7 345.9,282.8" fill="#e8c935" stroke="#222222" stroke-width="0.8" stroke-linejoin="round" />
<polygon points="315.1,305.1 345.9,320.4 345.9,282.8 315.1,267.5" fill="#c8ab30" stroke="#222222" stroke-width="0.8" stroke-linejoin="round" />
<polygon points="315.1,267.5 345.9,282.8 358.2,276.7 327.4,261.4" fill="#fcdb36" stroke="#222222" stroke-width="0.8" stroke-linejoin="round" />
<polygon points="315.1,292.4 315.2,290.7 315.6,289.2 316.1,287.8 316.9,286.7 317.8,285.8 318.9,285.2 325.1,282.1 326.3,281.8 327.6,281.8 329.0,282.1 330.5,282.7 331.9,283.5 333.3,284.6 334.7,286.0 335.9,287.5 337.0,289.2 338.0,291.0 338.7,292.9 339.3,294.8 339.6,296.7 339.7,298.5 339.6,300.3 339.3,301.8 338.7,303.2 338.0,304.3 337.0,305.2 335.9,305.8 329.8,308.8 328.5,309.1 327.2,309.2 325.8,308.9 324.3,308.3 322.9,307.4 321.5,306.3 320.1,305.0 318.9,303.4 317.8,301.7 316.9,299.9 316.1,298.0 315.6,296.1 315.2,294.2" fill="#fee84a" stroke="#222222" stroke-width="0.8" stroke-linejoin="round" />
<polygon points="333.6,301.6 333.4,299.8 333.1,297.9 332.6,296.0 331.8,294.1 330.9,292.3 329.8,290.6 328.5,289.0 327.2,287.7 325.8,286.6 324.3,285.7 322.9,285.2 321.5,284.9 320.1,284.9 318.9,285.2 317.8,285.8 316.9,286.7 316.1,287.8 315.6,289.2 315.2,290.7 315.1,292.4 315.2,294.2 315.6,296.1 316.1,298.0 316.9,299.9 317.8,301.7 318.9,303.4 320.1,305.0 321.5,306.3 322.9,307.4 324.3,308.3 325.8,308.9 327.2,309.2 328.5,309.1 329.8,308.8 330.9,308.2 331.8,307.4 332.6,306.2 333.1,304.9 333.4,303.3" fill="#d0b334" stroke="#222222" stroke-width="0.8" stroke-linejoin="round" />
</g>
<g transform="translate(-2.50,-1.50)">
<polygon points="375.1,344.0 405.8,328.7 405.8,283.6 375.1,298.9" fill="#dc220e" stroke="#222222" stroke-width="0.8" stroke-linejoin="round" />
<polygon points="344.3,328.7 375.1,344.0 375.1,298.9 344.3,283.6" fill="#ab1909" stroke="#222222" stroke-width="0.8" stroke-linejoin="round" />
<polygon points="344.3,283.6 375.1,298.9 405.8,283.6 375.1,268.3" fill="#e4230f" stroke="#222222" stroke-width="0.8" stroke-linejoin="round" />
<polygon points="362.0,276.1 362.2,275.0 362.7,274.0 363.5,273.1 364.5,272.2 365.9,271.5 367.4,270.8 369.2,270.3 371.0,269.9 373.0,269.6 375.1,269.6 377.1,269.6 379.1,269.9 381.0,270.3 382.7,270.8 384.3,271.5 385.6,272.2 386.7,273.1 387.5,274.0 388.0,275.0 388.1,276.1 388.1,283.6 388.0,284.6 387.5,285.6 386.7,286.5 385.6,287.4 384.3,288.2 382.7,288.8 381.0,289.4 379.1,289.7 377.1,290.0 375.1,290.1 373.0,290.0 371.0,289.7 369.2,289.4 367.4,288.8 365.9,288.2 364.5,287.4 363.5,286.5 362.7,285.6 362.2,284.6 362.0,283.6" fill="#c81e0c" stroke="#222222" stroke-width="0.8" stroke-linejoin="round" />
<polygon points="384.3,280.6 385.6,279.9 386.7,279.0 387.5,278.1 388.0,277.1 388.1,276.1 388.0,275.0 387.5,274.0 386.7,273.1 385.6,272.2 384.3,271.5 382.7,270.8 381.0,270.3 379.1,269.9 377.1,269.6 375.1,269.6 373.0,269.6 371.0,269.9 369.2,270.3 367.4,270.8 365.8,271.5 364.5,272.2 363.5,273.1 362.7,274.0 362.2,275.0 362.0,276.1 362.2,277.1 362.7,278.1 363.5,279.0 364.5,279.9 365.8,280.6 367.4,281.3 369.2,281.8 371.0,282.2 373.0,282.5 375.1,282.5 377.1,282.5 379.1,282.2 381.0,281.8 382.7,281.3" fill="#e42812" stroke="#222222" stroke-width="0.8" stroke-linejoin="round" />
<polygon points="344.3,308.5 344.4,306.8 344.8,305.2 345.3,303.9 346.1,302.7 347.0,301.9 348.1,301.3 354.3,298.2 355.5,297.9 356.8,297.9 358.3,298.2 359.7,298.7 361.1,299.6 362.6,300.7 363.9,302.1 365.1,303.6 366.2,305.3 367.2,307.1 367.9,309.0 368.5,310.9 368.8,312.8 368.9,314.6 368.8,316.3 368.5,317.9 367.9,319.2 367.2,320.4 366.2,321.2 365.1,321.8 359.0,324.9 357.7,325.2 356.4,325.2 355.0,324.9 353.6,324.4 352.1,323.5 350.7,322.4 349.4,321.0 348.1,319.5 347.0,317.8 346.1,316.0 345.3,314.1 344.8,312.2 344.4,310.3" fill="#f03420" stroke="#1a1a1a" stroke-width="0.8" stroke-linejoin="round" />
<polygon points="362.8,317.7 362.7,315.8 362.3,314.0 361.8,312.0 361.0,310.2 360.1,308.3 359.0,306.7 357.7,305.1 356.4,303.8 355.0,302.7 353.6,301.8 352.1,301.2 350.7,300.9 349.4,300.9 348.1,301.3 347.0,301.9 346.1,302.7 345.3,303.9 344.8,305.2 344.4,306.8 344.3,308.5 344.4,310.3 344.8,312.2 345.3,314.1 346.1,316.0 347.0,317.8 348.1,319.5 349.4,321.0 350.7,322.4 352.1,323.5 353.6,324.4 355.0,324.9 356.4,325.2 357.7,325.2 359.0,324.9 360.1,324.3 361.0,323.4 361.8,322.3 362.3,320.9 362.7,319.4" fill="#b81c0c" stroke="#1a1a1a" stroke-width="0.8" stroke-linejoin="round" />
<polygon points="360.0,316.3 359.9,315.0 359.7,313.7 359.3,312.4 358.8,311.0 358.1,309.8 357.3,308.6 356.5,307.5 355.5,306.6 354.6,305.8 353.6,305.2 352.5,304.8 351.6,304.6 350.6,304.6 349.8,304.8 349.0,305.2 348.3,305.8 347.8,306.6 347.4,307.6 347.2,308.7 347.1,309.9 347.2,311.1 347.4,312.5 347.8,313.8 348.3,315.1 349.0,316.4 349.8,317.6 350.6,318.7 351.6,319.6 352.5,320.4 353.6,321.0 354.6,321.4 355.5,321.6 356.5,321.6 357.3,321.4 358.1,320.9 358.8,320.3 359.3,319.5 359.7,318.6 359.9,317.5" fill="#ec2a16" stroke="#1a1a1a" stroke-width="0.8" stroke-linejoin="round" />
<polygon points="362.5,315.1 362.4,313.8 362.2,312.5 361.8,311.1 361.2,309.8 360.6,308.5 359.8,307.4 358.9,306.3 358.0,305.3 357.0,304.6 356.0,304.0 355.0,303.6 354.0,303.4 353.1,303.4 352.2,303.6 351.4,304.0 350.8,304.6 350.3,305.4 349.9,306.4 349.6,307.4 349.6,308.6 349.6,309.9 349.9,311.2 350.3,312.6 350.8,313.9 351.4,315.2 352.2,316.4 353.1,317.4 354.0,318.4 355.0,319.2 356.0,319.8 357.0,320.2 358.0,320.4 358.9,320.4 359.8,320.1 360.6,319.7 361.2,319.1 361.8,318.3 362.2,317.4 362.4,316.3" fill="none" stroke="#600c04" stroke-width="0.7" stroke-opacity="0.6"/>
</g>
<g transform="translate(-2.50,-1.20)">
<polygon points="417.5,353.5 449.5,337.6 449.5,291.7 417.5,307.6" fill="#f3f3f3" stroke="#6a6a6a" stroke-width="0.8" stroke-linejoin="round" />
<polygon points="386.8,338.2 417.5,353.5 417.5,307.6 386.8,292.3" fill="#f3f3f3" stroke="#6a6a6a" stroke-width="0.8" stroke-linejoin="round" />
<polygon points="386.8,292.3 417.5,307.6 449.5,291.7 418.7,276.4" fill="#f3f3f3" stroke="#6a6a6a" stroke-width="0.8" stroke-linejoin="round" />
<polygon points="415.1,352.8 417.5,351.6 417.5,307.6 415.1,308.8" fill="#a2a6aa" stroke="#222222" stroke-width="0.8" stroke-linejoin="round" />
<polygon points="384.3,337.5 415.1,352.8 415.1,308.8 384.3,293.5" fill="#94989c" stroke="#222222" stroke-width="0.8" stroke-linejoin="round" />
<polygon points="384.3,293.5 415.1,308.8 417.5,307.6 386.8,292.3" fill="#afb3b7" stroke="#222222" stroke-width="0.8" stroke-linejoin="round" />
<polygon points="415.1,308.8 448.9,292.0 448.9,285.6 415.1,302.4" fill="#9ca0a4" stroke="#222222" stroke-width="0.8" stroke-linejoin="round" />
<polygon points="384.3,293.5 415.1,308.8 415.1,302.4 384.3,287.1" fill="#7d8185" stroke="#222222" stroke-width="0.8" stroke-linejoin="round" />
<polygon points="384.3,287.1 415.1,302.4 448.9,285.6 418.1,270.3" fill="#afb3b7" stroke="#222222" stroke-width="0.8" stroke-linejoin="round" />
<polygon points="406.6,281.8 406.8,280.8 407.3,279.8 408.0,278.9 409.1,278.0 410.4,277.2 412.0,276.6 413.7,276.0 415.6,275.7 417.6,275.4 419.7,275.3 421.7,275.4 423.7,275.7 425.6,276.0 427.3,276.6 428.9,277.2 430.2,278.0 431.3,278.9 432.1,279.8 432.5,280.8 432.7,281.8 432.7,284.8 432.5,285.9 432.1,286.8 431.3,287.8 430.2,288.7 428.9,289.4 427.3,290.1 425.6,290.6 423.7,291.0 421.7,291.3 419.7,291.3 417.6,291.3 415.6,291.0 413.7,290.6 412.0,290.1 410.4,289.4 409.1,288.7 408.0,287.8 407.3,286.8 406.8,285.9 406.6,284.8" fill="#d9d9d9" stroke="#222222" stroke-width="0.8" stroke-linejoin="round" />
<polygon points="428.9,286.4 430.2,285.6 431.3,284.8 432.1,283.8 432.5,282.8 432.7,281.8 432.5,280.8 432.1,279.8 431.3,278.9 430.2,278.0 428.9,277.2 427.3,276.6 425.6,276.0 423.7,275.7 421.7,275.4 419.7,275.3 417.6,275.4 415.6,275.7 413.7,276.0 412.0,276.6 410.4,277.2 409.1,278.0 408.0,278.9 407.3,279.8 406.8,280.8 406.6,281.8 406.8,282.8 407.3,283.8 408.0,284.8 409.1,285.6 410.4,286.4 412.0,287.1 413.7,287.6 415.6,288.0 417.6,288.2 419.7,288.3 421.7,288.2 423.7,288.0 425.6,287.6 427.3,287.1" fill="#f3f3f3" stroke="#222222" stroke-width="0.8" stroke-linejoin="round" />
<polygon points="404.3,352.5 416.0,346.7 416.0,309.1 404.3,314.9" fill="#e8c935" stroke="#222222" stroke-width="0.8" stroke-linejoin="round" />
<polygon points="373.5,337.2 404.3,352.5 404.3,314.9 373.5,299.6" fill="#c8ab30" stroke="#222222" stroke-width="0.8" stroke-linejoin="round" />
<polygon points="373.5,299.6 404.3,314.9 416.0,309.1 385.2,293.8" fill="#fcdb36" stroke="#222222" stroke-width="0.8" stroke-linejoin="round" />
<polygon points="373.5,324.6 373.7,322.8 374.0,321.3 374.5,319.9 375.3,318.8 376.2,317.9 377.3,317.3 383.5,314.3 384.7,314.0 386.1,313.9 387.5,314.2 388.9,314.8 390.4,315.7 391.8,316.8 393.1,318.1 394.3,319.7 395.4,321.4 396.4,323.2 397.1,325.1 397.7,327.0 398.0,328.9 398.1,330.7 398.0,332.4 397.7,333.9 397.1,335.3 396.4,336.4 395.4,337.3 394.3,337.9 388.2,341.0 387.0,341.3 385.6,341.3 384.2,341.0 382.8,340.4 381.3,339.6 379.9,338.5 378.6,337.1 377.3,335.6 376.2,333.9 375.3,332.1 374.5,330.2 374.0,328.3 373.7,326.4" fill="#fee84a" stroke="#222222" stroke-width="0.8" stroke-linejoin="round" />
<polygon points="392.0,333.7 391.9,331.9 391.5,330.0 391.0,328.1 390.2,326.2 389.3,324.4 388.2,322.7 387.0,321.2 385.6,319.8 384.2,318.7 382.8,317.9 381.3,317.3 379.9,317.0 378.6,317.0 377.3,317.3 376.2,317.9 375.3,318.8 374.5,319.9 374.0,321.3 373.7,322.8 373.5,324.6 373.7,326.4 374.0,328.3 374.5,330.2 375.3,332.1 376.2,333.9 377.3,335.6 378.6,337.1 379.9,338.5 381.3,339.6 382.8,340.4 384.2,341.0 385.6,341.3 387.0,341.3 388.2,341.0 389.3,340.4 390.2,339.5 391.0,338.4 391.5,337.0 391.9,335.4" fill="#d0b334" stroke="#222222" stroke-width="0.8" stroke-linejoin="round" />
</g>
<g transform="translate(-2.00,-1.00)">
<polygon points="457.2,364.3 482.7,351.6 482.7,306.5 457.2,319.2" fill="#ec8414" stroke="#222222" stroke-width="0.8" stroke-linejoin="round" />
<polygon points="426.4,349.0 457.2,364.3 457.2,319.2 426.4,303.9" fill="#e07a10" stroke="#222222" stroke-width="0.8" stroke-linejoin="round" />
<polygon points="426.4,303.9 457.2,319.2 482.7,306.5 451.9,291.2" fill="#f8921c" stroke="#222222" stroke-width="0.8" stroke-linejoin="round" />
<polygon points="438.9,299.0 439.1,298.0 439.5,297.0 440.3,296.1 441.4,295.2 442.7,294.4 444.3,293.7 446.0,293.2 447.9,292.8 449.9,292.6 451.9,292.5 454.0,292.6 456.0,292.8 457.9,293.2 459.6,293.7 461.2,294.4 462.5,295.2 463.6,296.1 464.4,297.0 464.8,298.0 465.0,299.0 465.0,306.5 464.8,307.5 464.4,308.5 463.6,309.5 462.5,310.3 461.2,311.1 459.6,311.8 457.9,312.3 456.0,312.7 454.0,312.9 451.9,313.0 449.9,312.9 447.9,312.7 446.0,312.3 444.3,311.8 442.7,311.1 441.4,310.3 440.3,309.5 439.5,308.5 439.1,307.5 438.9,306.5" fill="#e8820f" stroke="#222222" stroke-width="0.8" stroke-linejoin="round" />
<polygon points="461.2,303.6 462.5,302.8 463.6,301.9 464.4,301.0 464.8,300.0 465.0,299.0 464.8,298.0 464.4,297.0 463.6,296.1 462.5,295.2 461.2,294.4 459.6,293.7 457.9,293.2 456.0,292.8 454.0,292.6 451.9,292.5 449.9,292.6 447.9,292.8 446.0,293.2 444.3,293.7 442.7,294.4 441.4,295.2 440.3,296.1 439.5,297.0 439.1,298.0 438.9,299.0 439.1,300.0 439.5,301.0 440.3,301.9 441.4,302.8 442.7,303.6 444.3,304.3 446.0,304.8 447.9,305.2 449.9,305.4 451.9,305.5 454.0,305.4 456.0,305.2 457.9,304.8 459.6,304.3" fill="#f7961f" stroke="#222222" stroke-width="0.8" stroke-linejoin="round" />
<polygon points="445.8,362.5 457.2,356.8 457.2,319.2 445.8,324.9" fill="#e8c935" stroke="#222222" stroke-width="0.8" stroke-linejoin="round" />
<polygon points="415.1,347.2 445.8,362.5 445.8,324.9 415.1,309.6" fill="#c8ab30" stroke="#222222" stroke-width="0.8" stroke-linejoin="round" />
<polygon points="415.1,309.6 445.8,324.9 457.2,319.2 426.4,303.9" fill="#fcdb36" stroke="#222222" stroke-width="0.8" stroke-linejoin="round" />
<polygon points="433.8,368.4 445.8,362.5 445.8,324.9 433.8,330.8" fill="#e8c935" stroke="#222222" stroke-width="0.8" stroke-linejoin="round" />
<polygon points="403.1,353.1 433.8,368.4 433.8,330.8 403.1,315.5" fill="#c8ab30" stroke="#222222" stroke-width="0.8" stroke-linejoin="round" />
<polygon points="403.1,315.5 433.8,330.8 445.8,324.9 415.1,309.6" fill="#fcdb36" stroke="#222222" stroke-width="0.8" stroke-linejoin="round" />
<polygon points="403.1,340.5 403.2,338.8 403.5,337.2 404.1,335.8 404.8,334.7 405.8,333.8 406.9,333.2 413.0,330.2 414.2,329.9 415.6,329.9 417.0,330.1 418.4,330.7 419.9,331.6 421.3,332.7 422.6,334.0 423.9,335.6 425.0,337.3 425.9,339.1 426.7,341.0 427.2,342.9 427.5,344.8 427.7,346.6 427.5,348.3 427.2,349.8 426.7,351.2 425.9,352.3 425.0,353.2 423.9,353.8 417.7,356.9 416.5,357.2 415.1,357.2 413.7,356.9 412.3,356.3 410.8,355.5 409.4,354.4 408.1,353.0 406.9,351.5 405.8,349.8 404.8,348.0 404.1,346.1 403.5,344.2 403.2,342.3" fill="#fee84a" stroke="#222222" stroke-width="0.8" stroke-linejoin="round" />
<polygon points="421.5,349.6 421.4,347.8 421.1,345.9 420.5,344.0 419.7,342.1 418.8,340.3 417.7,338.6 416.5,337.1 415.1,335.7 413.7,334.6 412.3,333.8 410.8,333.2 409.4,332.9 408.1,332.9 406.9,333.2 405.8,333.8 404.8,334.7 404.1,335.8 403.5,337.2 403.2,338.8 403.1,340.5 403.2,342.3 403.5,344.2 404.1,346.1 404.8,348.0 405.8,349.8 406.9,351.5 408.1,353.0 409.4,354.4 410.8,355.5 412.3,356.3 413.7,356.9 415.1,357.2 416.5,357.2 417.7,356.9 418.8,356.3 419.7,355.4 420.5,354.3 421.1,352.9 421.4,351.4" fill="#d0b334" stroke="#222222" stroke-width="0.8" stroke-linejoin="round" />
</g>
<g transform="translate(0.00,0.00)">
<polygon points="463.9,391.6 495.6,375.8 495.6,329.9 463.9,345.7" fill="#f3f3f3" stroke="#6a6a6a" stroke-width="0.8" stroke-linejoin="round" />
<polygon points="433.2,376.3 463.9,391.6 463.9,345.7 433.2,330.4" fill="#f3f3f3" stroke="#6a6a6a" stroke-width="0.8" stroke-linejoin="round" />
<polygon points="433.2,330.4 463.9,345.7 495.6,329.9 464.9,314.6" fill="#f3f3f3" stroke="#6a6a6a" stroke-width="0.8" stroke-linejoin="round" />
<polygon points="461.5,346.9 495.0,330.2 495.0,323.9 461.5,340.5" fill="#9ca0a4" stroke="#222222" stroke-width="0.8" stroke-linejoin="round" />
<polygon points="430.7,331.6 461.5,346.9 461.5,340.5 430.7,325.2" fill="#94989c" stroke="#222222" stroke-width="0.8" stroke-linejoin="round" />
<polygon points="430.7,325.2 461.5,340.5 495.0,323.9 464.2,308.6" fill="#afb3b7" stroke="#222222" stroke-width="0.8" stroke-linejoin="round" />
<polygon points="461.5,390.9 463.9,389.7 463.9,339.3 461.5,340.5" fill="#a2a6aa" stroke="#222222" stroke-width="0.8" stroke-linejoin="round" />
<polygon points="430.7,375.6 461.5,390.9 461.5,340.5 430.7,325.2" fill="#94989c" stroke="#222222" stroke-width="0.8" stroke-linejoin="round" />
<polygon points="430.7,325.2 461.5,340.5 495.0,323.9 464.2,308.6" fill="#afb3b7" stroke="#222222" stroke-width="0.8" stroke-linejoin="round" />
<polygon points="452.7,320.1 452.9,319.1 453.4,318.1 454.2,317.1 455.2,316.3 456.6,315.5 458.1,314.8 459.9,314.3 461.8,313.9 463.7,313.7 465.8,313.6 467.8,313.7 469.8,313.9 471.7,314.3 473.5,314.8 475.0,315.5 476.3,316.3 477.4,317.1 478.2,318.1 478.7,319.1 478.8,320.1 478.8,323.1 478.7,324.1 478.2,325.1 477.4,326.0 476.3,326.9 475.0,327.7 473.5,328.3 471.7,328.9 469.8,329.3 467.8,329.5 465.8,329.6 463.7,329.5 461.8,329.3 459.9,328.9 458.1,328.3 456.6,327.7 455.2,326.9 454.2,326.0 453.4,325.1 452.9,324.1 452.7,323.1" fill="#d9d9d9" stroke="#222222" stroke-width="0.8" stroke-linejoin="round" />
<polygon points="475.0,324.7 476.3,323.9 477.4,323.0 478.2,322.1 478.7,321.1 478.8,320.1 478.7,319.1 478.2,318.1 477.4,317.1 476.3,316.3 475.0,315.5 473.5,314.8 471.7,314.3 469.8,313.9 467.8,313.7 465.8,313.6 463.7,313.7 461.8,313.9 459.9,314.3 458.1,314.8 456.6,315.5 455.2,316.3 454.2,317.1 453.4,318.1 452.9,319.1 452.7,320.1 452.9,321.1 453.4,322.1 454.2,323.0 455.2,323.9 456.6,324.7 458.1,325.3 459.9,325.9 461.8,326.3 463.7,326.5 465.8,326.6 467.8,326.5 469.8,326.3 471.7,325.9 473.5,325.3" fill="#f3f3f3" stroke="#222222" stroke-width="0.8" stroke-linejoin="round" />
<polygon points="431.7,356.1 431.8,354.4 432.1,352.8 432.7,351.5 433.4,350.3 434.4,349.5 435.5,348.9 441.6,345.8 442.8,345.5 444.2,345.5 445.6,345.8 447.0,346.3 448.5,347.2 449.9,348.3 451.2,349.6 452.5,351.2 453.6,352.9 454.5,354.7 455.2,356.6 455.8,358.5 456.1,360.4 456.3,362.2 456.1,363.9 455.8,365.5 455.2,366.8 454.5,368.0 453.6,368.8 452.5,369.4 446.3,372.5 445.1,372.8 443.7,372.8 442.3,372.5 440.9,372.0 439.4,371.1 438.0,370.0 436.7,368.6 435.5,367.1 434.4,365.4 433.4,363.6 432.7,361.7 432.1,359.8 431.8,357.9" fill="#d8dadc" stroke="#1a1a1a" stroke-width="0.8" stroke-linejoin="round" />
<polygon points="450.1,365.3 450.0,363.4 449.7,361.6 449.1,359.6 448.3,357.8 447.4,355.9 446.3,354.2 445.1,352.7 443.7,351.4 442.3,350.3 440.9,349.4 439.4,348.8 438.0,348.5 436.7,348.5 435.5,348.9 434.4,349.5 433.4,350.3 432.7,351.5 432.1,352.8 431.8,354.4 431.7,356.1 431.8,357.9 432.1,359.8 432.7,361.7 433.4,363.6 434.4,365.4 435.5,367.1 436.7,368.6 438.0,370.0 439.4,371.1 440.9,372.0 442.3,372.5 443.7,372.8 445.1,372.8 446.3,372.5 447.4,371.9 448.3,371.0 449.1,369.9 449.7,368.5 450.0,367.0" fill="#a0a4a8" stroke="#1a1a1a" stroke-width="0.8" stroke-linejoin="round" />
<polygon points="447.3,363.9 447.3,362.6 447.0,361.3 446.6,360.0 446.1,358.6 445.4,357.4 444.7,356.2 443.8,355.1 442.9,354.2 441.9,353.4 440.9,352.8 439.9,352.4 438.9,352.2 437.9,352.2 437.1,352.4 436.3,352.8 435.7,353.4 435.1,354.2 434.7,355.2 434.5,356.3 434.4,357.5 434.5,358.7 434.7,360.1 435.1,361.4 435.7,362.7 436.3,364.0 437.1,365.2 437.9,366.3 438.9,367.2 439.9,368.0 440.9,368.6 441.9,369.0 442.9,369.2 443.8,369.2 444.7,369.0 445.4,368.5 446.1,367.9 446.6,367.1 447.0,366.2 447.3,365.1" fill="#e4e4e4" stroke="#1a1a1a" stroke-width="0.8" stroke-linejoin="round" />
<polygon points="449.8,362.7 449.7,361.4 449.5,360.1 449.1,358.7 448.6,357.4 447.9,356.1 447.1,355.0 446.3,353.9 445.3,352.9 444.4,352.2 443.3,351.6 442.3,351.2 441.3,350.9 440.4,351.0 439.5,351.2 438.8,351.6 438.1,352.2 437.6,353.0 437.2,354.0 437.0,355.0 436.9,356.2 437.0,357.5 437.2,358.8 437.6,360.2 438.1,361.5 438.8,362.8 439.5,364.0 440.4,365.0 441.3,366.0 442.3,366.7 443.3,367.3 444.4,367.8 445.3,368.0 446.3,367.9 447.1,367.7 447.9,367.3 448.6,366.7 449.1,365.9 449.5,364.9 449.7,363.9" fill="none" stroke="#303436" stroke-width="0.7" stroke-opacity="0.6"/>
</g>
<g transform="translate(-0.80,-0.80)">
<polygon points="504.2,402.1 528.8,389.9 528.8,344.8 504.2,357.0" fill="#ec8414" stroke="#222222" stroke-width="0.8" stroke-linejoin="round" />
<polygon points="473.5,386.8 504.2,402.1 504.2,357.0 473.5,341.7" fill="#e07a10" stroke="#222222" stroke-width="0.8" stroke-linejoin="round" />
<polygon points="473.5,341.7 504.2,357.0 528.8,344.8 498.1,329.5" fill="#f8921c" stroke="#222222" stroke-width="0.8" stroke-linejoin="round" />
<polygon points="485.0,337.2 485.2,336.2 485.7,335.2 486.5,334.3 487.5,333.4 488.9,332.7 490.4,332.0 492.2,331.5 494.0,331.1 496.0,330.8 498.1,330.8 500.1,330.8 502.1,331.1 504.0,331.5 505.7,332.0 507.3,332.7 508.6,333.4 509.7,334.3 510.5,335.2 511.0,336.2 511.1,337.2 511.1,344.8 511.0,345.8 510.5,346.8 509.7,347.7 508.6,348.6 507.3,349.4 505.7,350.0 504.0,350.6 502.1,350.9 500.1,351.2 498.1,351.3 496.0,351.2 494.0,350.9 492.2,350.6 490.4,350.0 488.9,349.4 487.5,348.6 486.5,347.7 485.7,346.8 485.2,345.8 485.0,344.8" fill="#e8820f" stroke="#222222" stroke-width="0.8" stroke-linejoin="round" />
<polygon points="507.3,341.8 508.6,341.1 509.7,340.2 510.5,339.3 511.0,338.3 511.1,337.2 511.0,336.2 510.5,335.2 509.7,334.3 508.6,333.4 507.3,332.7 505.7,332.0 504.0,331.5 502.1,331.1 500.1,330.8 498.1,330.8 496.0,330.8 494.0,331.1 492.2,331.5 490.4,332.0 488.8,332.7 487.5,333.4 486.5,334.3 485.7,335.2 485.2,336.2 485.0,337.2 485.2,338.3 485.7,339.3 486.5,340.2 487.5,341.1 488.8,341.8 490.4,342.5 492.2,343.0 494.0,343.4 496.0,343.7 498.1,343.7 500.1,343.7 502.1,343.4 504.0,343.0 505.7,342.5" fill="#f7961f" stroke="#222222" stroke-width="0.8" stroke-linejoin="round" />
<polygon points="491.9,400.7 504.2,394.6 504.2,357.0 491.9,363.1" fill="#e8c935" stroke="#222222" stroke-width="0.8" stroke-linejoin="round" />
<polygon points="461.2,385.4 491.9,400.7 491.9,363.1 461.2,347.8" fill="#c8ab30" stroke="#222222" stroke-width="0.8" stroke-linejoin="round" />
<polygon points="461.2,347.8 491.9,363.1 504.2,357.0 473.5,341.7" fill="#fcdb36" stroke="#222222" stroke-width="0.8" stroke-linejoin="round" />
<polygon points="461.2,372.8 461.3,371.0 461.6,369.5 462.2,368.1 462.9,367.0 463.9,366.1 465.0,365.5 471.1,362.5 472.4,362.1 473.7,362.1 475.1,362.4 476.6,363.0 478.0,363.9 479.4,365.0 480.7,366.3 482.0,367.9 483.1,369.5 484.0,371.4 484.8,373.2 485.3,375.2 485.7,377.0 485.8,378.9 485.7,380.6 485.3,382.1 484.8,383.5 484.0,384.6 483.1,385.5 482.0,386.1 475.8,389.2 474.6,389.5 473.3,389.5 471.8,389.2 470.4,388.6 469.0,387.8 467.5,386.6 466.2,385.3 465.0,383.8 463.9,382.1 462.9,380.3 462.2,378.4 461.6,376.5 461.3,374.6" fill="#fee84a" stroke="#222222" stroke-width="0.8" stroke-linejoin="round" />
<polygon points="479.6,381.9 479.5,380.1 479.2,378.2 478.6,376.3 477.9,374.4 476.9,372.6 475.8,370.9 474.6,369.4 473.3,368.0 471.8,366.9 470.4,366.1 469.0,365.5 467.5,365.2 466.2,365.2 465.0,365.5 463.9,366.1 462.9,367.0 462.2,368.1 461.6,369.5 461.3,371.0 461.2,372.8 461.3,374.6 461.6,376.5 462.2,378.4 462.9,380.3 463.9,382.1 465.0,383.8 466.2,385.3 467.5,386.6 469.0,387.8 470.4,388.6 471.8,389.2 473.3,389.5 474.6,389.5 475.8,389.2 476.9,388.6 477.9,387.7 478.6,386.6 479.2,385.2 479.5,383.6" fill="#d0b334" stroke="#222222" stroke-width="0.8" stroke-linejoin="round" />
</g>
<g transform="translate(-1.00,-1.00)">
<polygon points="571.9,399.1 603.2,383.5 603.2,337.6 571.9,353.2" fill="#f3f3f3" stroke="#6a6a6a" stroke-width="0.8" stroke-linejoin="round" />
<polygon points="541.1,383.8 571.9,399.1 571.9,353.2 541.1,337.9" fill="#f3f3f3" stroke="#6a6a6a" stroke-width="0.8" stroke-linejoin="round" />
<polygon points="541.1,337.9 571.9,353.2 603.2,337.6 572.5,322.3" fill="#f3f3f3" stroke="#6a6a6a" stroke-width="0.8" stroke-linejoin="round" />
<polygon points="569.4,398.4 571.9,397.2 571.9,353.2 569.4,354.4" fill="#a2a6aa" stroke="#222222" stroke-width="0.8" stroke-linejoin="round" />
<polygon points="538.7,383.1 569.4,398.4 569.4,354.4 538.7,339.1" fill="#94989c" stroke="#222222" stroke-width="0.8" stroke-linejoin="round" />
<polygon points="538.7,339.1 569.4,354.4 571.9,353.2 541.1,337.9" fill="#afb3b7" stroke="#222222" stroke-width="0.8" stroke-linejoin="round" />
<polygon points="569.4,354.4 602.6,337.9 602.6,331.5 569.4,348.0" fill="#9ca0a4" stroke="#222222" stroke-width="0.8" stroke-linejoin="round" />
<polygon points="538.7,339.1 569.4,354.4 569.4,348.0 538.7,332.7" fill="#7d8185" stroke="#222222" stroke-width="0.8" stroke-linejoin="round" />
<polygon points="538.7,332.7 569.4,348.0 602.6,331.5 571.9,316.2" fill="#afb3b7" stroke="#222222" stroke-width="0.8" stroke-linejoin="round" />
<polygon points="560.4,327.7 560.5,326.7 561.0,325.7 561.8,324.8 562.9,323.9 564.2,323.1 565.7,322.5 567.5,321.9 569.4,321.6 571.4,321.3 573.4,321.2 575.5,321.3 577.4,321.6 579.3,321.9 581.1,322.5 582.6,323.1 584.0,323.9 585.0,324.8 585.8,325.7 586.3,326.7 586.5,327.7 586.5,330.7 586.3,331.8 585.8,332.7 585.0,333.7 584.0,334.6 582.6,335.3 581.1,336.0 579.3,336.5 577.4,336.9 575.5,337.2 573.4,337.2 571.4,337.2 569.4,336.9 567.5,336.5 565.7,336.0 564.2,335.3 562.9,334.6 561.8,333.7 561.0,332.7 560.5,331.8 560.4,330.7" fill="#d9d9d9" stroke="#222222" stroke-width="0.8" stroke-linejoin="round" />
<polygon points="582.6,332.3 584.0,331.5 585.0,330.7 585.8,329.7 586.3,328.7 586.5,327.7 586.3,326.7 585.8,325.7 585.0,324.8 584.0,323.9 582.6,323.1 581.1,322.5 579.3,321.9 577.4,321.6 575.5,321.3 573.4,321.2 571.4,321.3 569.4,321.6 567.5,321.9 565.7,322.5 564.2,323.1 562.9,323.9 561.8,324.8 561.0,325.7 560.5,326.7 560.4,327.7 560.5,328.7 561.0,329.7 561.8,330.7 562.9,331.5 564.2,332.3 565.7,333.0 567.5,333.5 569.4,333.9 571.4,334.1 573.4,334.2 575.5,334.1 577.4,333.9 579.3,333.5 581.1,333.0" fill="#f3f3f3" stroke="#222222" stroke-width="0.8" stroke-linejoin="round" />
<polygon points="545.7,412.1 570.3,399.8 570.3,354.7 545.7,367.0" fill="#ec8414" stroke="#222222" stroke-width="0.8" stroke-linejoin="round" />
<polygon points="515.0,396.8 545.7,412.1 545.7,367.0 515.0,351.7" fill="#e07a10" stroke="#222222" stroke-width="0.8" stroke-linejoin="round" />
<polygon points="515.0,351.7 545.7,367.0 570.3,354.7 539.6,339.4" fill="#f8921c" stroke="#222222" stroke-width="0.8" stroke-linejoin="round" />
<polygon points="526.5,347.2 526.7,346.2 527.2,345.2 528.0,344.2 529.0,343.4 530.4,342.6 531.9,341.9 533.7,341.4 535.6,341.0 537.5,340.8 539.6,340.7 541.6,340.8 543.6,341.0 545.5,341.4 547.3,341.9 548.8,342.6 550.1,343.4 551.2,344.2 552.0,345.2 552.5,346.2 552.6,347.2 552.6,354.7 552.5,355.7 552.0,356.7 551.2,357.7 550.1,358.5 548.8,359.3 547.3,360.0 545.5,360.5 543.6,360.9 541.6,361.1 539.6,361.2 537.5,361.1 535.6,360.9 533.7,360.5 531.9,360.0 530.4,359.3 529.0,358.5 528.0,357.7 527.2,356.7 526.7,355.7 526.5,354.7" fill="#e8820f" stroke="#222222" stroke-width="0.8" stroke-linejoin="round" />
<polygon points="548.8,351.8 550.1,351.0 551.2,350.1 552.0,349.2 552.5,348.2 552.6,347.2 552.5,346.2 552.0,345.2 551.2,344.2 550.1,343.4 548.8,342.6 547.3,341.9 545.5,341.4 543.6,341.0 541.6,340.8 539.6,340.7 537.5,340.8 535.6,341.0 533.7,341.4 531.9,341.9 530.4,342.6 529.0,343.4 528.0,344.2 527.2,345.2 526.7,346.2 526.5,347.2 526.7,348.2 527.2,349.2 528.0,350.1 529.0,351.0 530.4,351.8 531.9,352.4 533.7,353.0 535.6,353.4 537.5,353.6 539.6,353.7 541.6,353.6 543.6,353.4 545.5,353.0 547.3,352.4" fill="#f7961f" stroke="#222222" stroke-width="0.8" stroke-linejoin="round" />
<polygon points="533.1,410.8 545.7,404.6 545.7,367.0 533.1,373.2" fill="#e8c935" stroke="#222222" stroke-width="0.8" stroke-linejoin="round" />
<polygon points="502.4,395.5 533.1,410.8 533.1,373.2 502.4,357.9" fill="#c8ab30" stroke="#222222" stroke-width="0.8" stroke-linejoin="round" />
<polygon points="502.4,357.9 533.1,373.2 545.7,367.0 515.0,351.7" fill="#fcdb36" stroke="#222222" stroke-width="0.8" stroke-linejoin="round" />
<polygon points="521.1,416.8 533.1,410.8 533.1,373.2 521.1,379.2" fill="#e8c935" stroke="#222222" stroke-width="0.8" stroke-linejoin="round" />
<polygon points="490.4,401.5 521.1,416.8 521.1,379.2 490.4,363.9" fill="#c8ab30" stroke="#222222" stroke-width="0.8" stroke-linejoin="round" />
<polygon points="490.4,363.9 521.1,379.2 533.1,373.2 502.4,357.9" fill="#fcdb36" stroke="#222222" stroke-width="0.8" stroke-linejoin="round" />
<polygon points="490.4,388.8 490.5,387.1 490.8,385.6 491.4,384.2 492.1,383.1 493.1,382.2 494.2,381.6 500.3,378.5 501.6,378.2 502.9,378.2 504.3,378.5 505.8,379.1 507.2,379.9 508.6,381.0 510.0,382.4 511.2,383.9 512.3,385.6 513.2,387.4 514.0,389.3 514.5,391.2 514.9,393.1 515.0,394.9 514.9,396.6 514.5,398.2 514.0,399.6 513.2,400.7 512.3,401.6 511.2,402.2 505.0,405.2 503.8,405.5 502.5,405.6 501.1,405.3 499.6,404.7 498.2,403.8 496.8,402.7 495.4,401.4 494.2,399.8 493.1,398.1 492.1,396.3 491.4,394.4 490.8,392.5 490.5,390.6" fill="#fee84a" stroke="#222222" stroke-width="0.8" stroke-linejoin="round" />
<polygon points="508.8,398.0 508.7,396.2 508.4,394.3 507.8,392.4 507.1,390.5 506.1,388.7 505.0,387.0 503.8,385.4 502.5,384.1 501.1,383.0 499.6,382.1 498.2,381.5 496.8,381.3 495.4,381.3 494.2,381.6 493.1,382.2 492.1,383.1 491.4,384.2 490.8,385.6 490.5,387.1 490.4,388.8 490.5,390.6 490.8,392.5 491.4,394.4 492.1,396.3 493.1,398.1 494.2,399.8 495.4,401.4 496.8,402.7 498.2,403.8 499.6,404.7 501.1,405.3 502.5,405.6 503.8,405.5 505.0,405.2 506.1,404.6 507.1,403.7 507.8,402.6 508.4,401.3 508.7,399.7" fill="#d0b334" stroke="#222222" stroke-width="0.8" stroke-linejoin="round" />
</g>
<g transform="translate(-1.40,-1.00)">
<polygon points="575.0,428.1 605.7,412.8 605.7,367.7 575.0,383.0" fill="#dc220e" stroke="#222222" stroke-width="0.8" stroke-linejoin="round" />
<polygon points="544.2,412.8 575.0,428.1 575.0,383.0 544.2,367.7" fill="#ab1909" stroke="#222222" stroke-width="0.8" stroke-linejoin="round" />
<polygon points="544.2,367.7 575.0,383.0 605.7,367.7 575.0,352.4" fill="#e4230f" stroke="#222222" stroke-width="0.8" stroke-linejoin="round" />
<polygon points="561.9,360.2 562.1,359.2 562.5,358.2 563.3,357.3 564.4,356.4 565.7,355.6 567.3,354.9 569.0,354.4 570.9,354.0 572.9,353.8 575.0,353.7 577.0,353.8 579.0,354.0 580.9,354.4 582.6,354.9 584.2,355.6 585.5,356.4 586.6,357.3 587.4,358.2 587.8,359.2 588.0,360.2 588.0,367.7 587.8,368.7 587.4,369.7 586.6,370.7 585.5,371.5 584.2,372.3 582.6,373.0 580.9,373.5 579.0,373.9 577.0,374.1 575.0,374.2 572.9,374.1 570.9,373.9 569.0,373.5 567.3,373.0 565.7,372.3 564.4,371.5 563.3,370.7 562.5,369.7 562.1,368.7 561.9,367.7" fill="#c81e0c" stroke="#222222" stroke-width="0.8" stroke-linejoin="round" />
<polygon points="584.2,364.8 585.5,364.0 586.6,363.1 587.4,362.2 587.8,361.2 588.0,360.2 587.8,359.2 587.4,358.2 586.6,357.3 585.5,356.4 584.2,355.6 582.6,354.9 580.9,354.4 579.0,354.0 577.0,353.8 575.0,353.7 572.9,353.8 570.9,354.0 569.0,354.4 567.3,354.9 565.7,355.6 564.4,356.4 563.3,357.3 562.5,358.2 562.1,359.2 561.9,360.2 562.1,361.2 562.5,362.2 563.3,363.1 564.4,364.0 565.7,364.8 567.3,365.5 569.0,366.0 570.9,366.4 572.9,366.6 575.0,366.7 577.0,366.6 579.0,366.4 580.9,366.0 582.6,365.5" fill="#e42812" stroke="#222222" stroke-width="0.8" stroke-linejoin="round" />
<polygon points="562.7,426.7 575.0,420.6 575.0,383.0 562.7,389.1" fill="#e8c935" stroke="#222222" stroke-width="0.8" stroke-linejoin="round" />
<polygon points="531.9,411.4 562.7,426.7 562.7,389.1 531.9,373.8" fill="#c8ab30" stroke="#222222" stroke-width="0.8" stroke-linejoin="round" />
<polygon points="531.9,373.8 562.7,389.1 575.0,383.0 544.2,367.7" fill="#fcdb36" stroke="#222222" stroke-width="0.8" stroke-linejoin="round" />
<polygon points="550.4,432.9 562.7,426.7 562.7,389.1 550.4,395.3" fill="#e8c935" stroke="#222222" stroke-width="0.8" stroke-linejoin="round" />
<polygon points="519.6,417.6 550.4,432.9 550.4,395.3 519.6,380.0" fill="#c8ab30" stroke="#222222" stroke-width="0.8" stroke-linejoin="round" />
<polygon points="519.6,380.0 550.4,395.3 562.7,389.1 531.9,373.8" fill="#fcdb36" stroke="#222222" stroke-width="0.8" stroke-linejoin="round" />
<polygon points="519.6,404.9 519.7,403.2 520.1,401.6 520.6,400.3 521.4,399.1 522.3,398.2 523.4,397.6 529.6,394.6 530.8,394.3 532.1,394.3 533.5,394.6 535.0,395.1 536.4,396.0 537.8,397.1 539.2,398.4 540.4,400.0 541.5,401.7 542.4,403.5 543.2,405.4 543.7,407.3 544.1,409.2 544.2,411.0 544.1,412.7 543.7,414.3 543.2,415.6 542.4,416.8 541.5,417.6 540.4,418.2 534.2,421.3 533.0,421.6 531.7,421.6 530.3,421.3 528.8,420.8 527.4,419.9 526.0,418.8 524.6,417.4 523.4,415.9 522.3,414.2 521.4,412.4 520.6,410.5 520.1,408.6 519.7,406.7" fill="#fee84a" stroke="#222222" stroke-width="0.8" stroke-linejoin="round" />
<polygon points="538.1,414.1 537.9,412.2 537.6,410.3 537.0,408.4 536.3,406.6 535.3,404.7 534.2,403.0 533.0,401.5 531.7,400.2 530.3,399.0 528.8,398.2 527.4,397.6 526.0,397.3 524.6,397.3 523.4,397.6 522.3,398.2 521.4,399.1 520.6,400.3 520.1,401.6 519.7,403.2 519.6,404.9 519.7,406.7 520.1,408.6 520.6,410.5 521.4,412.4 522.3,414.2 523.4,415.9 524.6,417.4 526.0,418.8 527.4,419.9 528.8,420.7 530.3,421.3 531.7,421.6 533.0,421.6 534.2,421.3 535.3,420.7 536.3,419.8 537.0,418.7 537.6,417.3 537.9,415.8" fill="#d0b334" stroke="#222222" stroke-width="0.8" stroke-linejoin="round" />
</g>
<g transform="translate(-1.00,-1.00)">
<polygon points="617.4,437.6 649.4,421.7 649.4,375.8 617.4,391.8" fill="#f3f3f3" stroke="#6a6a6a" stroke-width="0.8" stroke-linejoin="round" />
<polygon points="586.6,422.3 617.4,437.6 617.4,391.8 586.6,376.5" fill="#f3f3f3" stroke="#6a6a6a" stroke-width="0.8" stroke-linejoin="round" />
<polygon points="586.6,376.5 617.4,391.8 649.4,375.8 618.6,360.5" fill="#f3f3f3" stroke="#6a6a6a" stroke-width="0.8" stroke-linejoin="round" />
<polygon points="614.9,437.0 617.4,435.7 617.4,391.8 614.9,393.0" fill="#a2a6aa" stroke="#222222" stroke-width="0.8" stroke-linejoin="round" />
<polygon points="584.2,421.7 614.9,437.0 614.9,393.0 584.2,377.7" fill="#94989c" stroke="#222222" stroke-width="0.8" stroke-linejoin="round" />
<polygon points="584.2,377.7 614.9,393.0 617.4,391.8 586.6,376.5" fill="#afb3b7" stroke="#222222" stroke-width="0.8" stroke-linejoin="round" />
<polygon points="614.9,393.0 648.8,376.1 648.8,369.8 614.9,386.6" fill="#9ca0a4" stroke="#222222" stroke-width="0.8" stroke-linejoin="round" />
<polygon points="584.2,377.7 614.9,393.0 614.9,386.6 584.2,371.3" fill="#7d8185" stroke="#222222" stroke-width="0.8" stroke-linejoin="round" />
<polygon points="584.2,371.3 614.9,386.6 648.8,369.8 618.0,354.5" fill="#afb3b7" stroke="#222222" stroke-width="0.8" stroke-linejoin="round" />
<polygon points="606.5,366.0 606.7,365.0 607.1,364.0 607.9,363.0 609.0,362.2 610.3,361.4 611.9,360.7 613.6,360.2 615.5,359.8 617.5,359.6 619.5,359.5 621.6,359.6 623.6,359.8 625.5,360.2 627.2,360.7 628.8,361.4 630.1,362.2 631.2,363.0 631.9,364.0 632.4,365.0 632.6,366.0 632.6,369.0 632.4,370.0 631.9,371.0 631.2,371.9 630.1,372.8 628.8,373.6 627.2,374.2 625.5,374.8 623.6,375.2 621.6,375.4 619.5,375.5 617.5,375.4 615.5,375.2 613.6,374.8 611.9,374.2 610.3,373.6 609.0,372.8 607.9,371.9 607.1,371.0 606.7,370.0 606.5,369.0" fill="#d9d9d9" stroke="#222222" stroke-width="0.8" stroke-linejoin="round" />
<polygon points="628.8,370.6 630.1,369.8 631.2,368.9 631.9,368.0 632.4,367.0 632.6,366.0 632.4,365.0 631.9,364.0 631.2,363.0 630.1,362.2 628.8,361.4 627.2,360.7 625.5,360.2 623.6,359.8 621.6,359.6 619.5,359.5 617.5,359.6 615.5,359.8 613.6,360.2 611.9,360.7 610.3,361.4 609.0,362.2 607.9,363.0 607.1,364.0 606.7,365.0 606.5,366.0 606.7,367.0 607.1,368.0 607.9,368.9 609.0,369.8 610.3,370.6 611.9,371.2 613.6,371.8 615.5,372.2 617.5,372.4 619.5,372.5 621.6,372.4 623.6,372.2 625.5,371.8 627.2,371.2" fill="#f3f3f3" stroke="#222222" stroke-width="0.8" stroke-linejoin="round" />
<polygon points="591.9,450.3 615.8,438.4 615.8,393.3 591.9,405.2" fill="#ec8414" stroke="#222222" stroke-width="0.8" stroke-linejoin="round" />
<polygon points="561.1,435.0 591.9,450.3 591.9,405.2 561.1,389.9" fill="#e07a10" stroke="#222222" stroke-width="0.8" stroke-linejoin="round" />
<polygon points="561.1,389.9 591.9,405.2 615.8,393.3 585.1,378.0" fill="#f8921c" stroke="#222222" stroke-width="0.8" stroke-linejoin="round" />
<polygon points="572.1,385.8 572.2,384.7 572.7,383.7 573.5,382.8 574.5,381.9 575.9,381.2 577.4,380.5 579.2,380.0 581.1,379.6 583.1,379.3 585.1,379.3 587.1,379.3 589.1,379.6 591.0,380.0 592.8,380.5 594.3,381.2 595.7,381.9 596.7,382.8 597.5,383.7 598.0,384.7 598.1,385.8 598.1,393.3 598.0,394.3 597.5,395.3 596.7,396.2 595.7,397.1 594.3,397.9 592.8,398.5 591.0,399.1 589.1,399.4 587.1,399.7 585.1,399.8 583.1,399.7 581.1,399.4 579.2,399.1 577.4,398.5 575.9,397.9 574.5,397.1 573.5,396.2 572.7,395.3 572.2,394.3 572.1,393.3" fill="#e8820f" stroke="#222222" stroke-width="0.8" stroke-linejoin="round" />
<polygon points="594.3,390.3 595.7,389.6 596.7,388.7 597.5,387.8 598.0,386.8 598.1,385.8 598.0,384.7 597.5,383.7 596.7,382.8 595.7,381.9 594.3,381.2 592.8,380.5 591.0,380.0 589.1,379.6 587.1,379.3 585.1,379.3 583.1,379.3 581.1,379.6 579.2,380.0 577.4,380.5 575.9,381.2 574.5,381.9 573.5,382.8 572.7,383.7 572.2,384.7 572.1,385.8 572.2,386.8 572.7,387.8 573.5,388.7 574.5,389.6 575.9,390.3 577.4,391.0 579.2,391.5 581.1,391.9 583.1,392.2 585.1,392.2 587.1,392.2 589.1,391.9 591.0,391.5 592.8,391.0" fill="#f7961f" stroke="#222222" stroke-width="0.8" stroke-linejoin="round" />
<polygon points="579.6,448.9 591.9,442.8 591.9,405.2 579.6,411.3" fill="#e8c935" stroke="#222222" stroke-width="0.8" stroke-linejoin="round" />
<polygon points="548.8,433.6 579.6,448.9 579.6,411.3 548.8,396.0" fill="#c8ab30" stroke="#222222" stroke-width="0.8" stroke-linejoin="round" />
<polygon points="548.8,396.0 579.6,411.3 591.9,405.2 561.1,389.9" fill="#fcdb36" stroke="#222222" stroke-width="0.8" stroke-linejoin="round" />
<polygon points="548.8,420.9 548.9,419.2 549.3,417.7 549.8,416.3 550.6,415.2 551.5,414.3 552.6,413.7 558.8,410.7 560.0,410.3 561.3,410.3 562.7,410.6 564.2,411.2 565.6,412.1 567.0,413.2 568.4,414.5 569.6,416.0 570.7,417.7 571.7,419.6 572.4,421.4 573.0,423.4 573.3,425.2 573.4,427.1 573.3,428.8 573.0,430.3 572.4,431.7 571.7,432.8 570.7,433.7 569.6,434.3 563.5,437.4 562.2,437.7 560.9,437.7 559.5,437.4 558.0,436.8 556.6,436.0 555.2,434.8 553.8,433.5 552.6,432.0 551.5,430.3 550.6,428.5 549.8,426.6 549.3,424.7 548.9,422.8" fill="#fee84a" stroke="#222222" stroke-width="0.8" stroke-linejoin="round" />
<polygon points="567.3,430.1 567.1,428.3 566.8,426.4 566.3,424.5 565.5,422.6 564.6,420.8 563.5,419.1 562.2,417.6 560.9,416.2 559.5,415.1 558.0,414.3 556.6,413.7 555.2,413.4 553.8,413.4 552.6,413.7 551.5,414.3 550.6,415.2 549.8,416.3 549.3,417.7 548.9,419.2 548.8,420.9 548.9,422.8 549.3,424.7 549.8,426.6 550.6,428.5 551.5,430.3 552.6,432.0 553.8,433.5 555.2,434.8 556.6,436.0 558.0,436.8 559.5,437.4 560.9,437.7 562.2,437.7 563.5,437.4 564.6,436.8 565.5,435.9 566.3,434.7 566.8,433.4 567.1,431.8" fill="#d0b334" stroke="#222222" stroke-width="0.8" stroke-linejoin="round" />
</g>
<g transform="translate(-0.60,-0.60)">
<polygon points="621.1,466.4 651.8,451.1 651.8,406.0 621.1,421.3" fill="#dc220e" stroke="#222222" stroke-width="0.8" stroke-linejoin="round" />
<polygon points="590.3,451.1 621.1,466.4 621.1,421.3 590.3,406.0" fill="#ab1909" stroke="#222222" stroke-width="0.8" stroke-linejoin="round" />
<polygon points="590.3,406.0 621.1,421.3 651.8,406.0 621.1,390.7" fill="#e4230f" stroke="#222222" stroke-width="0.8" stroke-linejoin="round" />
<polygon points="608.0,398.4 608.2,397.4 608.7,396.4 609.5,395.5 610.5,394.6 611.9,393.9 613.4,393.2 615.2,392.7 617.0,392.3 619.0,392.0 621.1,392.0 623.1,392.0 625.1,392.3 627.0,392.7 628.7,393.2 630.3,393.9 631.6,394.6 632.7,395.5 633.5,396.4 634.0,397.4 634.1,398.4 634.1,406.0 634.0,407.0 633.5,408.0 632.7,408.9 631.6,409.8 630.3,410.6 628.7,411.2 627.0,411.8 625.1,412.1 623.1,412.4 621.1,412.5 619.0,412.4 617.0,412.1 615.2,411.8 613.4,411.2 611.9,410.6 610.5,409.8 609.5,408.9 608.7,408.0 608.2,407.0 608.0,406.0" fill="#c81e0c" stroke="#222222" stroke-width="0.8" stroke-linejoin="round" />
<polygon points="630.3,403.0 631.6,402.3 632.7,401.4 633.5,400.5 634.0,399.5 634.1,398.5 634.0,397.4 633.5,396.4 632.7,395.5 631.6,394.6 630.3,393.9 628.7,393.2 627.0,392.7 625.1,392.3 623.1,392.0 621.1,392.0 619.0,392.0 617.0,392.3 615.2,392.7 613.4,393.2 611.9,393.9 610.5,394.6 609.5,395.5 608.7,396.4 608.2,397.4 608.0,398.5 608.2,399.5 608.7,400.5 609.5,401.4 610.5,402.3 611.9,403.0 613.4,403.7 615.2,404.2 617.0,404.6 619.0,404.9 621.1,404.9 623.1,404.9 625.1,404.6 627.0,404.2 628.7,403.7" fill="#e42812" stroke="#222222" stroke-width="0.8" stroke-linejoin="round" />
<polygon points="608.8,465.0 621.1,458.9 621.1,421.3 608.8,427.4" fill="#e8c935" stroke="#222222" stroke-width="0.8" stroke-linejoin="round" />
<polygon points="578.0,449.7 608.8,465.0 608.8,427.4 578.0,412.1" fill="#c8ab30" stroke="#222222" stroke-width="0.8" stroke-linejoin="round" />
<polygon points="578.0,412.1 608.8,427.4 621.1,421.3 590.3,406.0" fill="#fcdb36" stroke="#222222" stroke-width="0.8" stroke-linejoin="round" />
<polygon points="578.0,437.0 578.1,435.3 578.5,433.7 579.0,432.4 579.8,431.3 580.7,430.4 581.8,429.8 588.0,426.7 589.2,426.4 590.5,426.4 592.0,426.7 593.4,427.3 594.8,428.1 596.3,429.2 597.6,430.6 598.8,432.1 599.9,433.8 600.9,435.6 601.6,437.5 602.2,439.4 602.5,441.3 602.6,443.1 602.5,444.8 602.2,446.4 601.6,447.8 600.9,448.9 599.9,449.8 598.8,450.4 592.7,453.4 591.4,453.7 590.1,453.7 588.7,453.5 587.2,452.9 585.8,452.0 584.4,450.9 583.1,449.6 581.8,448.0 580.7,446.3 579.8,444.5 579.0,442.6 578.5,440.7 578.1,438.8" fill="#fee84a" stroke="#222222" stroke-width="0.8" stroke-linejoin="round" />
<polygon points="596.5,446.2 596.4,444.4 596.0,442.5 595.5,440.6 594.7,438.7 593.8,436.9 592.7,435.2 591.4,433.6 590.1,432.3 588.7,431.2 587.2,430.3 585.8,429.7 584.4,429.5 583.1,429.5 581.8,429.8 580.7,430.4 579.8,431.3 579.0,432.4 578.5,433.7 578.1,435.3 578.0,437.0 578.1,438.8 578.5,440.7 579.0,442.6 579.8,444.5 580.7,446.3 581.8,448.0 583.1,449.6 584.4,450.9 585.8,452.0 587.2,452.9 588.7,453.5 590.1,453.7 591.4,453.7 592.7,453.4 593.8,452.8 594.7,451.9 595.5,450.8 596.0,449.5 596.4,447.9" fill="#d0b334" stroke="#222222" stroke-width="0.8" stroke-linejoin="round" />
</g>
<g transform="translate(0.00,0.00)">
<polygon points="663.5,475.9 695.5,460.0 695.5,414.1 663.5,430.0" fill="#f3f3f3" stroke="#6a6a6a" stroke-width="0.8" stroke-linejoin="round" />
<polygon points="632.8,460.6 663.5,475.9 663.5,430.0 632.8,414.7" fill="#f3f3f3" stroke="#6a6a6a" stroke-width="0.8" stroke-linejoin="round" />
<polygon points="632.8,414.7 663.5,430.0 695.5,414.1 664.7,398.8" fill="#f3f3f3" stroke="#6a6a6a" stroke-width="0.8" stroke-linejoin="round" />
<polygon points="661.1,475.2 663.5,474.0 663.5,430.0 661.1,431.2" fill="#a2a6aa" stroke="#222222" stroke-width="0.8" stroke-linejoin="round" />
<polygon points="630.3,459.9 661.1,475.2 661.1,431.2 630.3,415.9" fill="#94989c" stroke="#222222" stroke-width="0.8" stroke-linejoin="round" />
<polygon points="630.3,415.9 661.1,431.2 663.5,430.0 632.8,414.7" fill="#afb3b7" stroke="#222222" stroke-width="0.8" stroke-linejoin="round" />
<polygon points="661.1,431.2 694.9,414.4 694.9,408.0 661.1,424.8" fill="#9ca0a4" stroke="#222222" stroke-width="0.8" stroke-linejoin="round" />
<polygon points="630.3,415.9 661.1,431.2 661.1,424.8 630.3,409.5" fill="#7d8185" stroke="#222222" stroke-width="0.8" stroke-linejoin="round" />
<polygon points="630.3,409.5 661.1,424.8 694.9,408.0 664.1,392.7" fill="#afb3b7" stroke="#222222" stroke-width="0.8" stroke-linejoin="round" />
<polygon points="652.6,404.2 652.8,403.2 653.3,402.2 654.0,401.3 655.1,400.4 656.4,399.6 658.0,399.0 659.7,398.4 661.6,398.1 663.6,397.8 665.7,397.7 667.7,397.8 669.7,398.1 671.6,398.4 673.3,399.0 674.9,399.6 676.2,400.4 677.3,401.3 678.1,402.2 678.5,403.2 678.7,404.2 678.7,407.2 678.5,408.3 678.1,409.2 677.3,410.2 676.2,411.1 674.9,411.8 673.3,412.5 671.6,413.0 669.7,413.4 667.7,413.7 665.7,413.7 663.6,413.7 661.6,413.4 659.7,413.0 658.0,412.5 656.4,411.8 655.1,411.1 654.0,410.2 653.3,409.2 652.8,408.3 652.6,407.2" fill="#d9d9d9" stroke="#222222" stroke-width="0.8" stroke-linejoin="round" />
<polygon points="674.9,408.8 676.2,408.0 677.3,407.2 678.1,406.2 678.5,405.2 678.7,404.2 678.5,403.2 678.1,402.2 677.3,401.3 676.2,400.4 674.9,399.6 673.3,399.0 671.6,398.4 669.7,398.1 667.7,397.8 665.7,397.7 663.6,397.8 661.6,398.1 659.7,398.4 658.0,399.0 656.4,399.6 655.1,400.4 654.0,401.3 653.3,402.2 652.8,403.2 652.6,404.2 652.8,405.2 653.3,406.2 654.0,407.2 655.1,408.0 656.4,408.8 658.0,409.5 659.7,410.0 661.6,410.4 663.6,410.6 665.7,410.7 667.7,410.6 669.7,410.4 671.6,410.0 673.3,409.5" fill="#f3f3f3" stroke="#222222" stroke-width="0.8" stroke-linejoin="round" />
<polygon points="650.0,475.1 662.0,469.1 662.0,431.5 650.0,437.5" fill="#e8c935" stroke="#222222" stroke-width="0.8" stroke-linejoin="round" />
<polygon points="619.2,459.8 650.0,475.1 650.0,437.5 619.2,422.2" fill="#c8ab30" stroke="#222222" stroke-width="0.8" stroke-linejoin="round" />
<polygon points="619.2,422.2 650.0,437.5 662.0,431.5 631.2,416.2" fill="#fcdb36" stroke="#222222" stroke-width="0.8" stroke-linejoin="round" />
<polygon points="637.7,481.2 650.0,475.1 650.0,437.5 637.7,443.6" fill="#e8c935" stroke="#222222" stroke-width="0.8" stroke-linejoin="round" />
<polygon points="606.9,465.9 637.7,481.2 637.7,443.6 606.9,428.3" fill="#c8ab30" stroke="#222222" stroke-width="0.8" stroke-linejoin="round" />
<polygon points="606.9,428.3 637.7,443.6 650.0,437.5 619.2,422.2" fill="#fcdb36" stroke="#222222" stroke-width="0.8" stroke-linejoin="round" />
<polygon points="606.9,453.2 607.0,451.5 607.4,450.0 607.9,448.6 608.7,447.5 609.6,446.6 610.7,446.0 616.9,442.9 618.1,442.6 619.5,442.6 620.9,442.9 622.3,443.5 623.7,444.3 625.2,445.4 626.5,446.8 627.7,448.3 628.8,450.0 629.8,451.8 630.5,453.7 631.1,455.6 631.4,457.5 631.5,459.3 631.4,461.1 631.1,462.6 630.5,464.0 629.8,465.1 628.8,466.0 627.7,466.6 621.6,469.6 620.3,470.0 619.0,470.0 617.6,469.7 616.2,469.1 614.7,468.2 613.3,467.1 612.0,465.8 610.7,464.2 609.6,462.5 608.7,460.7 607.9,458.8 607.4,456.9 607.0,455.0" fill="#fee84a" stroke="#222222" stroke-width="0.8" stroke-linejoin="round" />
<polygon points="625.4,462.4 625.3,460.6 624.9,458.7 624.4,456.8 623.6,454.9 622.7,453.1 621.6,451.4 620.3,449.9 619.0,448.5 617.6,447.4 616.2,446.5 614.7,446.0 613.3,445.7 612.0,445.7 610.7,446.0 609.6,446.6 608.7,447.5 607.9,448.6 607.4,450.0 607.0,451.5 606.9,453.2 607.0,455.0 607.4,456.9 607.9,458.8 608.7,460.7 609.6,462.5 610.7,464.2 612.0,465.8 613.3,467.1 614.7,468.2 616.2,469.1 617.6,469.7 619.0,470.0 620.3,470.0 621.6,469.6 622.7,469.0 623.6,468.2 624.4,467.0 624.9,465.7 625.3,464.1" fill="#d0b334" stroke="#222222" stroke-width="0.8" stroke-linejoin="round" />
</g>
<g transform="translate(0.00,0.00)">
<polygon points="667.2,504.6 698.0,489.3 698.0,444.2 667.2,459.5" fill="#dc220e" stroke="#222222" stroke-width="0.8" stroke-linejoin="round" />
<polygon points="636.5,489.3 667.2,504.6 667.2,459.5 636.5,444.2" fill="#ab1909" stroke="#222222" stroke-width="0.8" stroke-linejoin="round" />
<polygon points="636.5,444.2 667.2,459.5 698.0,444.2 667.2,428.9" fill="#e4230f" stroke="#222222" stroke-width="0.8" stroke-linejoin="round" />
<polygon points="654.2,436.7 654.3,435.7 654.8,434.7 655.6,433.8 656.6,432.9 658.0,432.1 659.5,431.4 661.3,430.9 663.2,430.5 665.2,430.3 667.2,430.2 669.2,430.3 671.2,430.5 673.1,430.9 674.9,431.4 676.4,432.1 677.8,432.9 678.8,433.8 679.6,434.7 680.1,435.7 680.2,436.7 680.2,444.2 680.1,445.2 679.6,446.2 678.8,447.2 677.8,448.0 676.4,448.8 674.9,449.5 673.1,450.0 671.2,450.4 669.2,450.6 667.2,450.7 665.2,450.6 663.2,450.4 661.3,450.0 659.5,449.5 658.0,448.8 656.6,448.0 655.6,447.2 654.8,446.2 654.3,445.2 654.2,444.2" fill="#c81e0c" stroke="#222222" stroke-width="0.8" stroke-linejoin="round" />
<polygon points="676.4,441.3 677.8,440.5 678.8,439.6 679.6,438.7 680.1,437.7 680.2,436.7 680.1,435.7 679.6,434.7 678.8,433.8 677.8,432.9 676.4,432.1 674.9,431.4 673.1,430.9 671.2,430.5 669.2,430.3 667.2,430.2 665.2,430.3 663.2,430.5 661.3,430.9 659.5,431.4 658.0,432.1 656.6,432.9 655.6,433.8 654.8,434.7 654.3,435.7 654.2,436.7 654.3,437.7 654.8,438.7 655.6,439.6 656.6,440.5 658.0,441.3 659.5,442.0 661.3,442.5 663.2,442.9 665.2,443.1 667.2,443.2 669.2,443.1 671.2,442.9 673.1,442.5 674.9,442.0" fill="#e42812" stroke="#222222" stroke-width="0.8" stroke-linejoin="round" />
<polygon points="636.5,469.1 636.6,467.4 636.9,465.9 637.5,464.5 638.2,463.4 639.2,462.5 640.3,461.9 646.4,458.8 647.6,458.5 649.0,458.5 650.4,458.8 651.8,459.4 653.3,460.2 654.7,461.4 656.0,462.7 657.2,464.2 658.3,465.9 659.3,467.8 660.0,469.6 660.6,471.6 660.9,473.4 661.0,475.3 660.9,477.0 660.6,478.5 660.0,479.9 659.3,481.0 658.3,481.9 657.2,482.5 651.1,485.6 649.9,485.9 648.5,485.9 647.1,485.6 645.7,485.0 644.2,484.2 642.8,483.0 641.5,481.7 640.3,480.2 639.2,478.5 638.2,476.6 637.5,474.8 636.9,472.9 636.6,471.0" fill="#f03420" stroke="#1a1a1a" stroke-width="0.8" stroke-linejoin="round" />
<polygon points="654.9,478.3 654.8,476.5 654.4,474.6 653.9,472.7 653.1,470.8 652.2,469.0 651.1,467.3 649.9,465.8 648.5,464.4 647.1,463.3 645.7,462.4 644.2,461.9 642.8,461.6 641.5,461.6 640.3,461.9 639.2,462.5 638.2,463.4 637.5,464.5 636.9,465.9 636.6,467.4 636.5,469.1 636.6,471.0 636.9,472.9 637.5,474.8 638.2,476.6 639.2,478.5 640.3,480.2 641.5,481.7 642.8,483.0 644.2,484.2 645.7,485.0 647.1,485.6 648.5,485.9 649.9,485.9 651.1,485.6 652.2,485.0 653.1,484.1 653.9,482.9 654.4,481.6 654.8,480.0" fill="#b81c0c" stroke="#1a1a1a" stroke-width="0.8" stroke-linejoin="round" />
<polygon points="652.1,476.9 652.1,475.7 651.8,474.3 651.4,473.0 650.9,471.7 650.2,470.4 649.5,469.2 648.6,468.2 647.7,467.2 646.7,466.4 645.7,465.8 644.7,465.4 643.7,465.2 642.7,465.2 641.9,465.5 641.1,465.9 640.5,466.5 639.9,467.3 639.5,468.2 639.3,469.3 639.2,470.5 639.3,471.8 639.5,473.1 639.9,474.5 640.5,475.8 641.1,477.0 641.9,478.2 642.7,479.3 643.7,480.2 644.7,481.0 645.7,481.6 646.7,482.0 647.7,482.2 648.6,482.2 649.5,482.0 650.2,481.6 650.9,481.0 651.4,480.2 651.8,479.2 652.1,478.1" fill="#ec2a16" stroke="#1a1a1a" stroke-width="0.8" stroke-linejoin="round" />
<polygon points="654.6,475.7 654.5,474.4 654.3,473.1 653.9,471.8 653.4,470.5 652.7,469.2 651.9,468.0 651.1,466.9 650.1,466.0 649.1,465.2 648.1,464.6 647.1,464.2 646.1,464.0 645.2,464.0 644.3,464.2 643.6,464.7 642.9,465.3 642.4,466.1 642.0,467.0 641.8,468.1 641.7,469.3 641.8,470.6 642.0,471.9 642.4,473.2 642.9,474.5 643.6,475.8 644.3,477.0 645.2,478.1 646.1,479.0 647.1,479.8 648.1,480.4 649.1,480.8 650.1,481.0 651.1,481.0 651.9,480.8 652.7,480.4 653.4,479.7 653.9,479.0 654.3,478.0 654.5,476.9" fill="none" stroke="#600c04" stroke-width="0.7" stroke-opacity="0.6"/>
</g>
<rect x="7.00" y="673.30" width="21.70" height="7.6" fill="url(#gr)" stroke="#222" stroke-width="0.9"/>
<rect x="0.00" y="638.00" width="35.72" height="35.30" fill="#c8190b" stroke="#222" stroke-width="0.9"/>
<circle cx="17.86" cy="656.00" r="11.20" fill="#c8190b" stroke="#3a0a04" stroke-width="0.9"/>
<text x="17.9" y="656.0" font-family="Liberation Sans, sans-serif" font-style="italic" font-size="7.5" text-anchor="middle" textLength="16" lengthAdjust="spacingAndGlyphs" fill="none" stroke="#9a1408" stroke-width="0.45" stroke-opacity="0.45" transform="rotate(0 17.9 656.0)" dominant-baseline="central">LEGO</text>
<rect x="42.72" y="675.00" width="21.70" height="7.6" fill="url(#gy)" stroke="#222" stroke-width="0.9"/>
<rect x="35.72" y="619.80" width="35.72" height="41.80" fill="#9ea2a6" stroke="#222" stroke-width="0.9"/>
<circle cx="53.58" cy="637.80" r="11.20" fill="#f5f5f5" stroke="#222" stroke-width="0.9"/>
<text x="53.6" y="637.8" font-family="Liberation Sans, sans-serif" font-style="italic" font-size="7.5" text-anchor="middle" textLength="16" lengthAdjust="spacingAndGlyphs" fill="none" stroke="#c4c4c4" stroke-width="0.45" stroke-opacity="0.5" transform="rotate(-90 53.6 637.8)" dominant-baseline="central">LEGO</text>
<rect x="35.72" y="661.00" width="35.72" height="14.00" fill="#f1ca3b" stroke="#222" stroke-width="0.9"/>
<rect x="78.44" y="677.00" width="21.70" height="7.6" fill="url(#gy)" stroke="#222" stroke-width="0.9"/>
<rect x="71.44" y="620.00" width="35.72" height="30.40" fill="#f98b1c" stroke="#222" stroke-width="0.9"/>
<circle cx="89.30" cy="638.00" r="11.20" fill="#f98b1c" stroke="#3a2004" stroke-width="0.9"/>
<text x="89.3" y="638.0" font-family="Liberation Sans, sans-serif" font-style="italic" font-size="7.5" text-anchor="middle" textLength="16" lengthAdjust="spacingAndGlyphs" fill="none" stroke="#d07418" stroke-width="0.45" stroke-opacity="0.5" transform="rotate(-90 89.3 638.0)" dominant-baseline="central">LEGO</text>
<rect x="71.44" y="650.40" width="35.72" height="13.30" fill="#f1ca3b" stroke="#222" stroke-width="0.9"/>
<rect x="71.44" y="663.70" width="35.72" height="13.30" fill="#f1ca3b" stroke="#222" stroke-width="0.9"/>
<rect x="114.16" y="679.40" width="21.70" height="7.6" fill="url(#gg)" stroke="#222" stroke-width="0.9"/>
<rect x="107.16" y="637.90" width="35.72" height="41.50" fill="#9ea2a6" stroke="#222" stroke-width="0.9"/>
<circle cx="125.02" cy="655.90" r="11.20" fill="#f5f5f5" stroke="#222" stroke-width="0.9"/>
<text x="125.0" y="655.9" font-family="Liberation Sans, sans-serif" font-style="italic" font-size="7.5" text-anchor="middle" textLength="16" lengthAdjust="spacingAndGlyphs" fill="none" stroke="#c4c4c4" stroke-width="0.45" stroke-opacity="0.5" transform="rotate(-90 125.0 655.9)" dominant-baseline="central">LEGO</text>
<rect x="149.88" y="681.00" width="21.70" height="7.6" fill="url(#gy)" stroke="#222" stroke-width="0.9"/>
<rect x="142.88" y="637.90" width="35.72" height="29.10" fill="#f98b1c" stroke="#222" stroke-width="0.9"/>
<circle cx="160.74" cy="655.90" r="11.20" fill="#f98b1c" stroke="#3a2004" stroke-width="0.9"/>
<text x="160.7" y="655.9" font-family="Liberation Sans, sans-serif" font-style="italic" font-size="7.5" text-anchor="middle" textLength="16" lengthAdjust="spacingAndGlyphs" fill="none" stroke="#d07418" stroke-width="0.45" stroke-opacity="0.5" transform="rotate(-90 160.7 655.9)" dominant-baseline="central">LEGO</text>
<rect x="142.88" y="667.00" width="35.72" height="14.00" fill="#f1ca3b" stroke="#222" stroke-width="0.9"/>
<rect x="185.60" y="682.70" width="21.70" height="7.6" fill="url(#gy)" stroke="#222" stroke-width="0.9"/>
<rect x="178.60" y="625.70" width="35.72" height="29.20" fill="#f98b1c" stroke="#222" stroke-width="0.9"/>
<circle cx="196.46" cy="643.70" r="11.20" fill="#f98b1c" stroke="#3a2004" stroke-width="0.9"/>
<text x="196.5" y="643.7" font-family="Liberation Sans, sans-serif" font-style="italic" font-size="7.5" text-anchor="middle" textLength="16" lengthAdjust="spacingAndGlyphs" fill="none" stroke="#d07418" stroke-width="0.45" stroke-opacity="0.5" transform="rotate(-90 196.5 643.7)" dominant-baseline="central">LEGO</text>
<rect x="178.60" y="584.40" width="35.72" height="41.30" fill="#9ea2a6" stroke="#222" stroke-width="0.9"/>
<circle cx="196.46" cy="602.40" r="11.20" fill="#f5f5f5" stroke="#222" stroke-width="0.9"/>
<text x="196.5" y="602.4" font-family="Liberation Sans, sans-serif" font-style="italic" font-size="7.5" text-anchor="middle" textLength="16" lengthAdjust="spacingAndGlyphs" fill="none" stroke="#c4c4c4" stroke-width="0.45" stroke-opacity="0.5" transform="rotate(-90 196.5 602.4)" dominant-baseline="central">LEGO</text>
<rect x="178.60" y="654.90" width="35.72" height="13.90" fill="#f1ca3b" stroke="#222" stroke-width="0.9"/>
<rect x="178.60" y="668.80" width="35.72" height="13.90" fill="#f1ca3b" stroke="#222" stroke-width="0.9"/>
<rect x="221.32" y="684.50" width="21.70" height="7.6" fill="url(#gy)" stroke="#222" stroke-width="0.9"/>
<rect x="214.32" y="620.00" width="35.72" height="35.60" fill="#c8190b" stroke="#222" stroke-width="0.9"/>
<circle cx="232.18" cy="638.00" r="11.20" fill="#c8190b" stroke="#3a0a04" stroke-width="0.9"/>
<text x="232.2" y="638.0" font-family="Liberation Sans, sans-serif" font-style="italic" font-size="7.5" text-anchor="middle" textLength="16" lengthAdjust="spacingAndGlyphs" fill="none" stroke="#9a1408" stroke-width="0.45" stroke-opacity="0.45" transform="rotate(0 232.2 638.0)" dominant-baseline="central">LEGO</text>
<rect x="214.32" y="656.70" width="35.72" height="13.90" fill="#f1ca3b" stroke="#222" stroke-width="0.9"/>
<rect x="214.32" y="670.60" width="35.72" height="13.90" fill="#f1ca3b" stroke="#222" stroke-width="0.9"/>
<rect x="257.04" y="685.90" width="21.70" height="7.6" fill="url(#gy)" stroke="#222" stroke-width="0.9"/>
<rect x="250.04" y="643.30" width="35.72" height="28.60" fill="#f98b1c" stroke="#222" stroke-width="0.9"/>
<circle cx="267.90" cy="661.30" r="11.20" fill="#f98b1c" stroke="#3a2004" stroke-width="0.9"/>
<text x="267.9" y="661.3" font-family="Liberation Sans, sans-serif" font-style="italic" font-size="7.5" text-anchor="middle" textLength="16" lengthAdjust="spacingAndGlyphs" fill="none" stroke="#d07418" stroke-width="0.45" stroke-opacity="0.5" transform="rotate(-90 267.9 661.3)" dominant-baseline="central">LEGO</text>
<rect x="250.04" y="602.30" width="35.72" height="41.00" fill="#9ea2a6" stroke="#222" stroke-width="0.9"/>
<circle cx="267.90" cy="620.30" r="11.20" fill="#f5f5f5" stroke="#222" stroke-width="0.9"/>
<text x="267.9" y="620.3" font-family="Liberation Sans, sans-serif" font-style="italic" font-size="7.5" text-anchor="middle" textLength="16" lengthAdjust="spacingAndGlyphs" fill="none" stroke="#c4c4c4" stroke-width="0.45" stroke-opacity="0.5" transform="rotate(-90 267.9 620.3)" dominant-baseline="central">LEGO</text>
<rect x="250.04" y="671.90" width="35.72" height="14.00" fill="#f1ca3b" stroke="#222" stroke-width="0.9"/>
<rect x="292.76" y="687.70" width="21.70" height="7.6" fill="url(#gy)" stroke="#222" stroke-width="0.9"/>
<rect x="285.76" y="637.80" width="35.72" height="35.90" fill="#c8190b" stroke="#222" stroke-width="0.9"/>
<circle cx="303.62" cy="655.80" r="11.20" fill="#c8190b" stroke="#3a0a04" stroke-width="0.9"/>
<text x="303.6" y="655.8" font-family="Liberation Sans, sans-serif" font-style="italic" font-size="7.5" text-anchor="middle" textLength="16" lengthAdjust="spacingAndGlyphs" fill="none" stroke="#9a1408" stroke-width="0.45" stroke-opacity="0.45" transform="rotate(0 303.6 655.8)" dominant-baseline="central">LEGO</text>
<rect x="285.76" y="673.70" width="35.72" height="14.00" fill="#f1ca3b" stroke="#222" stroke-width="0.9"/>
<rect x="328.48" y="689.50" width="21.70" height="7.6" fill="url(#gy)" stroke="#222" stroke-width="0.9"/>
<rect x="321.48" y="619.80" width="35.72" height="41.20" fill="#9ea2a6" stroke="#222" stroke-width="0.9"/>
<circle cx="339.34" cy="637.80" r="11.20" fill="#f5f5f5" stroke="#222" stroke-width="0.9"/>
<text x="339.3" y="637.8" font-family="Liberation Sans, sans-serif" font-style="italic" font-size="7.5" text-anchor="middle" textLength="16" lengthAdjust="spacingAndGlyphs" fill="none" stroke="#c4c4c4" stroke-width="0.45" stroke-opacity="0.5" transform="rotate(-90 339.3 637.8)" dominant-baseline="central">LEGO</text>
<rect x="321.48" y="661.50" width="35.72" height="14.00" fill="#f1ca3b" stroke="#222" stroke-width="0.9"/>
<rect x="321.48" y="675.50" width="35.72" height="14.00" fill="#f1ca3b" stroke="#222" stroke-width="0.9"/>
<rect x="364.20" y="691.00" width="21.70" height="7.6" fill="url(#gr)" stroke="#222" stroke-width="0.9"/>
<rect x="357.20" y="655.20" width="35.72" height="35.80" fill="#c8190b" stroke="#222" stroke-width="0.9"/>
<circle cx="375.06" cy="673.20" r="11.20" fill="#c8190b" stroke="#3a0a04" stroke-width="0.9"/>
<text x="375.1" y="673.2" font-family="Liberation Sans, sans-serif" font-style="italic" font-size="7.5" text-anchor="middle" textLength="16" lengthAdjust="spacingAndGlyphs" fill="none" stroke="#9a1408" stroke-width="0.45" stroke-opacity="0.45" transform="rotate(0 375.1 673.2)" dominant-baseline="central">LEGO</text>
<rect x="399.92" y="693.30" width="21.70" height="7.6" fill="url(#gy)" stroke="#222" stroke-width="0.9"/>
<rect x="392.92" y="637.80" width="35.72" height="41.50" fill="#9ea2a6" stroke="#222" stroke-width="0.9"/>
<circle cx="410.78" cy="655.80" r="11.20" fill="#f5f5f5" stroke="#222" stroke-width="0.9"/>
<text x="410.8" y="655.8" font-family="Liberation Sans, sans-serif" font-style="italic" font-size="7.5" text-anchor="middle" textLength="16" lengthAdjust="spacingAndGlyphs" fill="none" stroke="#c4c4c4" stroke-width="0.45" stroke-opacity="0.5" transform="rotate(-90 410.8 655.8)" dominant-baseline="central">LEGO</text>
<rect x="392.92" y="679.30" width="35.72" height="14.00" fill="#f1ca3b" stroke="#222" stroke-width="0.9"/>
<rect x="435.64" y="694.50" width="21.70" height="7.6" fill="url(#gy)" stroke="#222" stroke-width="0.9"/>
<rect x="428.64" y="637.80" width="35.72" height="29.30" fill="#f98b1c" stroke="#222" stroke-width="0.9"/>
<circle cx="446.50" cy="655.80" r="11.20" fill="#f98b1c" stroke="#3a2004" stroke-width="0.9"/>
<text x="446.5" y="655.8" font-family="Liberation Sans, sans-serif" font-style="italic" font-size="7.5" text-anchor="middle" textLength="16" lengthAdjust="spacingAndGlyphs" fill="none" stroke="#d07418" stroke-width="0.45" stroke-opacity="0.5" transform="rotate(-90 446.5 655.8)" dominant-baseline="central">LEGO</text>
<rect x="428.64" y="667.10" width="35.72" height="13.70" fill="#f1ca3b" stroke="#222" stroke-width="0.9"/>
<rect x="428.64" y="680.80" width="35.72" height="13.70" fill="#f1ca3b" stroke="#222" stroke-width="0.9"/>
<rect x="471.36" y="697.00" width="21.70" height="7.6" fill="url(#gg)" stroke="#222" stroke-width="0.9"/>
<rect x="464.36" y="655.50" width="35.72" height="41.50" fill="#9ea2a6" stroke="#222" stroke-width="0.9"/>
<circle cx="482.22" cy="673.50" r="11.20" fill="#f5f5f5" stroke="#222" stroke-width="0.9"/>
<text x="482.2" y="673.5" font-family="Liberation Sans, sans-serif" font-style="italic" font-size="7.5" text-anchor="middle" textLength="16" lengthAdjust="spacingAndGlyphs" fill="none" stroke="#c4c4c4" stroke-width="0.45" stroke-opacity="0.5" transform="rotate(-90 482.2 673.5)" dominant-baseline="central">LEGO</text>
<rect x="507.08" y="698.60" width="21.70" height="7.6" fill="url(#gy)" stroke="#222" stroke-width="0.9"/>
<rect x="500.08" y="655.50" width="35.72" height="29.10" fill="#f98b1c" stroke="#222" stroke-width="0.9"/>
<circle cx="517.94" cy="673.50" r="11.20" fill="#f98b1c" stroke="#3a2004" stroke-width="0.9"/>
<text x="517.9" y="673.5" font-family="Liberation Sans, sans-serif" font-style="italic" font-size="7.5" text-anchor="middle" textLength="16" lengthAdjust="spacingAndGlyphs" fill="none" stroke="#d07418" stroke-width="0.45" stroke-opacity="0.5" transform="rotate(-90 517.9 673.5)" dominant-baseline="central">LEGO</text>
<rect x="500.08" y="684.60" width="35.72" height="14.00" fill="#f1ca3b" stroke="#222" stroke-width="0.9"/>
<rect x="542.80" y="700.30" width="21.70" height="7.6" fill="url(#gy)" stroke="#222" stroke-width="0.9"/>
<rect x="535.80" y="643.30" width="35.72" height="29.20" fill="#f98b1c" stroke="#222" stroke-width="0.9"/>
<circle cx="553.66" cy="661.30" r="11.20" fill="#f98b1c" stroke="#3a2004" stroke-width="0.9"/>
<text x="553.7" y="661.3" font-family="Liberation Sans, sans-serif" font-style="italic" font-size="7.5" text-anchor="middle" textLength="16" lengthAdjust="spacingAndGlyphs" fill="none" stroke="#d07418" stroke-width="0.45" stroke-opacity="0.5" transform="rotate(-90 553.7 661.3)" dominant-baseline="central">LEGO</text>
<rect x="535.80" y="602.30" width="35.72" height="41.00" fill="#9ea2a6" stroke="#222" stroke-width="0.9"/>
<circle cx="553.66" cy="620.30" r="11.20" fill="#f5f5f5" stroke="#222" stroke-width="0.9"/>
<text x="553.7" y="620.3" font-family="Liberation Sans, sans-serif" font-style="italic" font-size="7.5" text-anchor="middle" textLength="16" lengthAdjust="spacingAndGlyphs" fill="none" stroke="#c4c4c4" stroke-width="0.45" stroke-opacity="0.5" transform="rotate(-90 553.7 620.3)" dominant-baseline="central">LEGO</text>
<rect x="535.80" y="672.50" width="35.72" height="13.90" fill="#f1ca3b" stroke="#222" stroke-width="0.9"/>
<rect x="535.80" y="686.40" width="35.72" height="13.90" fill="#f1ca3b" stroke="#222" stroke-width="0.9"/>
<rect x="578.52" y="702.00" width="21.70" height="7.6" fill="url(#gy)" stroke="#222" stroke-width="0.9"/>
<rect x="571.52" y="637.80" width="35.72" height="35.90" fill="#c8190b" stroke="#222" stroke-width="0.9"/>
<circle cx="589.38" cy="655.80" r="11.20" fill="#c8190b" stroke="#3a0a04" stroke-width="0.9"/>
<text x="589.4" y="655.8" font-family="Liberation Sans, sans-serif" font-style="italic" font-size="7.5" text-anchor="middle" textLength="16" lengthAdjust="spacingAndGlyphs" fill="none" stroke="#9a1408" stroke-width="0.45" stroke-opacity="0.45" transform="rotate(0 589.4 655.8)" dominant-baseline="central">LEGO</text>
<rect x="571.52" y="674.80" width="35.72" height="13.60" fill="#f1ca3b" stroke="#222" stroke-width="0.9"/>
<rect x="571.52" y="688.40" width="35.72" height="13.60" fill="#f1ca3b" stroke="#222" stroke-width="0.9"/>
<rect x="614.24" y="704.10" width="21.70" height="7.6" fill="url(#gy)" stroke="#222" stroke-width="0.9"/>
<rect x="607.24" y="661.60" width="35.72" height="28.50" fill="#f98b1c" stroke="#222" stroke-width="0.9"/>
<circle cx="625.10" cy="679.60" r="11.20" fill="#f98b1c" stroke="#3a2004" stroke-width="0.9"/>
<text x="625.1" y="679.6" font-family="Liberation Sans, sans-serif" font-style="italic" font-size="7.5" text-anchor="middle" textLength="16" lengthAdjust="spacingAndGlyphs" fill="none" stroke="#d07418" stroke-width="0.45" stroke-opacity="0.5" transform="rotate(-90 625.1 679.6)" dominant-baseline="central">LEGO</text>
<rect x="607.24" y="619.80" width="35.72" height="41.80" fill="#9ea2a6" stroke="#222" stroke-width="0.9"/>
<circle cx="625.10" cy="637.80" r="11.20" fill="#f5f5f5" stroke="#222" stroke-width="0.9"/>
<text x="625.1" y="637.8" font-family="Liberation Sans, sans-serif" font-style="italic" font-size="7.5" text-anchor="middle" textLength="16" lengthAdjust="spacingAndGlyphs" fill="none" stroke="#c4c4c4" stroke-width="0.45" stroke-opacity="0.5" transform="rotate(-90 625.1 637.8)" dominant-baseline="central">LEGO</text>
<rect x="607.24" y="690.10" width="35.72" height="14.00" fill="#f1ca3b" stroke="#222" stroke-width="0.9"/>
<rect x="649.96" y="706.00" width="21.70" height="7.6" fill="url(#gy)" stroke="#222" stroke-width="0.9"/>
<rect x="642.96" y="655.20" width="35.72" height="36.30" fill="#c8190b" stroke="#222" stroke-width="0.9"/>
<circle cx="660.82" cy="673.20" r="11.20" fill="#c8190b" stroke="#3a0a04" stroke-width="0.9"/>
<text x="660.8" y="673.2" font-family="Liberation Sans, sans-serif" font-style="italic" font-size="7.5" text-anchor="middle" textLength="16" lengthAdjust="spacingAndGlyphs" fill="none" stroke="#9a1408" stroke-width="0.45" stroke-opacity="0.45" transform="rotate(0 660.8 673.2)" dominant-baseline="central">LEGO</text>
<rect x="642.96" y="692.00" width="35.72" height="14.00" fill="#f1ca3b" stroke="#222" stroke-width="0.9"/>
<rect x="685.68" y="708.00" width="21.70" height="7.6" fill="url(#gy)" stroke="#222" stroke-width="0.9"/>
<rect x="678.68" y="637.80" width="35.72" height="41.50" fill="#9ea2a6" stroke="#222" stroke-width="0.9"/>
<circle cx="696.54" cy="655.80" r="11.20" fill="#f5f5f5" stroke="#222" stroke-width="0.9"/>
<text x="696.5" y="655.8" font-family="Liberation Sans, sans-serif" font-style="italic" font-size="7.5" text-anchor="middle" textLength="16" lengthAdjust="spacingAndGlyphs" fill="none" stroke="#c4c4c4" stroke-width="0.45" stroke-opacity="0.5" transform="rotate(-90 696.5 655.8)" dominant-baseline="central">LEGO</text>
<rect x="678.68" y="679.00" width="35.72" height="14.50" fill="#f1ca3b" stroke="#222" stroke-width="0.9"/>
<rect x="678.68" y="693.50" width="35.72" height="14.50" fill="#f1ca3b" stroke="#222" stroke-width="0.9"/>
<rect x="721.40" y="709.20" width="21.70" height="7.6" fill="url(#gr)" stroke="#222" stroke-width="0.9"/>
<rect x="714.40" y="673.70" width="35.72" height="35.50" fill="#c8190b" stroke="#222" stroke-width="0.9"/>
<circle cx="732.26" cy="691.70" r="11.20" fill="#c8190b" stroke="#3a0a04" stroke-width="0.9"/>
<text x="732.3" y="691.7" font-family="Liberation Sans, sans-serif" font-style="italic" font-size="7.5" text-anchor="middle" textLength="16" lengthAdjust="spacingAndGlyphs" fill="none" stroke="#9a1408" stroke-width="0.45" stroke-opacity="0.45" transform="rotate(0 732.3 691.7)" dominant-baseline="central">LEGO</text></svg>
</body></html>
